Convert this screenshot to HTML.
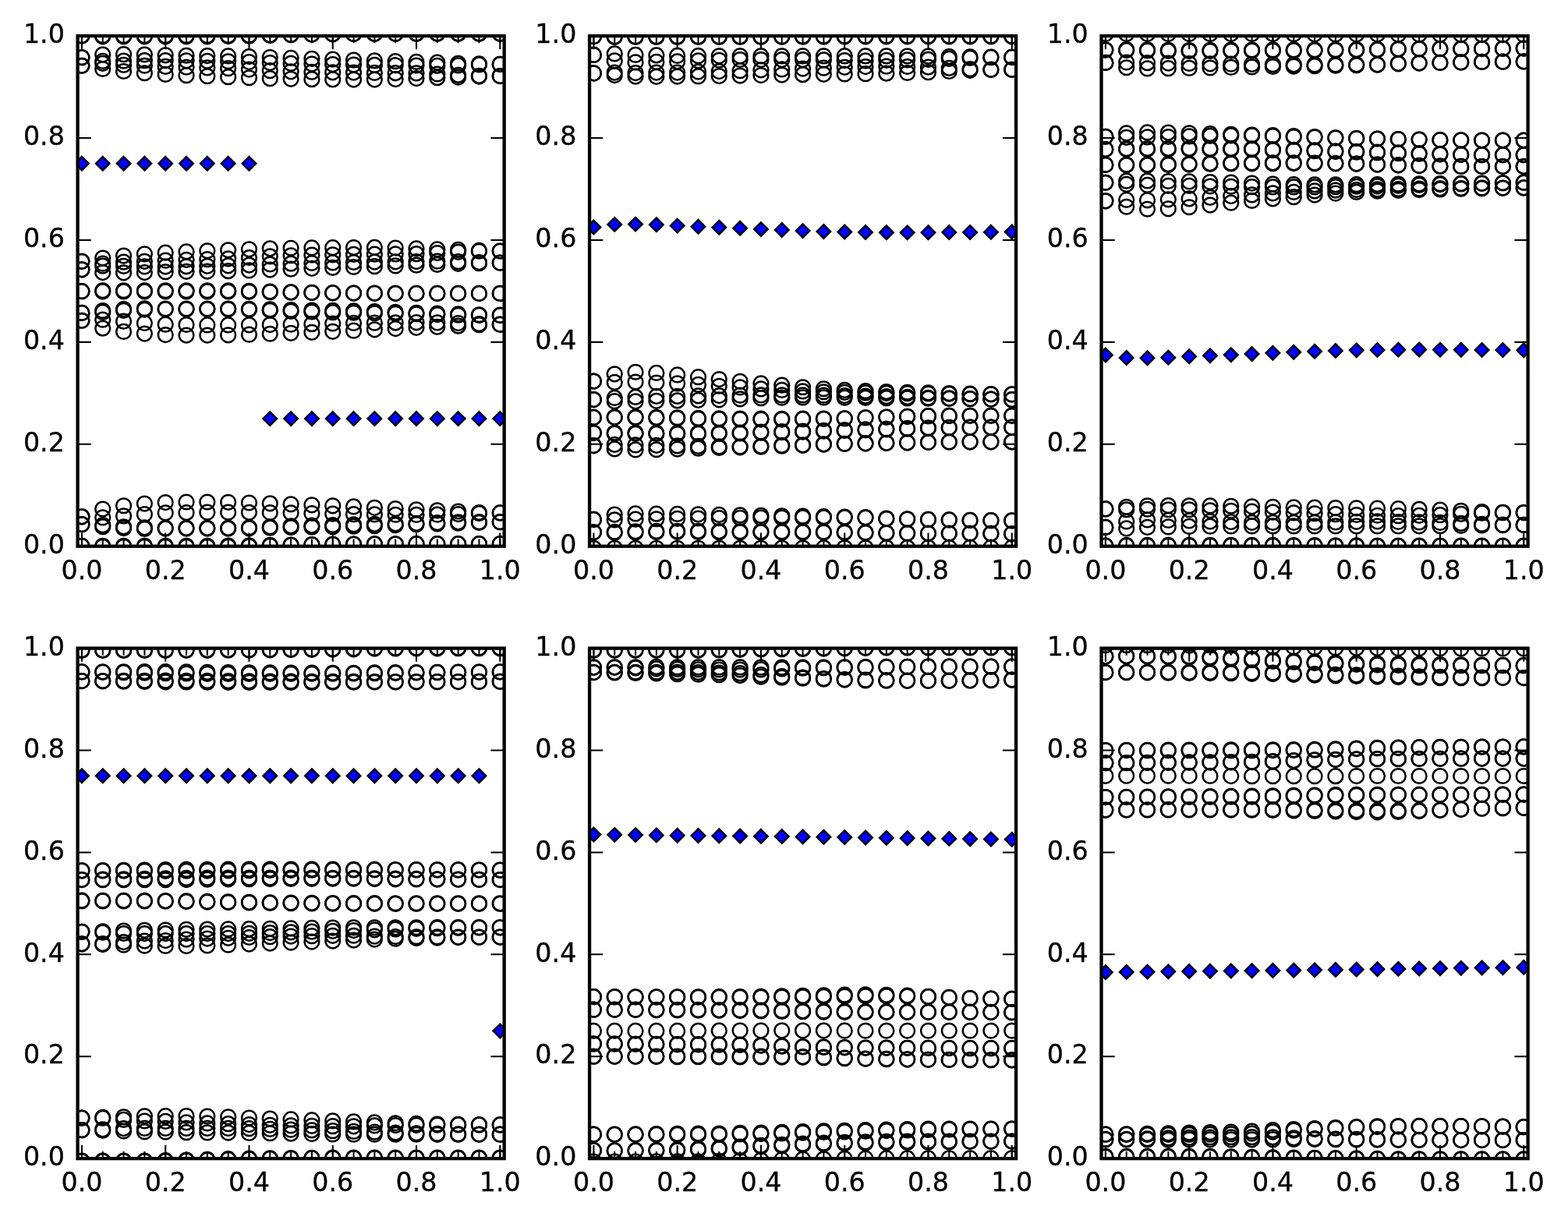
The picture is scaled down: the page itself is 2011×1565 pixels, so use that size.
<!DOCTYPE html>
<html lang="en">
<head>
<meta charset="utf-8">
<title>Spectrum subplots</title>
<style>
html,body{margin:0;padding:0;background:#fff;}
body{width:2011px;height:1565px;overflow:hidden;}
svg{display:block;}
text{font-family:"DejaVu Sans","Liberation Sans",sans-serif;font-size:33.33px;fill:#000;stroke:#000;stroke-width:0.3px;}
</style>
</head>
<body>

<svg width="2011" height="1565" viewBox="0 0 2011 1565">
<rect width="2011" height="1565" fill="#fff"/>
<defs><clipPath id="c0"><rect x="99.6" y="46.15" width="547.06" height="654.55"/></clipPath><clipPath id="c1"><rect x="756.07" y="46.15" width="547.06" height="654.55"/></clipPath><clipPath id="c2"><rect x="1412.54" y="46.15" width="547.06" height="654.55"/></clipPath><clipPath id="c3"><rect x="99.6" y="831.6" width="547.06" height="654.55"/></clipPath><clipPath id="c4"><rect x="756.07" y="831.6" width="547.06" height="654.55"/></clipPath><clipPath id="c5"><rect x="1412.54" y="831.6" width="547.06" height="654.55"/></clipPath></defs>
<g id="ax0">
<g clip-path="url(#c0)">
<g fill="none" stroke="#000" stroke-width="2.5"><circle cx="104.96" cy="73.77" r="9.35"/><circle cx="131.78" cy="69.98" r="9.35"/><circle cx="158.6" cy="69.71" r="9.35"/><circle cx="185.41" cy="69.98" r="9.35"/><circle cx="212.23" cy="70.83" r="9.35"/><circle cx="239.05" cy="71.25" r="9.35"/><circle cx="265.86" cy="71.55" r="9.35"/><circle cx="292.68" cy="71.94" r="9.35"/><circle cx="319.5" cy="72.62" r="9.35"/><circle cx="346.31" cy="73.52" r="9.35"/><circle cx="373.13" cy="74.43" r="9.35"/><circle cx="399.95" cy="75.3" r="9.35"/><circle cx="426.76" cy="76.18" r="9.35"/><circle cx="453.58" cy="77.06" r="9.35"/><circle cx="480.4" cy="77.9" r="9.35"/><circle cx="507.21" cy="78.66" r="9.35"/><circle cx="534.03" cy="79.4" r="9.35"/><circle cx="560.85" cy="80.19" r="9.35"/><circle cx="587.66" cy="81.23" r="9.35"/><circle cx="614.48" cy="81.89" r="9.35"/><circle cx="641.3" cy="82.41" r="9.35"/><circle cx="104.96" cy="73.77" r="9.35"/><circle cx="131.78" cy="78.42" r="9.35"/><circle cx="158.6" cy="78.16" r="9.35"/><circle cx="185.41" cy="77.63" r="9.35"/><circle cx="212.23" cy="77.63" r="9.35"/><circle cx="239.05" cy="77.81" r="9.35"/><circle cx="265.86" cy="78.23" r="9.35"/><circle cx="292.68" cy="78.75" r="9.35"/><circle cx="319.5" cy="79.53" r="9.35"/><circle cx="346.31" cy="80.56" r="9.35"/><circle cx="373.13" cy="81.43" r="9.35"/><circle cx="399.95" cy="82.05" r="9.35"/><circle cx="426.76" cy="82.61" r="9.35"/><circle cx="453.58" cy="83.08" r="9.35"/><circle cx="480.4" cy="83.46" r="9.35"/><circle cx="507.21" cy="83.72" r="9.35"/><circle cx="534.03" cy="83.98" r="9.35"/><circle cx="560.85" cy="84.38" r="9.35"/><circle cx="587.66" cy="83.92" r="9.35"/><circle cx="614.48" cy="82.94" r="9.35"/><circle cx="641.3" cy="82.41" r="9.35"/><circle cx="104.96" cy="84.24" r="9.35"/><circle cx="131.78" cy="81.36" r="9.35"/><circle cx="158.6" cy="83.39" r="9.35"/><circle cx="185.41" cy="84.24" r="9.35"/><circle cx="212.23" cy="85.42" r="9.35"/><circle cx="239.05" cy="86.23" r="9.35"/><circle cx="265.86" cy="86.9" r="9.35"/><circle cx="292.68" cy="87.71" r="9.35"/><circle cx="319.5" cy="89.08" r="9.35"/><circle cx="346.31" cy="90.71" r="9.35"/><circle cx="373.13" cy="91.84" r="9.35"/><circle cx="399.95" cy="92.38" r="9.35"/><circle cx="426.76" cy="92.78" r="9.35"/><circle cx="453.58" cy="93.11" r="9.35"/><circle cx="480.4" cy="93.41" r="9.35"/><circle cx="507.21" cy="93.63" r="9.35"/><circle cx="534.03" cy="93.93" r="9.35"/><circle cx="560.85" cy="94.98" r="9.35"/><circle cx="587.66" cy="96.29" r="9.35"/><circle cx="614.48" cy="97.34" r="9.35"/><circle cx="641.3" cy="97.6" r="9.35"/><circle cx="104.96" cy="84.24" r="9.35"/><circle cx="131.78" cy="88.5" r="9.35"/><circle cx="158.6" cy="91.51" r="9.35"/><circle cx="185.41" cy="93.74" r="9.35"/><circle cx="212.23" cy="95.44" r="9.35"/><circle cx="239.05" cy="96.68" r="9.35"/><circle cx="265.86" cy="97.74" r="9.35"/><circle cx="292.68" cy="98.71" r="9.35"/><circle cx="319.5" cy="99.75" r="9.35"/><circle cx="346.31" cy="100.72" r="9.35"/><circle cx="373.13" cy="101.33" r="9.35"/><circle cx="399.95" cy="101.64" r="9.35"/><circle cx="426.76" cy="101.89" r="9.35"/><circle cx="453.58" cy="102.05" r="9.35"/><circle cx="480.4" cy="102.11" r="9.35"/><circle cx="507.21" cy="101.58" r="9.35"/><circle cx="534.03" cy="100.61" r="9.35"/><circle cx="560.85" cy="99.63" r="9.35"/><circle cx="587.66" cy="99.1" r="9.35"/><circle cx="614.48" cy="98.12" r="9.35"/><circle cx="641.3" cy="97.6" r="9.35"/><circle cx="104.96" cy="662.87" r="9.35"/><circle cx="131.78" cy="652.98" r="9.35"/><circle cx="158.6" cy="648.73" r="9.35"/><circle cx="185.41" cy="646.05" r="9.35"/><circle cx="212.23" cy="644.54" r="9.35"/><circle cx="239.05" cy="644.02" r="9.35"/><circle cx="265.86" cy="644.02" r="9.35"/><circle cx="292.68" cy="644.34" r="9.35"/><circle cx="319.5" cy="644.98" r="9.35"/><circle cx="346.31" cy="645.87" r="9.35"/><circle cx="373.13" cy="646.83" r="9.35"/><circle cx="399.95" cy="647.79" r="9.35"/><circle cx="426.76" cy="648.84" r="9.35"/><circle cx="453.58" cy="649.97" r="9.35"/><circle cx="480.4" cy="651.28" r="9.35"/><circle cx="507.21" cy="652.55" r="9.35"/><circle cx="534.03" cy="653.77" r="9.35"/><circle cx="560.85" cy="654.85" r="9.35"/><circle cx="587.66" cy="655.99" r="9.35"/><circle cx="614.48" cy="657.5" r="9.35"/><circle cx="641.3" cy="657.96" r="9.35"/><circle cx="104.96" cy="662.87" r="9.35"/><circle cx="131.78" cy="663.91" r="9.35"/><circle cx="158.6" cy="661.95" r="9.35"/><circle cx="185.41" cy="659.66" r="9.35"/><circle cx="212.23" cy="657.96" r="9.35"/><circle cx="239.05" cy="657.63" r="9.35"/><circle cx="265.86" cy="657.17" r="9.35"/><circle cx="292.68" cy="657.17" r="9.35"/><circle cx="319.5" cy="657.3" r="9.35"/><circle cx="346.31" cy="657.6" r="9.35"/><circle cx="373.13" cy="657.96" r="9.35"/><circle cx="399.95" cy="658.48" r="9.35"/><circle cx="426.76" cy="659.15" r="9.35"/><circle cx="453.58" cy="659.66" r="9.35"/><circle cx="480.4" cy="659.92" r="9.35"/><circle cx="507.21" cy="660.25" r="9.35"/><circle cx="534.03" cy="660.45" r="9.35"/><circle cx="560.85" cy="660.17" r="9.35"/><circle cx="587.66" cy="659.59" r="9.35"/><circle cx="614.48" cy="658.61" r="9.35"/><circle cx="641.3" cy="657.96" r="9.35"/><circle cx="104.96" cy="672.69" r="9.35"/><circle cx="131.78" cy="673.67" r="9.35"/><circle cx="158.6" cy="675.83" r="9.35"/><circle cx="185.41" cy="676.87" r="9.35"/><circle cx="212.23" cy="677.33" r="9.35"/><circle cx="239.05" cy="677.33" r="9.35"/><circle cx="265.86" cy="677.33" r="9.35"/><circle cx="292.68" cy="677.33" r="9.35"/><circle cx="319.5" cy="676.85" r="9.35"/><circle cx="346.31" cy="675.82" r="9.35"/><circle cx="373.13" cy="674.85" r="9.35"/><circle cx="399.95" cy="674.14" r="9.35"/><circle cx="426.76" cy="673.48" r="9.35"/><circle cx="453.58" cy="672.88" r="9.35"/><circle cx="480.4" cy="672.36" r="9.35"/><circle cx="507.21" cy="671.89" r="9.35"/><circle cx="534.03" cy="671.38" r="9.35"/><circle cx="560.85" cy="670.55" r="9.35"/><circle cx="587.66" cy="669.87" r="9.35"/><circle cx="614.48" cy="669.67" r="9.35"/><circle cx="641.3" cy="669.67" r="9.35"/><circle cx="104.96" cy="672.69" r="9.35"/><circle cx="131.78" cy="675.63" r="9.35"/><circle cx="158.6" cy="677.59" r="9.35"/><circle cx="185.41" cy="678.38" r="9.35"/><circle cx="212.23" cy="678.12" r="9.35"/><circle cx="239.05" cy="678.12" r="9.35"/><circle cx="265.86" cy="678.12" r="9.35"/><circle cx="292.68" cy="678.12" r="9.35"/><circle cx="319.5" cy="677.84" r="9.35"/><circle cx="346.31" cy="677.22" r="9.35"/><circle cx="373.13" cy="676.61" r="9.35"/><circle cx="399.95" cy="676.13" r="9.35"/><circle cx="426.76" cy="675.66" r="9.35"/><circle cx="453.58" cy="675.17" r="9.35"/><circle cx="480.4" cy="674.65" r="9.35"/><circle cx="507.21" cy="673.71" r="9.35"/><circle cx="534.03" cy="672.69" r="9.35"/><circle cx="560.85" cy="671.91" r="9.35"/><circle cx="587.66" cy="671.18" r="9.35"/><circle cx="614.48" cy="670.39" r="9.35"/><circle cx="641.3" cy="669.67" r="9.35"/><circle cx="104.96" cy="700.44" r="9.35"/><circle cx="131.78" cy="700.24" r="9.35"/><circle cx="158.6" cy="700.24" r="9.35"/><circle cx="185.41" cy="700.24" r="9.35"/><circle cx="212.23" cy="700.24" r="9.35"/><circle cx="239.05" cy="700.24" r="9.35"/><circle cx="265.86" cy="700.24" r="9.35"/><circle cx="292.68" cy="700.11" r="9.35"/><circle cx="319.5" cy="699.82" r="9.35"/><circle cx="346.31" cy="699.4" r="9.35"/><circle cx="373.13" cy="699" r="9.35"/><circle cx="399.95" cy="698.63" r="9.35"/><circle cx="426.76" cy="698.27" r="9.35"/><circle cx="453.58" cy="698.02" r="9.35"/><circle cx="480.4" cy="697.86" r="9.35"/><circle cx="507.21" cy="697.74" r="9.35"/><circle cx="534.03" cy="697.69" r="9.35"/><circle cx="560.85" cy="697.69" r="9.35"/><circle cx="587.66" cy="697.69" r="9.35"/><circle cx="614.48" cy="697.69" r="9.35"/><circle cx="641.3" cy="697.69" r="9.35"/><circle cx="104.96" cy="45.89" r="9.35"/><circle cx="131.78" cy="45.69" r="9.35"/><circle cx="158.6" cy="45.69" r="9.35"/><circle cx="185.41" cy="45.69" r="9.35"/><circle cx="212.23" cy="45.69" r="9.35"/><circle cx="239.05" cy="45.69" r="9.35"/><circle cx="265.86" cy="45.69" r="9.35"/><circle cx="292.68" cy="45.56" r="9.35"/><circle cx="319.5" cy="45.27" r="9.35"/><circle cx="346.31" cy="44.85" r="9.35"/><circle cx="373.13" cy="44.45" r="9.35"/><circle cx="399.95" cy="44.08" r="9.35"/><circle cx="426.76" cy="43.72" r="9.35"/><circle cx="453.58" cy="43.47" r="9.35"/><circle cx="480.4" cy="43.31" r="9.35"/><circle cx="507.21" cy="43.19" r="9.35"/><circle cx="534.03" cy="43.14" r="9.35"/><circle cx="560.85" cy="43.14" r="9.35"/><circle cx="587.66" cy="43.14" r="9.35"/><circle cx="614.48" cy="43.14" r="9.35"/><circle cx="641.3" cy="43.14" r="9.35"/><circle cx="104.96" cy="700.44" r="9.35"/><circle cx="131.78" cy="701.35" r="9.35"/><circle cx="158.6" cy="701.35" r="9.35"/><circle cx="185.41" cy="701.35" r="9.35"/><circle cx="212.23" cy="701.35" r="9.35"/><circle cx="239.05" cy="701.35" r="9.35"/><circle cx="265.86" cy="701.35" r="9.35"/><circle cx="292.68" cy="701.17" r="9.35"/><circle cx="319.5" cy="700.77" r="9.35"/><circle cx="346.31" cy="700.03" r="9.35"/><circle cx="373.13" cy="699.26" r="9.35"/><circle cx="399.95" cy="698.79" r="9.35"/><circle cx="426.76" cy="698.42" r="9.35"/><circle cx="453.58" cy="698.15" r="9.35"/><circle cx="480.4" cy="697.93" r="9.35"/><circle cx="507.21" cy="697.76" r="9.35"/><circle cx="534.03" cy="697.69" r="9.35"/><circle cx="560.85" cy="697.69" r="9.35"/><circle cx="587.66" cy="697.69" r="9.35"/><circle cx="614.48" cy="697.69" r="9.35"/><circle cx="641.3" cy="697.69" r="9.35"/><circle cx="104.96" cy="45.89" r="9.35"/><circle cx="131.78" cy="46.8" r="9.35"/><circle cx="158.6" cy="46.8" r="9.35"/><circle cx="185.41" cy="46.8" r="9.35"/><circle cx="212.23" cy="46.8" r="9.35"/><circle cx="239.05" cy="46.8" r="9.35"/><circle cx="265.86" cy="46.8" r="9.35"/><circle cx="292.68" cy="46.62" r="9.35"/><circle cx="319.5" cy="46.22" r="9.35"/><circle cx="346.31" cy="45.48" r="9.35"/><circle cx="373.13" cy="44.71" r="9.35"/><circle cx="399.95" cy="44.24" r="9.35"/><circle cx="426.76" cy="43.87" r="9.35"/><circle cx="453.58" cy="43.6" r="9.35"/><circle cx="480.4" cy="43.38" r="9.35"/><circle cx="507.21" cy="43.21" r="9.35"/><circle cx="534.03" cy="43.14" r="9.35"/><circle cx="560.85" cy="43.14" r="9.35"/><circle cx="587.66" cy="43.14" r="9.35"/><circle cx="614.48" cy="43.14" r="9.35"/><circle cx="641.3" cy="43.14" r="9.35"/><circle cx="104.96" cy="345.8" r="9.35"/><circle cx="131.78" cy="349.6" r="9.35"/><circle cx="158.6" cy="349.86" r="9.35"/><circle cx="185.41" cy="349.6" r="9.35"/><circle cx="212.23" cy="348.75" r="9.35"/><circle cx="239.05" cy="348.33" r="9.35"/><circle cx="265.86" cy="348.03" r="9.35"/><circle cx="292.68" cy="347.64" r="9.35"/><circle cx="319.5" cy="346.95" r="9.35"/><circle cx="346.31" cy="346.06" r="9.35"/><circle cx="373.13" cy="345.15" r="9.35"/><circle cx="399.95" cy="344.28" r="9.35"/><circle cx="426.76" cy="343.39" r="9.35"/><circle cx="453.58" cy="342.51" r="9.35"/><circle cx="480.4" cy="341.68" r="9.35"/><circle cx="507.21" cy="340.92" r="9.35"/><circle cx="534.03" cy="340.17" r="9.35"/><circle cx="560.85" cy="339.39" r="9.35"/><circle cx="587.66" cy="338.34" r="9.35"/><circle cx="614.48" cy="337.69" r="9.35"/><circle cx="641.3" cy="337.16" r="9.35"/><circle cx="104.96" cy="345.8" r="9.35"/><circle cx="131.78" cy="341.16" r="9.35"/><circle cx="158.6" cy="341.42" r="9.35"/><circle cx="185.41" cy="341.94" r="9.35"/><circle cx="212.23" cy="341.94" r="9.35"/><circle cx="239.05" cy="341.77" r="9.35"/><circle cx="265.86" cy="341.35" r="9.35"/><circle cx="292.68" cy="340.83" r="9.35"/><circle cx="319.5" cy="340.05" r="9.35"/><circle cx="346.31" cy="339.02" r="9.35"/><circle cx="373.13" cy="338.14" r="9.35"/><circle cx="399.95" cy="337.52" r="9.35"/><circle cx="426.76" cy="336.97" r="9.35"/><circle cx="453.58" cy="336.5" r="9.35"/><circle cx="480.4" cy="336.12" r="9.35"/><circle cx="507.21" cy="335.85" r="9.35"/><circle cx="534.03" cy="335.59" r="9.35"/><circle cx="560.85" cy="335.2" r="9.35"/><circle cx="587.66" cy="335.66" r="9.35"/><circle cx="614.48" cy="336.64" r="9.35"/><circle cx="641.3" cy="337.16" r="9.35"/><circle cx="104.96" cy="335.33" r="9.35"/><circle cx="131.78" cy="338.21" r="9.35"/><circle cx="158.6" cy="336.18" r="9.35"/><circle cx="185.41" cy="335.33" r="9.35"/><circle cx="212.23" cy="334.15" r="9.35"/><circle cx="239.05" cy="333.35" r="9.35"/><circle cx="265.86" cy="332.68" r="9.35"/><circle cx="292.68" cy="331.86" r="9.35"/><circle cx="319.5" cy="330.5" r="9.35"/><circle cx="346.31" cy="328.87" r="9.35"/><circle cx="373.13" cy="327.74" r="9.35"/><circle cx="399.95" cy="327.2" r="9.35"/><circle cx="426.76" cy="326.79" r="9.35"/><circle cx="453.58" cy="326.47" r="9.35"/><circle cx="480.4" cy="326.17" r="9.35"/><circle cx="507.21" cy="325.94" r="9.35"/><circle cx="534.03" cy="325.64" r="9.35"/><circle cx="560.85" cy="324.6" r="9.35"/><circle cx="587.66" cy="323.29" r="9.35"/><circle cx="614.48" cy="322.24" r="9.35"/><circle cx="641.3" cy="321.98" r="9.35"/><circle cx="104.96" cy="335.33" r="9.35"/><circle cx="131.78" cy="331.08" r="9.35"/><circle cx="158.6" cy="328.06" r="9.35"/><circle cx="185.41" cy="325.84" r="9.35"/><circle cx="212.23" cy="324.14" r="9.35"/><circle cx="239.05" cy="322.89" r="9.35"/><circle cx="265.86" cy="321.84" r="9.35"/><circle cx="292.68" cy="320.86" r="9.35"/><circle cx="319.5" cy="319.83" r="9.35"/><circle cx="346.31" cy="318.86" r="9.35"/><circle cx="373.13" cy="318.25" r="9.35"/><circle cx="399.95" cy="317.94" r="9.35"/><circle cx="426.76" cy="317.69" r="9.35"/><circle cx="453.58" cy="317.52" r="9.35"/><circle cx="480.4" cy="317.46" r="9.35"/><circle cx="507.21" cy="318" r="9.35"/><circle cx="534.03" cy="318.97" r="9.35"/><circle cx="560.85" cy="319.95" r="9.35"/><circle cx="587.66" cy="320.47" r="9.35"/><circle cx="614.48" cy="321.45" r="9.35"/><circle cx="641.3" cy="321.98" r="9.35"/><circle cx="104.96" cy="411.26" r="9.35"/><circle cx="131.78" cy="421.14" r="9.35"/><circle cx="158.6" cy="425.4" r="9.35"/><circle cx="185.41" cy="428.08" r="9.35"/><circle cx="212.23" cy="429.59" r="9.35"/><circle cx="239.05" cy="430.11" r="9.35"/><circle cx="265.86" cy="430.11" r="9.35"/><circle cx="292.68" cy="429.78" r="9.35"/><circle cx="319.5" cy="429.15" r="9.35"/><circle cx="346.31" cy="428.25" r="9.35"/><circle cx="373.13" cy="427.29" r="9.35"/><circle cx="399.95" cy="426.33" r="9.35"/><circle cx="426.76" cy="425.29" r="9.35"/><circle cx="453.58" cy="424.15" r="9.35"/><circle cx="480.4" cy="422.84" r="9.35"/><circle cx="507.21" cy="421.57" r="9.35"/><circle cx="534.03" cy="420.36" r="9.35"/><circle cx="560.85" cy="419.28" r="9.35"/><circle cx="587.66" cy="418.13" r="9.35"/><circle cx="614.48" cy="416.63" r="9.35"/><circle cx="641.3" cy="416.17" r="9.35"/><circle cx="104.96" cy="411.26" r="9.35"/><circle cx="131.78" cy="410.21" r="9.35"/><circle cx="158.6" cy="412.17" r="9.35"/><circle cx="185.41" cy="414.47" r="9.35"/><circle cx="212.23" cy="416.17" r="9.35"/><circle cx="239.05" cy="416.49" r="9.35"/><circle cx="265.86" cy="416.95" r="9.35"/><circle cx="292.68" cy="416.95" r="9.35"/><circle cx="319.5" cy="416.83" r="9.35"/><circle cx="346.31" cy="416.53" r="9.35"/><circle cx="373.13" cy="416.17" r="9.35"/><circle cx="399.95" cy="415.64" r="9.35"/><circle cx="426.76" cy="414.98" r="9.35"/><circle cx="453.58" cy="414.47" r="9.35"/><circle cx="480.4" cy="414.2" r="9.35"/><circle cx="507.21" cy="413.88" r="9.35"/><circle cx="534.03" cy="413.68" r="9.35"/><circle cx="560.85" cy="413.95" r="9.35"/><circle cx="587.66" cy="414.53" r="9.35"/><circle cx="614.48" cy="415.51" r="9.35"/><circle cx="641.3" cy="416.17" r="9.35"/><circle cx="104.96" cy="401.44" r="9.35"/><circle cx="131.78" cy="400.46" r="9.35"/><circle cx="158.6" cy="398.3" r="9.35"/><circle cx="185.41" cy="397.25" r="9.35"/><circle cx="212.23" cy="396.79" r="9.35"/><circle cx="239.05" cy="396.79" r="9.35"/><circle cx="265.86" cy="396.79" r="9.35"/><circle cx="292.68" cy="396.79" r="9.35"/><circle cx="319.5" cy="397.27" r="9.35"/><circle cx="346.31" cy="398.31" r="9.35"/><circle cx="373.13" cy="399.28" r="9.35"/><circle cx="399.95" cy="399.99" r="9.35"/><circle cx="426.76" cy="400.64" r="9.35"/><circle cx="453.58" cy="401.24" r="9.35"/><circle cx="480.4" cy="401.77" r="9.35"/><circle cx="507.21" cy="402.24" r="9.35"/><circle cx="534.03" cy="402.75" r="9.35"/><circle cx="560.85" cy="403.58" r="9.35"/><circle cx="587.66" cy="404.25" r="9.35"/><circle cx="614.48" cy="404.45" r="9.35"/><circle cx="641.3" cy="404.45" r="9.35"/><circle cx="104.96" cy="401.44" r="9.35"/><circle cx="131.78" cy="398.49" r="9.35"/><circle cx="158.6" cy="396.53" r="9.35"/><circle cx="185.41" cy="395.75" r="9.35"/><circle cx="212.23" cy="396.01" r="9.35"/><circle cx="239.05" cy="396.01" r="9.35"/><circle cx="265.86" cy="396.01" r="9.35"/><circle cx="292.68" cy="396.01" r="9.35"/><circle cx="319.5" cy="396.29" r="9.35"/><circle cx="346.31" cy="396.9" r="9.35"/><circle cx="373.13" cy="397.51" r="9.35"/><circle cx="399.95" cy="397.99" r="9.35"/><circle cx="426.76" cy="398.46" r="9.35"/><circle cx="453.58" cy="398.95" r="9.35"/><circle cx="480.4" cy="399.48" r="9.35"/><circle cx="507.21" cy="400.41" r="9.35"/><circle cx="534.03" cy="401.44" r="9.35"/><circle cx="560.85" cy="402.21" r="9.35"/><circle cx="587.66" cy="402.95" r="9.35"/><circle cx="614.48" cy="403.73" r="9.35"/><circle cx="641.3" cy="404.45" r="9.35"/><circle cx="104.96" cy="373.69" r="9.35"/><circle cx="131.78" cy="373.88" r="9.35"/><circle cx="158.6" cy="373.88" r="9.35"/><circle cx="185.41" cy="373.88" r="9.35"/><circle cx="212.23" cy="373.88" r="9.35"/><circle cx="239.05" cy="373.88" r="9.35"/><circle cx="265.86" cy="373.88" r="9.35"/><circle cx="292.68" cy="374.01" r="9.35"/><circle cx="319.5" cy="374.3" r="9.35"/><circle cx="346.31" cy="374.72" r="9.35"/><circle cx="373.13" cy="375.13" r="9.35"/><circle cx="399.95" cy="375.5" r="9.35"/><circle cx="426.76" cy="375.86" r="9.35"/><circle cx="453.58" cy="376.11" r="9.35"/><circle cx="480.4" cy="376.27" r="9.35"/><circle cx="507.21" cy="376.39" r="9.35"/><circle cx="534.03" cy="376.44" r="9.35"/><circle cx="560.85" cy="376.44" r="9.35"/><circle cx="587.66" cy="376.44" r="9.35"/><circle cx="614.48" cy="376.44" r="9.35"/><circle cx="641.3" cy="376.44" r="9.35"/><circle cx="104.96" cy="373.69" r="9.35"/><circle cx="131.78" cy="372.77" r="9.35"/><circle cx="158.6" cy="372.77" r="9.35"/><circle cx="185.41" cy="372.77" r="9.35"/><circle cx="212.23" cy="372.77" r="9.35"/><circle cx="239.05" cy="372.77" r="9.35"/><circle cx="265.86" cy="372.77" r="9.35"/><circle cx="292.68" cy="372.96" r="9.35"/><circle cx="319.5" cy="373.36" r="9.35"/><circle cx="346.31" cy="374.09" r="9.35"/><circle cx="373.13" cy="374.87" r="9.35"/><circle cx="399.95" cy="375.33" r="9.35"/><circle cx="426.76" cy="375.71" r="9.35"/><circle cx="453.58" cy="375.98" r="9.35"/><circle cx="480.4" cy="376.19" r="9.35"/><circle cx="507.21" cy="376.37" r="9.35"/><circle cx="534.03" cy="376.44" r="9.35"/><circle cx="560.85" cy="376.44" r="9.35"/><circle cx="587.66" cy="376.44" r="9.35"/><circle cx="614.48" cy="376.44" r="9.35"/><circle cx="641.3" cy="376.44" r="9.35"/></g>
<path fill="none" stroke="#000" stroke-width="2" d="M104.96 36.95V55.35M95.76 46.15H114.16M131.78 36.95V55.35M122.58 46.15H140.98M158.6 36.95V55.35M149.4 46.15H167.8M185.41 36.95V55.35M176.21 46.15H194.61M212.23 36.95V55.35M203.03 46.15H221.43M239.05 36.95V55.35M229.85 46.15H248.25M265.86 36.95V55.35M256.66 46.15H275.06M292.68 36.95V55.35M283.48 46.15H301.88M319.5 36.95V55.35M310.3 46.15H328.7M346.31 36.95V55.35M337.11 46.15H355.51M373.13 36.95V55.35M363.93 46.15H382.33M399.95 36.95V55.35M390.75 46.15H409.15M426.76 36.95V55.35M417.56 46.15H435.96M453.58 36.95V55.35M444.38 46.15H462.78M480.4 36.95V55.35M471.2 46.15H489.6M507.21 36.95V55.35M498.01 46.15H516.41M534.03 36.95V55.35M524.83 46.15H543.23M560.85 36.95V55.35M551.65 46.15H570.05M587.66 36.95V55.35M578.46 46.15H596.86M614.48 36.95V55.35M605.28 46.15H623.68M641.3 36.95V55.35M632.1 46.15H650.5M104.96 691.5V709.9M95.76 700.7H114.16M131.78 691.5V709.9M122.58 700.7H140.98M158.6 691.5V709.9M149.4 700.7H167.8M185.41 691.5V709.9M176.21 700.7H194.61M212.23 691.5V709.9M203.03 700.7H221.43M239.05 691.5V709.9M229.85 700.7H248.25M265.86 691.5V709.9M256.66 700.7H275.06M292.68 691.5V709.9M283.48 700.7H301.88M319.5 691.5V709.9M310.3 700.7H328.7M346.31 691.5V709.9M337.11 700.7H355.51M373.13 691.5V709.9M363.93 700.7H382.33M399.95 691.5V709.9M390.75 700.7H409.15M426.76 691.5V709.9M417.56 700.7H435.96M453.58 691.5V709.9M444.38 700.7H462.78M480.4 691.5V709.9M471.2 700.7H489.6M507.21 691.5V709.9M498.01 700.7H516.41M534.03 691.5V709.9M524.83 700.7H543.23M560.85 691.5V709.9M551.65 700.7H570.05M587.66 691.5V709.9M578.46 700.7H596.86M614.48 691.5V709.9M605.28 700.7H623.68M641.3 691.5V709.9M632.1 700.7H650.5"/>
<path fill="#0000ff" stroke="#000" stroke-width="2.3" stroke-linejoin="miter" d="M104.96 200.95L113.8 209.79L104.96 218.63L96.12 209.79ZM131.78 200.95L140.62 209.79L131.78 218.63L122.94 209.79ZM158.6 200.95L167.44 209.79L158.6 218.63L149.76 209.79ZM185.41 200.95L194.25 209.79L185.41 218.63L176.57 209.79ZM212.23 200.95L221.07 209.79L212.23 218.63L203.39 209.79ZM239.05 200.95L247.89 209.79L239.05 218.63L230.21 209.79ZM265.86 200.95L274.7 209.79L265.86 218.63L257.02 209.79ZM292.68 200.95L301.52 209.79L292.68 218.63L283.84 209.79ZM319.5 200.95L328.34 209.79L319.5 218.63L310.66 209.79ZM346.31 528.22L355.15 537.06L346.31 545.9L337.47 537.06ZM373.13 528.22L381.97 537.06L373.13 545.9L364.29 537.06ZM399.95 528.22L408.79 537.06L399.95 545.9L391.11 537.06ZM426.76 528.22L435.6 537.06L426.76 545.9L417.92 537.06ZM453.58 528.22L462.42 537.06L453.58 545.9L444.74 537.06ZM480.4 528.22L489.24 537.06L480.4 545.9L471.56 537.06ZM507.21 528.22L516.05 537.06L507.21 545.9L498.37 537.06ZM534.03 528.22L542.87 537.06L534.03 545.9L525.19 537.06ZM560.85 528.22L569.69 537.06L560.85 545.9L552.01 537.06ZM587.66 528.22L596.5 537.06L587.66 545.9L578.82 537.06ZM614.48 528.22L623.32 537.06L614.48 545.9L605.64 537.06ZM641.3 528.22L650.14 537.06L641.3 545.9L632.46 537.06Z"/>
</g>
<path fill="none" stroke="#000" stroke-width="2.08" d="M104.96 700.7V683.5M104.96 46.15V63.35M99.6 700.7H116.8M646.66 700.7H629.46M212.23 700.7V683.5M212.23 46.15V63.35M99.6 569.79H116.8M646.66 569.79H629.46M319.5 700.7V683.5M319.5 46.15V63.35M99.6 438.88H116.8M646.66 438.88H629.46M426.76 700.7V683.5M426.76 46.15V63.35M99.6 307.97H116.8M646.66 307.97H629.46M534.03 700.7V683.5M534.03 46.15V63.35M99.6 177.06H116.8M646.66 177.06H629.46M641.3 700.7V683.5M641.3 46.15V63.35M99.6 46.15H116.8M646.66 46.15H629.46"/>
<rect x="99.6" y="46.15" width="547.06" height="654.55" fill="none" stroke="#000" stroke-width="4.3"/>
<g><text x="104.96" y="743" text-anchor="middle">0.0</text><text x="82.9" y="709.9" text-anchor="end">0.0</text><text x="212.23" y="743" text-anchor="middle">0.2</text><text x="82.9" y="578.99" text-anchor="end">0.2</text><text x="319.5" y="743" text-anchor="middle">0.4</text><text x="82.9" y="448.08" text-anchor="end">0.4</text><text x="426.76" y="743" text-anchor="middle">0.6</text><text x="82.9" y="317.17" text-anchor="end">0.6</text><text x="534.03" y="743" text-anchor="middle">0.8</text><text x="82.9" y="186.26" text-anchor="end">0.8</text><text x="641.3" y="743" text-anchor="middle">1.0</text><text x="82.9" y="55.35" text-anchor="end">1.0</text></g>
</g>
<g id="ax1">
<g clip-path="url(#c1)">
<g fill="none" stroke="#000" stroke-width="2.5"><circle cx="761.43" cy="70.43" r="9.35"/><circle cx="788.25" cy="68.93" r="9.35"/><circle cx="815.07" cy="70.43" r="9.35"/><circle cx="841.88" cy="70.89" r="9.35"/><circle cx="868.7" cy="71.42" r="9.35"/><circle cx="895.52" cy="71.68" r="9.35"/><circle cx="922.33" cy="71.85" r="9.35"/><circle cx="949.15" cy="71.94" r="9.35"/><circle cx="975.97" cy="71.94" r="9.35"/><circle cx="1002.78" cy="71.94" r="9.35"/><circle cx="1029.6" cy="71.94" r="9.35"/><circle cx="1056.42" cy="71.94" r="9.35"/><circle cx="1083.23" cy="71.94" r="9.35"/><circle cx="1110.05" cy="71.94" r="9.35"/><circle cx="1136.87" cy="71.94" r="9.35"/><circle cx="1163.68" cy="72.02" r="9.35"/><circle cx="1190.5" cy="72.2" r="9.35"/><circle cx="1217.32" cy="72.53" r="9.35"/><circle cx="1244.13" cy="72.92" r="9.35"/><circle cx="1270.95" cy="73.18" r="9.35"/><circle cx="1297.77" cy="73.38" r="9.35"/><circle cx="761.43" cy="70.43" r="9.35"/><circle cx="788.25" cy="77.9" r="9.35"/><circle cx="815.07" cy="79.92" r="9.35"/><circle cx="841.88" cy="79.4" r="9.35"/><circle cx="868.7" cy="78.88" r="9.35"/><circle cx="895.52" cy="77.9" r="9.35"/><circle cx="922.33" cy="77.24" r="9.35"/><circle cx="949.15" cy="76.52" r="9.35"/><circle cx="975.97" cy="76.53" r="9.35"/><circle cx="1002.78" cy="76.55" r="9.35"/><circle cx="1029.6" cy="76.59" r="9.35"/><circle cx="1056.42" cy="76.94" r="9.35"/><circle cx="1083.23" cy="77.57" r="9.35"/><circle cx="1110.05" cy="77.9" r="9.35"/><circle cx="1136.87" cy="77.37" r="9.35"/><circle cx="1163.68" cy="76.92" r="9.35"/><circle cx="1190.5" cy="76.39" r="9.35"/><circle cx="1217.32" cy="75.46" r="9.35"/><circle cx="1244.13" cy="74.43" r="9.35"/><circle cx="1270.95" cy="73.64" r="9.35"/><circle cx="1297.77" cy="73.38" r="9.35"/><circle cx="761.43" cy="93.93" r="9.35"/><circle cx="788.25" cy="93.08" r="9.35"/><circle cx="815.07" cy="93.6" r="9.35"/><circle cx="841.88" cy="93.08" r="9.35"/><circle cx="868.7" cy="93.08" r="9.35"/><circle cx="895.52" cy="92.1" r="9.35"/><circle cx="922.33" cy="91.58" r="9.35"/><circle cx="949.15" cy="90.66" r="9.35"/><circle cx="975.97" cy="89.79" r="9.35"/><circle cx="1002.78" cy="88.94" r="9.35"/><circle cx="1029.6" cy="88.11" r="9.35"/><circle cx="1056.42" cy="87.21" r="9.35"/><circle cx="1083.23" cy="86.33" r="9.35"/><circle cx="1110.05" cy="85.62" r="9.35"/><circle cx="1136.87" cy="85.16" r="9.35"/><circle cx="1163.68" cy="85.48" r="9.35"/><circle cx="1190.5" cy="86.14" r="9.35"/><circle cx="1217.32" cy="87.39" r="9.35"/><circle cx="1244.13" cy="88.63" r="9.35"/><circle cx="1270.95" cy="89.15" r="9.35"/><circle cx="1297.77" cy="89.28" r="9.35"/><circle cx="761.43" cy="93.93" r="9.35"/><circle cx="788.25" cy="96.62" r="9.35"/><circle cx="815.07" cy="98.12" r="9.35"/><circle cx="841.88" cy="98.32" r="9.35"/><circle cx="868.7" cy="98.12" r="9.35"/><circle cx="895.52" cy="97.92" r="9.35"/><circle cx="922.33" cy="97.6" r="9.35"/><circle cx="949.15" cy="97.07" r="9.35"/><circle cx="975.97" cy="96.56" r="9.35"/><circle cx="1002.78" cy="96.07" r="9.35"/><circle cx="1029.6" cy="95.63" r="9.35"/><circle cx="1056.42" cy="95.3" r="9.35"/><circle cx="1083.23" cy="95.01" r="9.35"/><circle cx="1110.05" cy="94.65" r="9.35"/><circle cx="1136.87" cy="94.13" r="9.35"/><circle cx="1163.68" cy="93.48" r="9.35"/><circle cx="1190.5" cy="92.69" r="9.35"/><circle cx="1217.32" cy="91.5" r="9.35"/><circle cx="1244.13" cy="90.33" r="9.35"/><circle cx="1270.95" cy="89.61" r="9.35"/><circle cx="1297.77" cy="89.28" r="9.35"/><circle cx="761.43" cy="666.4" r="9.35"/><circle cx="788.25" cy="660.12" r="9.35"/><circle cx="815.07" cy="658.94" r="9.35"/><circle cx="841.88" cy="659.14" r="9.35"/><circle cx="868.7" cy="659.4" r="9.35"/><circle cx="895.52" cy="659.83" r="9.35"/><circle cx="922.33" cy="660.38" r="9.35"/><circle cx="949.15" cy="660.9" r="9.35"/><circle cx="975.97" cy="661.35" r="9.35"/><circle cx="1002.78" cy="661.77" r="9.35"/><circle cx="1029.6" cy="662.21" r="9.35"/><circle cx="1056.42" cy="662.64" r="9.35"/><circle cx="1083.23" cy="663.08" r="9.35"/><circle cx="1110.05" cy="663.72" r="9.35"/><circle cx="1136.87" cy="665.03" r="9.35"/><circle cx="1163.68" cy="665.8" r="9.35"/><circle cx="1190.5" cy="666.4" r="9.35"/><circle cx="1217.32" cy="666.95" r="9.35"/><circle cx="1244.13" cy="667.38" r="9.35"/><circle cx="1270.95" cy="667.69" r="9.35"/><circle cx="1297.77" cy="667.91" r="9.35"/><circle cx="761.43" cy="666.4" r="9.35"/><circle cx="788.25" cy="666.86" r="9.35"/><circle cx="815.07" cy="666.21" r="9.35"/><circle cx="841.88" cy="665.74" r="9.35"/><circle cx="868.7" cy="665.35" r="9.35"/><circle cx="895.52" cy="664.98" r="9.35"/><circle cx="922.33" cy="664.64" r="9.35"/><circle cx="949.15" cy="664.37" r="9.35"/><circle cx="975.97" cy="664.16" r="9.35"/><circle cx="1002.78" cy="663.99" r="9.35"/><circle cx="1029.6" cy="663.91" r="9.35"/><circle cx="1056.42" cy="663.93" r="9.35"/><circle cx="1083.23" cy="663.97" r="9.35"/><circle cx="1110.05" cy="664.05" r="9.35"/><circle cx="1136.87" cy="665.49" r="9.35"/><circle cx="1163.68" cy="666.01" r="9.35"/><circle cx="1190.5" cy="666.4" r="9.35"/><circle cx="1217.32" cy="666.93" r="9.35"/><circle cx="1244.13" cy="667.38" r="9.35"/><circle cx="1270.95" cy="667.69" r="9.35"/><circle cx="1297.77" cy="667.91" r="9.35"/><circle cx="761.43" cy="682.77" r="9.35"/><circle cx="788.25" cy="682.24" r="9.35"/><circle cx="815.07" cy="681.85" r="9.35"/><circle cx="841.88" cy="681.47" r="9.35"/><circle cx="868.7" cy="681.26" r="9.35"/><circle cx="895.52" cy="681.37" r="9.35"/><circle cx="922.33" cy="681.61" r="9.35"/><circle cx="949.15" cy="681.78" r="9.35"/><circle cx="975.97" cy="681.85" r="9.35"/><circle cx="1002.78" cy="681.9" r="9.35"/><circle cx="1029.6" cy="681.98" r="9.35"/><circle cx="1056.42" cy="682.17" r="9.35"/><circle cx="1083.23" cy="682.49" r="9.35"/><circle cx="1110.05" cy="682.9" r="9.35"/><circle cx="1136.87" cy="683.55" r="9.35"/><circle cx="1163.68" cy="683.92" r="9.35"/><circle cx="1190.5" cy="684.14" r="9.35"/><circle cx="1217.32" cy="684.21" r="9.35"/><circle cx="1244.13" cy="684.27" r="9.35"/><circle cx="1270.95" cy="684.47" r="9.35"/><circle cx="1297.77" cy="684.79" r="9.35"/><circle cx="761.43" cy="682.77" r="9.35"/><circle cx="788.25" cy="683.16" r="9.35"/><circle cx="815.07" cy="682.9" r="9.35"/><circle cx="841.88" cy="682.53" r="9.35"/><circle cx="868.7" cy="682.31" r="9.35"/><circle cx="895.52" cy="682.43" r="9.35"/><circle cx="922.33" cy="682.66" r="9.35"/><circle cx="949.15" cy="682.83" r="9.35"/><circle cx="975.97" cy="682.88" r="9.35"/><circle cx="1002.78" cy="682.91" r="9.35"/><circle cx="1029.6" cy="682.96" r="9.35"/><circle cx="1056.42" cy="683.08" r="9.35"/><circle cx="1083.23" cy="683.28" r="9.35"/><circle cx="1110.05" cy="683.55" r="9.35"/><circle cx="1136.87" cy="684.01" r="9.35"/><circle cx="1163.68" cy="684.24" r="9.35"/><circle cx="1190.5" cy="684.34" r="9.35"/><circle cx="1217.32" cy="684.3" r="9.35"/><circle cx="1244.13" cy="684.27" r="9.35"/><circle cx="1270.95" cy="684.43" r="9.35"/><circle cx="1297.77" cy="684.79" r="9.35"/><circle cx="761.43" cy="489.02" r="9.35"/><circle cx="788.25" cy="479.79" r="9.35"/><circle cx="815.07" cy="477.24" r="9.35"/><circle cx="841.88" cy="478.41" r="9.35"/><circle cx="868.7" cy="480.9" r="9.35"/><circle cx="895.52" cy="483.65" r="9.35"/><circle cx="922.33" cy="486.53" r="9.35"/><circle cx="949.15" cy="489.35" r="9.35"/><circle cx="975.97" cy="491.96" r="9.35"/><circle cx="1002.78" cy="494.19" r="9.35"/><circle cx="1029.6" cy="496.74" r="9.35"/><circle cx="1056.42" cy="498.77" r="9.35"/><circle cx="1083.23" cy="500.41" r="9.35"/><circle cx="1110.05" cy="501.65" r="9.35"/><circle cx="1136.87" cy="502.57" r="9.35"/><circle cx="1163.68" cy="503.25" r="9.35"/><circle cx="1190.5" cy="503.88" r="9.35"/><circle cx="1217.32" cy="504.58" r="9.35"/><circle cx="1244.13" cy="505.19" r="9.35"/><circle cx="1270.95" cy="505.61" r="9.35"/><circle cx="1297.77" cy="505.91" r="9.35"/><circle cx="761.43" cy="489.02" r="9.35"/><circle cx="788.25" cy="490.46" r="9.35"/><circle cx="815.07" cy="490" r="9.35"/><circle cx="841.88" cy="490.98" r="9.35"/><circle cx="868.7" cy="491.96" r="9.35"/><circle cx="895.52" cy="493.47" r="9.35"/><circle cx="922.33" cy="495.24" r="9.35"/><circle cx="949.15" cy="496.94" r="9.35"/><circle cx="975.97" cy="498.97" r="9.35"/><circle cx="1002.78" cy="500.41" r="9.35"/><circle cx="1029.6" cy="501.91" r="9.35"/><circle cx="1056.42" cy="502.74" r="9.35"/><circle cx="1083.23" cy="503.35" r="9.35"/><circle cx="1110.05" cy="503.89" r="9.35"/><circle cx="1136.87" cy="504.33" r="9.35"/><circle cx="1163.68" cy="504.68" r="9.35"/><circle cx="1190.5" cy="504.99" r="9.35"/><circle cx="1217.32" cy="505.35" r="9.35"/><circle cx="1244.13" cy="505.64" r="9.35"/><circle cx="1270.95" cy="505.81" r="9.35"/><circle cx="1297.77" cy="505.91" r="9.35"/><circle cx="761.43" cy="512.58" r="9.35"/><circle cx="788.25" cy="510.42" r="9.35"/><circle cx="815.07" cy="509.38" r="9.35"/><circle cx="841.88" cy="508.39" r="9.35"/><circle cx="868.7" cy="508.39" r="9.35"/><circle cx="895.52" cy="507.87" r="9.35"/><circle cx="922.33" cy="507.61" r="9.35"/><circle cx="949.15" cy="507.15" r="9.35"/><circle cx="975.97" cy="506.95" r="9.35"/><circle cx="1002.78" cy="506.95" r="9.35"/><circle cx="1029.6" cy="506.95" r="9.35"/><circle cx="1056.42" cy="507.18" r="9.35"/><circle cx="1083.23" cy="507.61" r="9.35"/><circle cx="1110.05" cy="508.04" r="9.35"/><circle cx="1136.87" cy="508.59" r="9.35"/><circle cx="1163.68" cy="509.38" r="9.35"/><circle cx="1190.5" cy="510.23" r="9.35"/><circle cx="1217.32" cy="510.91" r="9.35"/><circle cx="1244.13" cy="511.54" r="9.35"/><circle cx="1270.95" cy="512.11" r="9.35"/><circle cx="1297.77" cy="512.65" r="9.35"/><circle cx="761.43" cy="512.58" r="9.35"/><circle cx="788.25" cy="514.68" r="9.35"/><circle cx="815.07" cy="514.87" r="9.35"/><circle cx="841.88" cy="514.35" r="9.35"/><circle cx="868.7" cy="513.89" r="9.35"/><circle cx="895.52" cy="513.37" r="9.35"/><circle cx="922.33" cy="512.84" r="9.35"/><circle cx="949.15" cy="511.8" r="9.35"/><circle cx="975.97" cy="510.68" r="9.35"/><circle cx="1002.78" cy="510.16" r="9.35"/><circle cx="1029.6" cy="509.96" r="9.35"/><circle cx="1056.42" cy="509.96" r="9.35"/><circle cx="1083.23" cy="510.16" r="9.35"/><circle cx="1110.05" cy="510.36" r="9.35"/><circle cx="1136.87" cy="510.68" r="9.35"/><circle cx="1163.68" cy="510.92" r="9.35"/><circle cx="1190.5" cy="511.14" r="9.35"/><circle cx="1217.32" cy="511.38" r="9.35"/><circle cx="1244.13" cy="511.67" r="9.35"/><circle cx="1270.95" cy="512.09" r="9.35"/><circle cx="1297.77" cy="512.65" r="9.35"/><circle cx="761.43" cy="535.43" r="9.35"/><circle cx="788.25" cy="535.62" r="9.35"/><circle cx="815.07" cy="535.82" r="9.35"/><circle cx="841.88" cy="536.21" r="9.35"/><circle cx="868.7" cy="536.6" r="9.35"/><circle cx="895.52" cy="537.26" r="9.35"/><circle cx="922.33" cy="537.72" r="9.35"/><circle cx="949.15" cy="537.91" r="9.35"/><circle cx="975.97" cy="538.04" r="9.35"/><circle cx="1002.78" cy="538.04" r="9.35"/><circle cx="1029.6" cy="537.72" r="9.35"/><circle cx="1056.42" cy="537.26" r="9.35"/><circle cx="1083.23" cy="536.74" r="9.35"/><circle cx="1110.05" cy="535.75" r="9.35"/><circle cx="1136.87" cy="535.03" r="9.35"/><circle cx="1163.68" cy="534.29" r="9.35"/><circle cx="1190.5" cy="533.72" r="9.35"/><circle cx="1217.32" cy="533.41" r="9.35"/><circle cx="1244.13" cy="533.27" r="9.35"/><circle cx="1270.95" cy="533.27" r="9.35"/><circle cx="1297.77" cy="533.27" r="9.35"/><circle cx="761.43" cy="555.26" r="9.35"/><circle cx="788.25" cy="555.26" r="9.35"/><circle cx="815.07" cy="555.33" r="9.35"/><circle cx="841.88" cy="555.45" r="9.35"/><circle cx="868.7" cy="555.52" r="9.35"/><circle cx="895.52" cy="555.46" r="9.35"/><circle cx="922.33" cy="555.28" r="9.35"/><circle cx="949.15" cy="555" r="9.35"/><circle cx="975.97" cy="554.08" r="9.35"/><circle cx="1002.78" cy="553.69" r="9.35"/><circle cx="1029.6" cy="553.16" r="9.35"/><circle cx="1056.42" cy="552.25" r="9.35"/><circle cx="1083.23" cy="551.72" r="9.35"/><circle cx="1110.05" cy="550.94" r="9.35"/><circle cx="1136.87" cy="550.15" r="9.35"/><circle cx="1163.68" cy="549.43" r="9.35"/><circle cx="1190.5" cy="548.84" r="9.35"/><circle cx="1217.32" cy="548.41" r="9.35"/><circle cx="1244.13" cy="548.19" r="9.35"/><circle cx="1270.95" cy="548.19" r="9.35"/><circle cx="1297.77" cy="548.19" r="9.35"/><circle cx="761.43" cy="555.26" r="9.35"/><circle cx="788.25" cy="556.18" r="9.35"/><circle cx="815.07" cy="556.36" r="9.35"/><circle cx="841.88" cy="556.47" r="9.35"/><circle cx="868.7" cy="556.5" r="9.35"/><circle cx="895.52" cy="556.44" r="9.35"/><circle cx="922.33" cy="556.26" r="9.35"/><circle cx="949.15" cy="555.98" r="9.35"/><circle cx="975.97" cy="555.06" r="9.35"/><circle cx="1002.78" cy="554.6" r="9.35"/><circle cx="1029.6" cy="554.08" r="9.35"/><circle cx="1056.42" cy="553.03" r="9.35"/><circle cx="1083.23" cy="552.51" r="9.35"/><circle cx="1110.05" cy="551.72" r="9.35"/><circle cx="1136.87" cy="550.94" r="9.35"/><circle cx="1163.68" cy="550.2" r="9.35"/><circle cx="1190.5" cy="549.5" r="9.35"/><circle cx="1217.32" cy="548.67" r="9.35"/><circle cx="1244.13" cy="548.19" r="9.35"/><circle cx="1270.95" cy="548.19" r="9.35"/><circle cx="1297.77" cy="548.19" r="9.35"/><circle cx="761.43" cy="571.62" r="9.35"/><circle cx="788.25" cy="570.38" r="9.35"/><circle cx="815.07" cy="570.9" r="9.35"/><circle cx="841.88" cy="571.36" r="9.35"/><circle cx="868.7" cy="571.88" r="9.35"/><circle cx="895.52" cy="572.41" r="9.35"/><circle cx="922.33" cy="572.93" r="9.35"/><circle cx="949.15" cy="573.06" r="9.35"/><circle cx="975.97" cy="572.34" r="9.35"/><circle cx="1002.78" cy="571.36" r="9.35"/><circle cx="1029.6" cy="570.84" r="9.35"/><circle cx="1056.42" cy="569.86" r="9.35"/><circle cx="1083.23" cy="569.33" r="9.35"/><circle cx="1110.05" cy="568.87" r="9.35"/><circle cx="1136.87" cy="568.35" r="9.35"/><circle cx="1163.68" cy="567.82" r="9.35"/><circle cx="1190.5" cy="567.37" r="9.35"/><circle cx="1217.32" cy="567.02" r="9.35"/><circle cx="1244.13" cy="566.84" r="9.35"/><circle cx="1270.95" cy="566.84" r="9.35"/><circle cx="1297.77" cy="566.84" r="9.35"/><circle cx="761.43" cy="571.62" r="9.35"/><circle cx="788.25" cy="575.88" r="9.35"/><circle cx="815.07" cy="576.92" r="9.35"/><circle cx="841.88" cy="576.73" r="9.35"/><circle cx="868.7" cy="576.07" r="9.35"/><circle cx="895.52" cy="575.22" r="9.35"/><circle cx="922.33" cy="574.5" r="9.35"/><circle cx="949.15" cy="573.85" r="9.35"/><circle cx="975.97" cy="573.13" r="9.35"/><circle cx="1002.78" cy="572.21" r="9.35"/><circle cx="1029.6" cy="571.36" r="9.35"/><circle cx="1056.42" cy="570.12" r="9.35"/><circle cx="1083.23" cy="569.33" r="9.35"/><circle cx="1110.05" cy="568.87" r="9.35"/><circle cx="1136.87" cy="568.35" r="9.35"/><circle cx="1163.68" cy="567.82" r="9.35"/><circle cx="1190.5" cy="567.37" r="9.35"/><circle cx="1217.32" cy="567.02" r="9.35"/><circle cx="1244.13" cy="566.84" r="9.35"/><circle cx="1270.95" cy="566.84" r="9.35"/><circle cx="1297.77" cy="566.84" r="9.35"/><circle cx="761.43" cy="535.43" r="9.35"/><circle cx="788.25" cy="535.1" r="9.35"/><circle cx="815.07" cy="534.97" r="9.35"/><circle cx="841.88" cy="535.36" r="9.35"/><circle cx="868.7" cy="535.75" r="9.35"/><circle cx="895.52" cy="536.41" r="9.35"/><circle cx="922.33" cy="536.87" r="9.35"/><circle cx="949.15" cy="537.06" r="9.35"/><circle cx="975.97" cy="537.19" r="9.35"/><circle cx="1002.78" cy="537.31" r="9.35"/><circle cx="1029.6" cy="537.19" r="9.35"/><circle cx="1056.42" cy="537.05" r="9.35"/><circle cx="1083.23" cy="536.74" r="9.35"/><circle cx="1110.05" cy="535.75" r="9.35"/><circle cx="1136.87" cy="535.03" r="9.35"/><circle cx="1163.68" cy="534.29" r="9.35"/><circle cx="1190.5" cy="533.72" r="9.35"/><circle cx="1217.32" cy="533.41" r="9.35"/><circle cx="1244.13" cy="533.27" r="9.35"/><circle cx="1270.95" cy="533.27" r="9.35"/><circle cx="1297.77" cy="533.27" r="9.35"/><circle cx="761.43" cy="46.67" r="9.35"/><circle cx="788.25" cy="47.46" r="9.35"/><circle cx="815.07" cy="47.46" r="9.35"/><circle cx="841.88" cy="47.46" r="9.35"/><circle cx="868.7" cy="47.46" r="9.35"/><circle cx="895.52" cy="47.46" r="9.35"/><circle cx="922.33" cy="47.46" r="9.35"/><circle cx="949.15" cy="47.46" r="9.35"/><circle cx="975.97" cy="47.42" r="9.35"/><circle cx="1002.78" cy="47.33" r="9.35"/><circle cx="1029.6" cy="47.2" r="9.35"/><circle cx="1056.42" cy="47.06" r="9.35"/><circle cx="1083.23" cy="46.93" r="9.35"/><circle cx="1110.05" cy="46.84" r="9.35"/><circle cx="1136.87" cy="46.8" r="9.35"/><circle cx="1163.68" cy="46.8" r="9.35"/><circle cx="1190.5" cy="46.8" r="9.35"/><circle cx="1217.32" cy="46.8" r="9.35"/><circle cx="1244.13" cy="46.8" r="9.35"/><circle cx="1270.95" cy="46.8" r="9.35"/><circle cx="1297.77" cy="46.8" r="9.35"/><circle cx="761.43" cy="703.32" r="9.35"/><circle cx="788.25" cy="703.32" r="9.35"/><circle cx="815.07" cy="703.32" r="9.35"/><circle cx="841.88" cy="703.32" r="9.35"/><circle cx="868.7" cy="703.32" r="9.35"/><circle cx="895.52" cy="703.32" r="9.35"/><circle cx="922.33" cy="703.32" r="9.35"/><circle cx="949.15" cy="703.32" r="9.35"/><circle cx="975.97" cy="703.25" r="9.35"/><circle cx="1002.78" cy="703.12" r="9.35"/><circle cx="1029.6" cy="702.99" r="9.35"/><circle cx="1056.42" cy="702.9" r="9.35"/><circle cx="1083.23" cy="702.81" r="9.35"/><circle cx="1110.05" cy="702.73" r="9.35"/><circle cx="1136.87" cy="702.66" r="9.35"/><circle cx="1163.68" cy="702.61" r="9.35"/><circle cx="1190.5" cy="702.55" r="9.35"/><circle cx="1217.32" cy="702.5" r="9.35"/><circle cx="1244.13" cy="702.46" r="9.35"/><circle cx="1270.95" cy="702.43" r="9.35"/><circle cx="1297.77" cy="702.4" r="9.35"/><circle cx="761.43" cy="46.67" r="9.35"/><circle cx="788.25" cy="46.8" r="9.35"/><circle cx="815.07" cy="46.8" r="9.35"/><circle cx="841.88" cy="46.8" r="9.35"/><circle cx="868.7" cy="46.8" r="9.35"/><circle cx="895.52" cy="46.8" r="9.35"/><circle cx="922.33" cy="46.8" r="9.35"/><circle cx="949.15" cy="46.8" r="9.35"/><circle cx="975.97" cy="46.77" r="9.35"/><circle cx="1002.78" cy="46.67" r="9.35"/><circle cx="1029.6" cy="46.55" r="9.35"/><circle cx="1056.42" cy="46.41" r="9.35"/><circle cx="1083.23" cy="46.28" r="9.35"/><circle cx="1110.05" cy="46.19" r="9.35"/><circle cx="1136.87" cy="46.15" r="9.35"/><circle cx="1163.68" cy="46.15" r="9.35"/><circle cx="1190.5" cy="46.15" r="9.35"/><circle cx="1217.32" cy="46.15" r="9.35"/><circle cx="1244.13" cy="46.15" r="9.35"/><circle cx="1270.95" cy="46.15" r="9.35"/><circle cx="1297.77" cy="46.15" r="9.35"/></g>
<path fill="none" stroke="#000" stroke-width="2" d="M761.43 36.95V55.35M752.23 46.15H770.63M788.25 36.95V55.35M779.05 46.15H797.45M815.07 36.95V55.35M805.87 46.15H824.27M841.88 36.95V55.35M832.68 46.15H851.08M868.7 36.95V55.35M859.5 46.15H877.9M895.52 36.95V55.35M886.32 46.15H904.72M922.33 36.95V55.35M913.13 46.15H931.53M949.15 36.95V55.35M939.95 46.15H958.35M975.97 36.95V55.35M966.77 46.15H985.17M1002.78 36.95V55.35M993.58 46.15H1011.98M1029.6 36.95V55.35M1020.4 46.15H1038.8M1056.42 36.95V55.35M1047.22 46.15H1065.62M1083.23 36.95V55.35M1074.03 46.15H1092.43M1110.05 36.95V55.35M1100.85 46.15H1119.25M1136.87 36.95V55.35M1127.67 46.15H1146.07M1163.68 36.95V55.35M1154.48 46.15H1172.88M1190.5 36.95V55.35M1181.3 46.15H1199.7M1217.32 36.95V55.35M1208.12 46.15H1226.52M1244.13 36.95V55.35M1234.93 46.15H1253.33M1270.95 36.95V55.35M1261.75 46.15H1280.15M1297.77 36.95V55.35M1288.57 46.15H1306.97M761.43 691.5V709.9M752.23 700.7H770.63M788.25 691.5V709.9M779.05 700.7H797.45M815.07 691.5V709.9M805.87 700.7H824.27M841.88 691.5V709.9M832.68 700.7H851.08M868.7 691.5V709.9M859.5 700.7H877.9M895.52 691.5V709.9M886.32 700.7H904.72M922.33 691.5V709.9M913.13 700.7H931.53M949.15 691.5V709.9M939.95 700.7H958.35M975.97 691.5V709.9M966.77 700.7H985.17M1002.78 691.5V709.9M993.58 700.7H1011.98M1029.6 691.5V709.9M1020.4 700.7H1038.8M1056.42 691.5V709.9M1047.22 700.7H1065.62M1083.23 691.5V709.9M1074.03 700.7H1092.43M1110.05 691.5V709.9M1100.85 700.7H1119.25M1136.87 691.5V709.9M1127.67 700.7H1146.07M1163.68 691.5V709.9M1154.48 700.7H1172.88M1190.5 691.5V709.9M1181.3 700.7H1199.7M1217.32 691.5V709.9M1208.12 700.7H1226.52M1244.13 691.5V709.9M1234.93 700.7H1253.33M1270.95 691.5V709.9M1261.75 700.7H1280.15M1297.77 691.5V709.9M1288.57 700.7H1306.97"/>
<path fill="#0000ff" stroke="#000" stroke-width="2.3" stroke-linejoin="miter" d="M761.43 282.57L770.27 291.41L761.43 300.25L752.59 291.41ZM788.25 279.04L797.09 287.88L788.25 296.72L779.41 287.88ZM815.07 278.77L823.91 287.61L815.07 296.45L806.23 287.61ZM841.88 279.36L850.72 288.2L841.88 297.04L833.04 288.2ZM868.7 280.74L877.54 289.58L868.7 298.42L859.86 289.58ZM895.52 281.85L904.36 290.69L895.52 299.53L886.68 290.69ZM922.33 282.83L931.17 291.67L922.33 300.51L913.49 291.67ZM949.15 283.94L957.99 292.78L949.15 301.62L940.31 292.78ZM975.97 285.19L984.81 294.03L975.97 302.87L967.13 294.03ZM1002.78 286.17L1011.62 295.01L1002.78 303.85L993.94 295.01ZM1029.6 287.28L1038.44 296.12L1029.6 304.96L1020.76 296.12ZM1056.42 288.13L1065.26 296.97L1056.42 305.81L1047.58 296.97ZM1083.23 288.66L1092.07 297.5L1083.23 306.34L1074.39 297.5ZM1110.05 289.12L1118.89 297.96L1110.05 306.8L1101.21 297.96ZM1136.87 289.38L1145.71 298.22L1136.87 307.06L1128.03 298.22ZM1163.68 289.51L1172.52 298.35L1163.68 307.19L1154.84 298.35ZM1190.5 289.38L1199.34 298.22L1190.5 307.06L1181.66 298.22ZM1217.32 289.25L1226.16 298.09L1217.32 306.93L1208.48 298.09ZM1244.13 289.12L1252.97 297.96L1244.13 306.8L1235.29 297.96ZM1270.95 288.98L1279.79 297.82L1270.95 306.66L1262.11 297.82ZM1297.77 288.66L1306.61 297.5L1297.77 306.34L1288.93 297.5Z"/>
</g>
<path fill="none" stroke="#000" stroke-width="2.08" d="M761.43 700.7V683.5M761.43 46.15V63.35M756.07 700.7H773.27M1303.13 700.7H1285.93M868.7 700.7V683.5M868.7 46.15V63.35M756.07 569.79H773.27M1303.13 569.79H1285.93M975.97 700.7V683.5M975.97 46.15V63.35M756.07 438.88H773.27M1303.13 438.88H1285.93M1083.23 700.7V683.5M1083.23 46.15V63.35M756.07 307.97H773.27M1303.13 307.97H1285.93M1190.5 700.7V683.5M1190.5 46.15V63.35M756.07 177.06H773.27M1303.13 177.06H1285.93M1297.77 700.7V683.5M1297.77 46.15V63.35M756.07 46.15H773.27M1303.13 46.15H1285.93"/>
<rect x="756.07" y="46.15" width="547.06" height="654.55" fill="none" stroke="#000" stroke-width="4.3"/>
<g><text x="761.43" y="743" text-anchor="middle">0.0</text><text x="739.37" y="709.9" text-anchor="end">0.0</text><text x="868.7" y="743" text-anchor="middle">0.2</text><text x="739.37" y="578.99" text-anchor="end">0.2</text><text x="975.97" y="743" text-anchor="middle">0.4</text><text x="739.37" y="448.08" text-anchor="end">0.4</text><text x="1083.23" y="743" text-anchor="middle">0.6</text><text x="739.37" y="317.17" text-anchor="end">0.6</text><text x="1190.5" y="743" text-anchor="middle">0.8</text><text x="739.37" y="186.26" text-anchor="end">0.8</text><text x="1297.77" y="743" text-anchor="middle">1.0</text><text x="739.37" y="55.35" text-anchor="end">1.0</text></g>
</g>
<g id="ax2">
<g clip-path="url(#c2)">
<g fill="none" stroke="#000" stroke-width="2.5"><circle cx="1417.9" cy="676.42" r="9.35"/><circle cx="1444.72" cy="677.92" r="9.35"/><circle cx="1471.54" cy="676.42" r="9.35"/><circle cx="1498.35" cy="675.96" r="9.35"/><circle cx="1525.17" cy="675.43" r="9.35"/><circle cx="1551.99" cy="675.17" r="9.35"/><circle cx="1578.8" cy="675" r="9.35"/><circle cx="1605.62" cy="674.91" r="9.35"/><circle cx="1632.44" cy="674.91" r="9.35"/><circle cx="1659.25" cy="674.91" r="9.35"/><circle cx="1686.07" cy="674.91" r="9.35"/><circle cx="1712.89" cy="674.91" r="9.35"/><circle cx="1739.7" cy="674.91" r="9.35"/><circle cx="1766.52" cy="674.91" r="9.35"/><circle cx="1793.34" cy="674.91" r="9.35"/><circle cx="1820.15" cy="674.83" r="9.35"/><circle cx="1846.97" cy="674.65" r="9.35"/><circle cx="1873.79" cy="674.32" r="9.35"/><circle cx="1900.6" cy="673.93" r="9.35"/><circle cx="1927.42" cy="673.67" r="9.35"/><circle cx="1954.24" cy="673.47" r="9.35"/><circle cx="1417.9" cy="676.42" r="9.35"/><circle cx="1444.72" cy="668.95" r="9.35"/><circle cx="1471.54" cy="666.93" r="9.35"/><circle cx="1498.35" cy="667.45" r="9.35"/><circle cx="1525.17" cy="667.97" r="9.35"/><circle cx="1551.99" cy="668.95" r="9.35"/><circle cx="1578.8" cy="669.61" r="9.35"/><circle cx="1605.62" cy="670.33" r="9.35"/><circle cx="1632.44" cy="670.32" r="9.35"/><circle cx="1659.25" cy="670.3" r="9.35"/><circle cx="1686.07" cy="670.26" r="9.35"/><circle cx="1712.89" cy="669.91" r="9.35"/><circle cx="1739.7" cy="669.28" r="9.35"/><circle cx="1766.52" cy="668.95" r="9.35"/><circle cx="1793.34" cy="669.48" r="9.35"/><circle cx="1820.15" cy="669.93" r="9.35"/><circle cx="1846.97" cy="670.46" r="9.35"/><circle cx="1873.79" cy="671.39" r="9.35"/><circle cx="1900.6" cy="672.42" r="9.35"/><circle cx="1927.42" cy="673.21" r="9.35"/><circle cx="1954.24" cy="673.47" r="9.35"/><circle cx="1417.9" cy="652.92" r="9.35"/><circle cx="1444.72" cy="653.77" r="9.35"/><circle cx="1471.54" cy="653.25" r="9.35"/><circle cx="1498.35" cy="653.77" r="9.35"/><circle cx="1525.17" cy="653.77" r="9.35"/><circle cx="1551.99" cy="654.75" r="9.35"/><circle cx="1578.8" cy="655.27" r="9.35"/><circle cx="1605.62" cy="656.19" r="9.35"/><circle cx="1632.44" cy="657.06" r="9.35"/><circle cx="1659.25" cy="657.91" r="9.35"/><circle cx="1686.07" cy="658.74" r="9.35"/><circle cx="1712.89" cy="659.64" r="9.35"/><circle cx="1739.7" cy="660.52" r="9.35"/><circle cx="1766.52" cy="661.23" r="9.35"/><circle cx="1793.34" cy="661.69" r="9.35"/><circle cx="1820.15" cy="661.37" r="9.35"/><circle cx="1846.97" cy="660.71" r="9.35"/><circle cx="1873.79" cy="659.46" r="9.35"/><circle cx="1900.6" cy="658.22" r="9.35"/><circle cx="1927.42" cy="657.7" r="9.35"/><circle cx="1954.24" cy="657.57" r="9.35"/><circle cx="1417.9" cy="652.92" r="9.35"/><circle cx="1444.72" cy="650.23" r="9.35"/><circle cx="1471.54" cy="648.73" r="9.35"/><circle cx="1498.35" cy="648.53" r="9.35"/><circle cx="1525.17" cy="648.73" r="9.35"/><circle cx="1551.99" cy="648.93" r="9.35"/><circle cx="1578.8" cy="649.25" r="9.35"/><circle cx="1605.62" cy="649.78" r="9.35"/><circle cx="1632.44" cy="650.29" r="9.35"/><circle cx="1659.25" cy="650.78" r="9.35"/><circle cx="1686.07" cy="651.22" r="9.35"/><circle cx="1712.89" cy="651.55" r="9.35"/><circle cx="1739.7" cy="651.84" r="9.35"/><circle cx="1766.52" cy="652.2" r="9.35"/><circle cx="1793.34" cy="652.72" r="9.35"/><circle cx="1820.15" cy="653.37" r="9.35"/><circle cx="1846.97" cy="654.16" r="9.35"/><circle cx="1873.79" cy="655.35" r="9.35"/><circle cx="1900.6" cy="656.52" r="9.35"/><circle cx="1927.42" cy="657.24" r="9.35"/><circle cx="1954.24" cy="657.57" r="9.35"/><circle cx="1417.9" cy="80.45" r="9.35"/><circle cx="1444.72" cy="86.73" r="9.35"/><circle cx="1471.54" cy="87.91" r="9.35"/><circle cx="1498.35" cy="87.71" r="9.35"/><circle cx="1525.17" cy="87.45" r="9.35"/><circle cx="1551.99" cy="87.02" r="9.35"/><circle cx="1578.8" cy="86.47" r="9.35"/><circle cx="1605.62" cy="85.95" r="9.35"/><circle cx="1632.44" cy="85.5" r="9.35"/><circle cx="1659.25" cy="85.08" r="9.35"/><circle cx="1686.07" cy="84.64" r="9.35"/><circle cx="1712.89" cy="84.21" r="9.35"/><circle cx="1739.7" cy="83.77" r="9.35"/><circle cx="1766.52" cy="83.13" r="9.35"/><circle cx="1793.34" cy="81.82" r="9.35"/><circle cx="1820.15" cy="81.05" r="9.35"/><circle cx="1846.97" cy="80.45" r="9.35"/><circle cx="1873.79" cy="79.9" r="9.35"/><circle cx="1900.6" cy="79.47" r="9.35"/><circle cx="1927.42" cy="79.16" r="9.35"/><circle cx="1954.24" cy="78.94" r="9.35"/><circle cx="1417.9" cy="80.45" r="9.35"/><circle cx="1444.72" cy="79.99" r="9.35"/><circle cx="1471.54" cy="80.64" r="9.35"/><circle cx="1498.35" cy="81.11" r="9.35"/><circle cx="1525.17" cy="81.5" r="9.35"/><circle cx="1551.99" cy="81.87" r="9.35"/><circle cx="1578.8" cy="82.21" r="9.35"/><circle cx="1605.62" cy="82.48" r="9.35"/><circle cx="1632.44" cy="82.69" r="9.35"/><circle cx="1659.25" cy="82.86" r="9.35"/><circle cx="1686.07" cy="82.94" r="9.35"/><circle cx="1712.89" cy="82.92" r="9.35"/><circle cx="1739.7" cy="82.88" r="9.35"/><circle cx="1766.52" cy="82.8" r="9.35"/><circle cx="1793.34" cy="81.36" r="9.35"/><circle cx="1820.15" cy="80.84" r="9.35"/><circle cx="1846.97" cy="80.45" r="9.35"/><circle cx="1873.79" cy="79.92" r="9.35"/><circle cx="1900.6" cy="79.47" r="9.35"/><circle cx="1927.42" cy="79.16" r="9.35"/><circle cx="1954.24" cy="78.94" r="9.35"/><circle cx="1417.9" cy="64.08" r="9.35"/><circle cx="1444.72" cy="64.61" r="9.35"/><circle cx="1471.54" cy="65" r="9.35"/><circle cx="1498.35" cy="65.38" r="9.35"/><circle cx="1525.17" cy="65.59" r="9.35"/><circle cx="1551.99" cy="65.48" r="9.35"/><circle cx="1578.8" cy="65.24" r="9.35"/><circle cx="1605.62" cy="65.07" r="9.35"/><circle cx="1632.44" cy="65" r="9.35"/><circle cx="1659.25" cy="64.95" r="9.35"/><circle cx="1686.07" cy="64.87" r="9.35"/><circle cx="1712.89" cy="64.68" r="9.35"/><circle cx="1739.7" cy="64.36" r="9.35"/><circle cx="1766.52" cy="63.95" r="9.35"/><circle cx="1793.34" cy="63.3" r="9.35"/><circle cx="1820.15" cy="62.93" r="9.35"/><circle cx="1846.97" cy="62.71" r="9.35"/><circle cx="1873.79" cy="62.64" r="9.35"/><circle cx="1900.6" cy="62.58" r="9.35"/><circle cx="1927.42" cy="62.38" r="9.35"/><circle cx="1954.24" cy="62.06" r="9.35"/><circle cx="1417.9" cy="64.08" r="9.35"/><circle cx="1444.72" cy="63.69" r="9.35"/><circle cx="1471.54" cy="63.95" r="9.35"/><circle cx="1498.35" cy="64.32" r="9.35"/><circle cx="1525.17" cy="64.54" r="9.35"/><circle cx="1551.99" cy="64.42" r="9.35"/><circle cx="1578.8" cy="64.19" r="9.35"/><circle cx="1605.62" cy="64.02" r="9.35"/><circle cx="1632.44" cy="63.97" r="9.35"/><circle cx="1659.25" cy="63.94" r="9.35"/><circle cx="1686.07" cy="63.89" r="9.35"/><circle cx="1712.89" cy="63.77" r="9.35"/><circle cx="1739.7" cy="63.57" r="9.35"/><circle cx="1766.52" cy="63.3" r="9.35"/><circle cx="1793.34" cy="62.84" r="9.35"/><circle cx="1820.15" cy="62.61" r="9.35"/><circle cx="1846.97" cy="62.51" r="9.35"/><circle cx="1873.79" cy="62.55" r="9.35"/><circle cx="1900.6" cy="62.58" r="9.35"/><circle cx="1927.42" cy="62.42" r="9.35"/><circle cx="1954.24" cy="62.06" r="9.35"/><circle cx="1417.9" cy="257.83" r="9.35"/><circle cx="1444.72" cy="265.29" r="9.35"/><circle cx="1471.54" cy="268.24" r="9.35"/><circle cx="1498.35" cy="267.78" r="9.35"/><circle cx="1525.17" cy="265.75" r="9.35"/><circle cx="1551.99" cy="263.07" r="9.35"/><circle cx="1578.8" cy="260.19" r="9.35"/><circle cx="1605.62" cy="257.5" r="9.35"/><circle cx="1632.44" cy="254.89" r="9.35"/><circle cx="1659.25" cy="252.66" r="9.35"/><circle cx="1686.07" cy="250.11" r="9.35"/><circle cx="1712.89" cy="248.08" r="9.35"/><circle cx="1739.7" cy="246.44" r="9.35"/><circle cx="1766.52" cy="245.2" r="9.35"/><circle cx="1793.34" cy="244.28" r="9.35"/><circle cx="1820.15" cy="243.6" r="9.35"/><circle cx="1846.97" cy="242.97" r="9.35"/><circle cx="1873.79" cy="242.27" r="9.35"/><circle cx="1900.6" cy="241.66" r="9.35"/><circle cx="1927.42" cy="241.24" r="9.35"/><circle cx="1954.24" cy="240.94" r="9.35"/><circle cx="1417.9" cy="257.83" r="9.35"/><circle cx="1444.72" cy="256.39" r="9.35"/><circle cx="1471.54" cy="256.85" r="9.35"/><circle cx="1498.35" cy="255.87" r="9.35"/><circle cx="1525.17" cy="254.89" r="9.35"/><circle cx="1551.99" cy="253.38" r="9.35"/><circle cx="1578.8" cy="251.61" r="9.35"/><circle cx="1605.62" cy="249.91" r="9.35"/><circle cx="1632.44" cy="247.88" r="9.35"/><circle cx="1659.25" cy="246.44" r="9.35"/><circle cx="1686.07" cy="244.94" r="9.35"/><circle cx="1712.89" cy="244.11" r="9.35"/><circle cx="1739.7" cy="243.5" r="9.35"/><circle cx="1766.52" cy="242.96" r="9.35"/><circle cx="1793.34" cy="242.51" r="9.35"/><circle cx="1820.15" cy="242.17" r="9.35"/><circle cx="1846.97" cy="241.86" r="9.35"/><circle cx="1873.79" cy="241.5" r="9.35"/><circle cx="1900.6" cy="241.21" r="9.35"/><circle cx="1927.42" cy="241.04" r="9.35"/><circle cx="1954.24" cy="240.94" r="9.35"/><circle cx="1417.9" cy="234.27" r="9.35"/><circle cx="1444.72" cy="236.43" r="9.35"/><circle cx="1471.54" cy="237.47" r="9.35"/><circle cx="1498.35" cy="238.46" r="9.35"/><circle cx="1525.17" cy="238.46" r="9.35"/><circle cx="1551.99" cy="238.98" r="9.35"/><circle cx="1578.8" cy="239.24" r="9.35"/><circle cx="1605.62" cy="239.7" r="9.35"/><circle cx="1632.44" cy="239.9" r="9.35"/><circle cx="1659.25" cy="239.9" r="9.35"/><circle cx="1686.07" cy="239.9" r="9.35"/><circle cx="1712.89" cy="239.67" r="9.35"/><circle cx="1739.7" cy="239.24" r="9.35"/><circle cx="1766.52" cy="238.81" r="9.35"/><circle cx="1793.34" cy="238.26" r="9.35"/><circle cx="1820.15" cy="237.47" r="9.35"/><circle cx="1846.97" cy="236.62" r="9.35"/><circle cx="1873.79" cy="235.94" r="9.35"/><circle cx="1900.6" cy="235.31" r="9.35"/><circle cx="1927.42" cy="234.74" r="9.35"/><circle cx="1954.24" cy="234.2" r="9.35"/><circle cx="1417.9" cy="234.27" r="9.35"/><circle cx="1444.72" cy="232.17" r="9.35"/><circle cx="1471.54" cy="231.98" r="9.35"/><circle cx="1498.35" cy="232.5" r="9.35"/><circle cx="1525.17" cy="232.96" r="9.35"/><circle cx="1551.99" cy="233.48" r="9.35"/><circle cx="1578.8" cy="234.01" r="9.35"/><circle cx="1605.62" cy="235.05" r="9.35"/><circle cx="1632.44" cy="236.17" r="9.35"/><circle cx="1659.25" cy="236.69" r="9.35"/><circle cx="1686.07" cy="236.89" r="9.35"/><circle cx="1712.89" cy="236.89" r="9.35"/><circle cx="1739.7" cy="236.69" r="9.35"/><circle cx="1766.52" cy="236.49" r="9.35"/><circle cx="1793.34" cy="236.17" r="9.35"/><circle cx="1820.15" cy="235.93" r="9.35"/><circle cx="1846.97" cy="235.71" r="9.35"/><circle cx="1873.79" cy="235.47" r="9.35"/><circle cx="1900.6" cy="235.18" r="9.35"/><circle cx="1927.42" cy="234.76" r="9.35"/><circle cx="1954.24" cy="234.2" r="9.35"/><circle cx="1417.9" cy="211.42" r="9.35"/><circle cx="1444.72" cy="211.23" r="9.35"/><circle cx="1471.54" cy="211.03" r="9.35"/><circle cx="1498.35" cy="210.64" r="9.35"/><circle cx="1525.17" cy="210.25" r="9.35"/><circle cx="1551.99" cy="209.59" r="9.35"/><circle cx="1578.8" cy="209.13" r="9.35"/><circle cx="1605.62" cy="208.94" r="9.35"/><circle cx="1632.44" cy="208.81" r="9.35"/><circle cx="1659.25" cy="208.81" r="9.35"/><circle cx="1686.07" cy="209.13" r="9.35"/><circle cx="1712.89" cy="209.59" r="9.35"/><circle cx="1739.7" cy="210.11" r="9.35"/><circle cx="1766.52" cy="211.1" r="9.35"/><circle cx="1793.34" cy="211.82" r="9.35"/><circle cx="1820.15" cy="212.56" r="9.35"/><circle cx="1846.97" cy="213.13" r="9.35"/><circle cx="1873.79" cy="213.44" r="9.35"/><circle cx="1900.6" cy="213.58" r="9.35"/><circle cx="1927.42" cy="213.58" r="9.35"/><circle cx="1954.24" cy="213.58" r="9.35"/><circle cx="1417.9" cy="191.59" r="9.35"/><circle cx="1444.72" cy="191.59" r="9.35"/><circle cx="1471.54" cy="191.52" r="9.35"/><circle cx="1498.35" cy="191.4" r="9.35"/><circle cx="1525.17" cy="191.33" r="9.35"/><circle cx="1551.99" cy="191.39" r="9.35"/><circle cx="1578.8" cy="191.57" r="9.35"/><circle cx="1605.62" cy="191.85" r="9.35"/><circle cx="1632.44" cy="192.77" r="9.35"/><circle cx="1659.25" cy="193.16" r="9.35"/><circle cx="1686.07" cy="193.69" r="9.35"/><circle cx="1712.89" cy="194.6" r="9.35"/><circle cx="1739.7" cy="195.13" r="9.35"/><circle cx="1766.52" cy="195.91" r="9.35"/><circle cx="1793.34" cy="196.7" r="9.35"/><circle cx="1820.15" cy="197.42" r="9.35"/><circle cx="1846.97" cy="198.01" r="9.35"/><circle cx="1873.79" cy="198.44" r="9.35"/><circle cx="1900.6" cy="198.66" r="9.35"/><circle cx="1927.42" cy="198.66" r="9.35"/><circle cx="1954.24" cy="198.66" r="9.35"/><circle cx="1417.9" cy="191.59" r="9.35"/><circle cx="1444.72" cy="190.67" r="9.35"/><circle cx="1471.54" cy="190.49" r="9.35"/><circle cx="1498.35" cy="190.38" r="9.35"/><circle cx="1525.17" cy="190.35" r="9.35"/><circle cx="1551.99" cy="190.41" r="9.35"/><circle cx="1578.8" cy="190.59" r="9.35"/><circle cx="1605.62" cy="190.87" r="9.35"/><circle cx="1632.44" cy="191.79" r="9.35"/><circle cx="1659.25" cy="192.25" r="9.35"/><circle cx="1686.07" cy="192.77" r="9.35"/><circle cx="1712.89" cy="193.82" r="9.35"/><circle cx="1739.7" cy="194.34" r="9.35"/><circle cx="1766.52" cy="195.13" r="9.35"/><circle cx="1793.34" cy="195.91" r="9.35"/><circle cx="1820.15" cy="196.65" r="9.35"/><circle cx="1846.97" cy="197.35" r="9.35"/><circle cx="1873.79" cy="198.18" r="9.35"/><circle cx="1900.6" cy="198.66" r="9.35"/><circle cx="1927.42" cy="198.66" r="9.35"/><circle cx="1954.24" cy="198.66" r="9.35"/><circle cx="1417.9" cy="175.23" r="9.35"/><circle cx="1444.72" cy="176.47" r="9.35"/><circle cx="1471.54" cy="175.95" r="9.35"/><circle cx="1498.35" cy="175.49" r="9.35"/><circle cx="1525.17" cy="174.97" r="9.35"/><circle cx="1551.99" cy="174.44" r="9.35"/><circle cx="1578.8" cy="173.92" r="9.35"/><circle cx="1605.62" cy="173.79" r="9.35"/><circle cx="1632.44" cy="174.51" r="9.35"/><circle cx="1659.25" cy="175.49" r="9.35"/><circle cx="1686.07" cy="176.01" r="9.35"/><circle cx="1712.89" cy="176.99" r="9.35"/><circle cx="1739.7" cy="177.52" r="9.35"/><circle cx="1766.52" cy="177.98" r="9.35"/><circle cx="1793.34" cy="178.5" r="9.35"/><circle cx="1820.15" cy="179.03" r="9.35"/><circle cx="1846.97" cy="179.48" r="9.35"/><circle cx="1873.79" cy="179.83" r="9.35"/><circle cx="1900.6" cy="180.01" r="9.35"/><circle cx="1927.42" cy="180.01" r="9.35"/><circle cx="1954.24" cy="180.01" r="9.35"/><circle cx="1417.9" cy="175.23" r="9.35"/><circle cx="1444.72" cy="170.97" r="9.35"/><circle cx="1471.54" cy="169.93" r="9.35"/><circle cx="1498.35" cy="170.12" r="9.35"/><circle cx="1525.17" cy="170.78" r="9.35"/><circle cx="1551.99" cy="171.63" r="9.35"/><circle cx="1578.8" cy="172.35" r="9.35"/><circle cx="1605.62" cy="173" r="9.35"/><circle cx="1632.44" cy="173.72" r="9.35"/><circle cx="1659.25" cy="174.64" r="9.35"/><circle cx="1686.07" cy="175.49" r="9.35"/><circle cx="1712.89" cy="176.73" r="9.35"/><circle cx="1739.7" cy="177.52" r="9.35"/><circle cx="1766.52" cy="177.98" r="9.35"/><circle cx="1793.34" cy="178.5" r="9.35"/><circle cx="1820.15" cy="179.03" r="9.35"/><circle cx="1846.97" cy="179.48" r="9.35"/><circle cx="1873.79" cy="179.83" r="9.35"/><circle cx="1900.6" cy="180.01" r="9.35"/><circle cx="1927.42" cy="180.01" r="9.35"/><circle cx="1954.24" cy="180.01" r="9.35"/><circle cx="1417.9" cy="211.42" r="9.35"/><circle cx="1444.72" cy="211.75" r="9.35"/><circle cx="1471.54" cy="211.88" r="9.35"/><circle cx="1498.35" cy="211.49" r="9.35"/><circle cx="1525.17" cy="211.1" r="9.35"/><circle cx="1551.99" cy="210.44" r="9.35"/><circle cx="1578.8" cy="209.98" r="9.35"/><circle cx="1605.62" cy="209.79" r="9.35"/><circle cx="1632.44" cy="209.66" r="9.35"/><circle cx="1659.25" cy="209.54" r="9.35"/><circle cx="1686.07" cy="209.66" r="9.35"/><circle cx="1712.89" cy="209.8" r="9.35"/><circle cx="1739.7" cy="210.11" r="9.35"/><circle cx="1766.52" cy="211.1" r="9.35"/><circle cx="1793.34" cy="211.82" r="9.35"/><circle cx="1820.15" cy="212.56" r="9.35"/><circle cx="1846.97" cy="213.13" r="9.35"/><circle cx="1873.79" cy="213.44" r="9.35"/><circle cx="1900.6" cy="213.58" r="9.35"/><circle cx="1927.42" cy="213.58" r="9.35"/><circle cx="1954.24" cy="213.58" r="9.35"/><circle cx="1417.9" cy="700.18" r="9.35"/><circle cx="1444.72" cy="699.39" r="9.35"/><circle cx="1471.54" cy="699.39" r="9.35"/><circle cx="1498.35" cy="699.39" r="9.35"/><circle cx="1525.17" cy="699.39" r="9.35"/><circle cx="1551.99" cy="699.39" r="9.35"/><circle cx="1578.8" cy="699.39" r="9.35"/><circle cx="1605.62" cy="699.39" r="9.35"/><circle cx="1632.44" cy="699.43" r="9.35"/><circle cx="1659.25" cy="699.52" r="9.35"/><circle cx="1686.07" cy="699.65" r="9.35"/><circle cx="1712.89" cy="699.79" r="9.35"/><circle cx="1739.7" cy="699.92" r="9.35"/><circle cx="1766.52" cy="700.01" r="9.35"/><circle cx="1793.34" cy="700.05" r="9.35"/><circle cx="1820.15" cy="700.05" r="9.35"/><circle cx="1846.97" cy="700.05" r="9.35"/><circle cx="1873.79" cy="700.05" r="9.35"/><circle cx="1900.6" cy="700.05" r="9.35"/><circle cx="1927.42" cy="700.05" r="9.35"/><circle cx="1954.24" cy="700.05" r="9.35"/><circle cx="1417.9" cy="43.53" r="9.35"/><circle cx="1444.72" cy="43.53" r="9.35"/><circle cx="1471.54" cy="43.53" r="9.35"/><circle cx="1498.35" cy="43.53" r="9.35"/><circle cx="1525.17" cy="43.53" r="9.35"/><circle cx="1551.99" cy="43.53" r="9.35"/><circle cx="1578.8" cy="43.53" r="9.35"/><circle cx="1605.62" cy="43.53" r="9.35"/><circle cx="1632.44" cy="43.6" r="9.35"/><circle cx="1659.25" cy="43.73" r="9.35"/><circle cx="1686.07" cy="43.86" r="9.35"/><circle cx="1712.89" cy="43.95" r="9.35"/><circle cx="1739.7" cy="44.04" r="9.35"/><circle cx="1766.52" cy="44.12" r="9.35"/><circle cx="1793.34" cy="44.19" r="9.35"/><circle cx="1820.15" cy="44.24" r="9.35"/><circle cx="1846.97" cy="44.3" r="9.35"/><circle cx="1873.79" cy="44.35" r="9.35"/><circle cx="1900.6" cy="44.39" r="9.35"/><circle cx="1927.42" cy="44.42" r="9.35"/><circle cx="1954.24" cy="44.45" r="9.35"/><circle cx="1417.9" cy="700.18" r="9.35"/><circle cx="1444.72" cy="700.05" r="9.35"/><circle cx="1471.54" cy="700.05" r="9.35"/><circle cx="1498.35" cy="700.05" r="9.35"/><circle cx="1525.17" cy="700.05" r="9.35"/><circle cx="1551.99" cy="700.05" r="9.35"/><circle cx="1578.8" cy="700.05" r="9.35"/><circle cx="1605.62" cy="700.05" r="9.35"/><circle cx="1632.44" cy="700.08" r="9.35"/><circle cx="1659.25" cy="700.18" r="9.35"/><circle cx="1686.07" cy="700.3" r="9.35"/><circle cx="1712.89" cy="700.44" r="9.35"/><circle cx="1739.7" cy="700.57" r="9.35"/><circle cx="1766.52" cy="700.66" r="9.35"/><circle cx="1793.34" cy="700.7" r="9.35"/><circle cx="1820.15" cy="700.7" r="9.35"/><circle cx="1846.97" cy="700.7" r="9.35"/><circle cx="1873.79" cy="700.7" r="9.35"/><circle cx="1900.6" cy="700.7" r="9.35"/><circle cx="1927.42" cy="700.7" r="9.35"/><circle cx="1954.24" cy="700.7" r="9.35"/></g>
<path fill="none" stroke="#000" stroke-width="2" d="M1417.9 36.95V55.35M1408.7 46.15H1427.1M1444.72 36.95V55.35M1435.52 46.15H1453.92M1471.54 36.95V55.35M1462.34 46.15H1480.74M1498.35 36.95V55.35M1489.15 46.15H1507.55M1525.17 36.95V55.35M1515.97 46.15H1534.37M1551.99 36.95V55.35M1542.79 46.15H1561.19M1578.8 36.95V55.35M1569.6 46.15H1588M1605.62 36.95V55.35M1596.42 46.15H1614.82M1632.44 36.95V55.35M1623.24 46.15H1641.64M1659.25 36.95V55.35M1650.05 46.15H1668.45M1686.07 36.95V55.35M1676.87 46.15H1695.27M1712.89 36.95V55.35M1703.69 46.15H1722.09M1739.7 36.95V55.35M1730.5 46.15H1748.9M1766.52 36.95V55.35M1757.32 46.15H1775.72M1793.34 36.95V55.35M1784.14 46.15H1802.54M1820.15 36.95V55.35M1810.95 46.15H1829.35M1846.97 36.95V55.35M1837.77 46.15H1856.17M1873.79 36.95V55.35M1864.59 46.15H1882.99M1900.6 36.95V55.35M1891.4 46.15H1909.8M1927.42 36.95V55.35M1918.22 46.15H1936.62M1954.24 36.95V55.35M1945.04 46.15H1963.44M1417.9 691.5V709.9M1408.7 700.7H1427.1M1444.72 691.5V709.9M1435.52 700.7H1453.92M1471.54 691.5V709.9M1462.34 700.7H1480.74M1498.35 691.5V709.9M1489.15 700.7H1507.55M1525.17 691.5V709.9M1515.97 700.7H1534.37M1551.99 691.5V709.9M1542.79 700.7H1561.19M1578.8 691.5V709.9M1569.6 700.7H1588M1605.62 691.5V709.9M1596.42 700.7H1614.82M1632.44 691.5V709.9M1623.24 700.7H1641.64M1659.25 691.5V709.9M1650.05 700.7H1668.45M1686.07 691.5V709.9M1676.87 700.7H1695.27M1712.89 691.5V709.9M1703.69 700.7H1722.09M1739.7 691.5V709.9M1730.5 700.7H1748.9M1766.52 691.5V709.9M1757.32 700.7H1775.72M1793.34 691.5V709.9M1784.14 700.7H1802.54M1820.15 691.5V709.9M1810.95 700.7H1829.35M1846.97 691.5V709.9M1837.77 700.7H1856.17M1873.79 691.5V709.9M1864.59 700.7H1882.99M1900.6 691.5V709.9M1891.4 700.7H1909.8M1927.42 691.5V709.9M1918.22 700.7H1936.62M1954.24 691.5V709.9M1945.04 700.7H1963.44"/>
<path fill="#0000ff" stroke="#000" stroke-width="2.3" stroke-linejoin="miter" d="M1417.9 446.6L1426.74 455.44L1417.9 464.28L1409.06 455.44ZM1444.72 450.13L1453.56 458.97L1444.72 467.81L1435.88 458.97ZM1471.54 450.4L1480.38 459.24L1471.54 468.08L1462.7 459.24ZM1498.35 449.81L1507.19 458.65L1498.35 467.49L1489.51 458.65ZM1525.17 448.43L1534.01 457.27L1525.17 466.11L1516.33 457.27ZM1551.99 447.32L1560.83 456.16L1551.99 465L1543.15 456.16ZM1578.8 446.34L1587.64 455.18L1578.8 464.02L1569.96 455.18ZM1605.62 445.23L1614.46 454.07L1605.62 462.91L1596.78 454.07ZM1632.44 443.98L1641.28 452.82L1632.44 461.66L1623.6 452.82ZM1659.25 443L1668.09 451.84L1659.25 460.68L1650.41 451.84ZM1686.07 441.89L1694.91 450.73L1686.07 459.57L1677.23 450.73ZM1712.89 441.04L1721.73 449.88L1712.89 458.72L1704.05 449.88ZM1739.7 440.51L1748.54 449.35L1739.7 458.19L1730.86 449.35ZM1766.52 440.05L1775.36 448.89L1766.52 457.73L1757.68 448.89ZM1793.34 439.79L1802.18 448.63L1793.34 457.47L1784.5 448.63ZM1820.15 439.66L1828.99 448.5L1820.15 457.34L1811.31 448.5ZM1846.97 439.79L1855.81 448.63L1846.97 457.47L1838.13 448.63ZM1873.79 439.92L1882.63 448.76L1873.79 457.6L1864.95 448.76ZM1900.6 440.05L1909.44 448.89L1900.6 457.73L1891.76 448.89ZM1927.42 440.19L1936.26 449.03L1927.42 457.87L1918.58 449.03ZM1954.24 440.51L1963.08 449.35L1954.24 458.19L1945.4 449.35Z"/>
</g>
<path fill="none" stroke="#000" stroke-width="2.08" d="M1417.9 700.7V683.5M1417.9 46.15V63.35M1412.54 700.7H1429.74M1959.6 700.7H1942.4M1525.17 700.7V683.5M1525.17 46.15V63.35M1412.54 569.79H1429.74M1959.6 569.79H1942.4M1632.44 700.7V683.5M1632.44 46.15V63.35M1412.54 438.88H1429.74M1959.6 438.88H1942.4M1739.7 700.7V683.5M1739.7 46.15V63.35M1412.54 307.97H1429.74M1959.6 307.97H1942.4M1846.97 700.7V683.5M1846.97 46.15V63.35M1412.54 177.06H1429.74M1959.6 177.06H1942.4M1954.24 700.7V683.5M1954.24 46.15V63.35M1412.54 46.15H1429.74M1959.6 46.15H1942.4"/>
<rect x="1412.54" y="46.15" width="547.06" height="654.55" fill="none" stroke="#000" stroke-width="4.3"/>
<g><text x="1417.9" y="743" text-anchor="middle">0.0</text><text x="1395.84" y="709.9" text-anchor="end">0.0</text><text x="1525.17" y="743" text-anchor="middle">0.2</text><text x="1395.84" y="578.99" text-anchor="end">0.2</text><text x="1632.44" y="743" text-anchor="middle">0.4</text><text x="1395.84" y="448.08" text-anchor="end">0.4</text><text x="1739.7" y="743" text-anchor="middle">0.6</text><text x="1395.84" y="317.17" text-anchor="end">0.6</text><text x="1846.97" y="743" text-anchor="middle">0.8</text><text x="1395.84" y="186.26" text-anchor="end">0.8</text><text x="1954.24" y="743" text-anchor="middle">1.0</text><text x="1395.84" y="55.35" text-anchor="end">1.0</text></g>
</g>
<g id="ax3">
<g clip-path="url(#c3)">
<g fill="none" stroke="#000" stroke-width="2.5"><circle cx="104.96" cy="861.91" r="9.35"/><circle cx="131.78" cy="861.79" r="9.35"/><circle cx="158.6" cy="861.73" r="9.35"/><circle cx="185.41" cy="861.71" r="9.35"/><circle cx="212.23" cy="861.71" r="9.35"/><circle cx="239.05" cy="861.91" r="9.35"/><circle cx="265.86" cy="862.31" r="9.35"/><circle cx="292.68" cy="862.63" r="9.35"/><circle cx="319.5" cy="862.78" r="9.35"/><circle cx="346.31" cy="862.9" r="9.35"/><circle cx="373.13" cy="863.02" r="9.35"/><circle cx="399.95" cy="863.16" r="9.35"/><circle cx="426.76" cy="863.29" r="9.35"/><circle cx="453.58" cy="863.35" r="9.35"/><circle cx="480.4" cy="862.89" r="9.35"/><circle cx="507.21" cy="862.67" r="9.35"/><circle cx="534.03" cy="862.51" r="9.35"/><circle cx="560.85" cy="862.36" r="9.35"/><circle cx="587.66" cy="862.2" r="9.35"/><circle cx="614.48" cy="862.05" r="9.35"/><circle cx="641.3" cy="861.91" r="9.35"/><circle cx="104.96" cy="861.91" r="9.35"/><circle cx="131.78" cy="862.28" r="9.35"/><circle cx="158.6" cy="862.69" r="9.35"/><circle cx="185.41" cy="863.21" r="9.35"/><circle cx="212.23" cy="863.67" r="9.35"/><circle cx="239.05" cy="864.01" r="9.35"/><circle cx="265.86" cy="864.28" r="9.35"/><circle cx="292.68" cy="864.39" r="9.35"/><circle cx="319.5" cy="864.38" r="9.35"/><circle cx="346.31" cy="864.36" r="9.35"/><circle cx="373.13" cy="864.33" r="9.35"/><circle cx="399.95" cy="864.26" r="9.35"/><circle cx="426.76" cy="864.15" r="9.35"/><circle cx="453.58" cy="864" r="9.35"/><circle cx="480.4" cy="863.74" r="9.35"/><circle cx="507.21" cy="863.37" r="9.35"/><circle cx="534.03" cy="863.02" r="9.35"/><circle cx="560.85" cy="862.72" r="9.35"/><circle cx="587.66" cy="862.44" r="9.35"/><circle cx="614.48" cy="862.16" r="9.35"/><circle cx="641.3" cy="861.91" r="9.35"/><circle cx="104.96" cy="873.62" r="9.35"/><circle cx="131.78" cy="873.48" r="9.35"/><circle cx="158.6" cy="873.36" r="9.35"/><circle cx="185.41" cy="873.23" r="9.35"/><circle cx="212.23" cy="873.16" r="9.35"/><circle cx="239.05" cy="873.25" r="9.35"/><circle cx="265.86" cy="873.43" r="9.35"/><circle cx="292.68" cy="873.62" r="9.35"/><circle cx="319.5" cy="873.8" r="9.35"/><circle cx="346.31" cy="873.99" r="9.35"/><circle cx="373.13" cy="874.15" r="9.35"/><circle cx="399.95" cy="874.26" r="9.35"/><circle cx="426.76" cy="874.36" r="9.35"/><circle cx="453.58" cy="874.47" r="9.35"/><circle cx="480.4" cy="874.6" r="9.35"/><circle cx="507.21" cy="874.6" r="9.35"/><circle cx="534.03" cy="874.59" r="9.35"/><circle cx="560.85" cy="874.57" r="9.35"/><circle cx="587.66" cy="874.53" r="9.35"/><circle cx="614.48" cy="874.45" r="9.35"/><circle cx="641.3" cy="874.34" r="9.35"/><circle cx="104.96" cy="873.62" r="9.35"/><circle cx="131.78" cy="873.87" r="9.35"/><circle cx="158.6" cy="874.15" r="9.35"/><circle cx="185.41" cy="874.49" r="9.35"/><circle cx="212.23" cy="874.8" r="9.35"/><circle cx="239.05" cy="875.02" r="9.35"/><circle cx="265.86" cy="875.21" r="9.35"/><circle cx="292.68" cy="875.32" r="9.35"/><circle cx="319.5" cy="875.39" r="9.35"/><circle cx="346.31" cy="875.44" r="9.35"/><circle cx="373.13" cy="875.45" r="9.35"/><circle cx="399.95" cy="875.39" r="9.35"/><circle cx="426.76" cy="875.26" r="9.35"/><circle cx="453.58" cy="875.13" r="9.35"/><circle cx="480.4" cy="875.02" r="9.35"/><circle cx="507.21" cy="874.91" r="9.35"/><circle cx="534.03" cy="874.8" r="9.35"/><circle cx="560.85" cy="874.69" r="9.35"/><circle cx="587.66" cy="874.57" r="9.35"/><circle cx="614.48" cy="874.46" r="9.35"/><circle cx="641.3" cy="874.34" r="9.35"/><circle cx="104.96" cy="1434.18" r="9.35"/><circle cx="131.78" cy="1433.46" r="9.35"/><circle cx="158.6" cy="1432.8" r="9.35"/><circle cx="185.41" cy="1431.82" r="9.35"/><circle cx="212.23" cy="1431.63" r="9.35"/><circle cx="239.05" cy="1431.5" r="9.35"/><circle cx="265.86" cy="1432.02" r="9.35"/><circle cx="292.68" cy="1432.8" r="9.35"/><circle cx="319.5" cy="1433.98" r="9.35"/><circle cx="346.31" cy="1434.99" r="9.35"/><circle cx="373.13" cy="1435.95" r="9.35"/><circle cx="399.95" cy="1436.95" r="9.35"/><circle cx="426.76" cy="1437.96" r="9.35"/><circle cx="453.58" cy="1438.96" r="9.35"/><circle cx="480.4" cy="1439.94" r="9.35"/><circle cx="507.21" cy="1440.76" r="9.35"/><circle cx="534.03" cy="1441.44" r="9.35"/><circle cx="560.85" cy="1442" r="9.35"/><circle cx="587.66" cy="1442.43" r="9.35"/><circle cx="614.48" cy="1442.74" r="9.35"/><circle cx="641.3" cy="1442.95" r="9.35"/><circle cx="104.96" cy="1434.18" r="9.35"/><circle cx="131.78" cy="1434.44" r="9.35"/><circle cx="158.6" cy="1436.47" r="9.35"/><circle cx="185.41" cy="1437.98" r="9.35"/><circle cx="212.23" cy="1438.43" r="9.35"/><circle cx="239.05" cy="1439.94" r="9.35"/><circle cx="265.86" cy="1440.92" r="9.35"/><circle cx="292.68" cy="1441.71" r="9.35"/><circle cx="319.5" cy="1442.53" r="9.35"/><circle cx="346.31" cy="1443.34" r="9.35"/><circle cx="373.13" cy="1443.93" r="9.35"/><circle cx="399.95" cy="1444.33" r="9.35"/><circle cx="426.76" cy="1444.65" r="9.35"/><circle cx="453.58" cy="1444.78" r="9.35"/><circle cx="480.4" cy="1443.93" r="9.35"/><circle cx="507.21" cy="1443.53" r="9.35"/><circle cx="534.03" cy="1443.28" r="9.35"/><circle cx="560.85" cy="1443.06" r="9.35"/><circle cx="587.66" cy="1442.95" r="9.35"/><circle cx="614.48" cy="1442.95" r="9.35"/><circle cx="641.3" cy="1442.95" r="9.35"/><circle cx="104.96" cy="1449.69" r="9.35"/><circle cx="131.78" cy="1448.84" r="9.35"/><circle cx="158.6" cy="1447.53" r="9.35"/><circle cx="185.41" cy="1447.4" r="9.35"/><circle cx="212.23" cy="1447.4" r="9.35"/><circle cx="239.05" cy="1447.4" r="9.35"/><circle cx="265.86" cy="1447.4" r="9.35"/><circle cx="292.68" cy="1447.4" r="9.35"/><circle cx="319.5" cy="1447.71" r="9.35"/><circle cx="346.31" cy="1448.41" r="9.35"/><circle cx="373.13" cy="1449.17" r="9.35"/><circle cx="399.95" cy="1449.89" r="9.35"/><circle cx="426.76" cy="1450.68" r="9.35"/><circle cx="453.58" cy="1451.46" r="9.35"/><circle cx="480.4" cy="1452.18" r="9.35"/><circle cx="507.21" cy="1453" r="9.35"/><circle cx="534.03" cy="1453.75" r="9.35"/><circle cx="560.85" cy="1454.31" r="9.35"/><circle cx="587.66" cy="1454.73" r="9.35"/><circle cx="614.48" cy="1455.01" r="9.35"/><circle cx="641.3" cy="1455.19" r="9.35"/><circle cx="104.96" cy="1449.69" r="9.35"/><circle cx="131.78" cy="1450.22" r="9.35"/><circle cx="158.6" cy="1451" r="9.35"/><circle cx="185.41" cy="1451.66" r="9.35"/><circle cx="212.23" cy="1452.05" r="9.35"/><circle cx="239.05" cy="1452.7" r="9.35"/><circle cx="265.86" cy="1452.92" r="9.35"/><circle cx="292.68" cy="1453.1" r="9.35"/><circle cx="319.5" cy="1453.4" r="9.35"/><circle cx="346.31" cy="1453.77" r="9.35"/><circle cx="373.13" cy="1454.14" r="9.35"/><circle cx="399.95" cy="1454.56" r="9.35"/><circle cx="426.76" cy="1454.98" r="9.35"/><circle cx="453.58" cy="1455.19" r="9.35"/><circle cx="480.4" cy="1455.22" r="9.35"/><circle cx="507.21" cy="1455.23" r="9.35"/><circle cx="534.03" cy="1455.26" r="9.35"/><circle cx="560.85" cy="1455.33" r="9.35"/><circle cx="587.66" cy="1455.39" r="9.35"/><circle cx="614.48" cy="1455.33" r="9.35"/><circle cx="641.3" cy="1455.19" r="9.35"/><circle cx="104.96" cy="1128.57" r="9.35"/><circle cx="131.78" cy="1128.68" r="9.35"/><circle cx="158.6" cy="1128.74" r="9.35"/><circle cx="185.41" cy="1128.76" r="9.35"/><circle cx="212.23" cy="1128.77" r="9.35"/><circle cx="239.05" cy="1128.57" r="9.35"/><circle cx="265.86" cy="1128.17" r="9.35"/><circle cx="292.68" cy="1127.85" r="9.35"/><circle cx="319.5" cy="1127.69" r="9.35"/><circle cx="346.31" cy="1127.57" r="9.35"/><circle cx="373.13" cy="1127.46" r="9.35"/><circle cx="399.95" cy="1127.32" r="9.35"/><circle cx="426.76" cy="1127.19" r="9.35"/><circle cx="453.58" cy="1127.13" r="9.35"/><circle cx="480.4" cy="1127.59" r="9.35"/><circle cx="507.21" cy="1127.81" r="9.35"/><circle cx="534.03" cy="1127.96" r="9.35"/><circle cx="560.85" cy="1128.11" r="9.35"/><circle cx="587.66" cy="1128.27" r="9.35"/><circle cx="614.48" cy="1128.42" r="9.35"/><circle cx="641.3" cy="1128.57" r="9.35"/><circle cx="104.96" cy="1128.57" r="9.35"/><circle cx="131.78" cy="1128.2" r="9.35"/><circle cx="158.6" cy="1127.78" r="9.35"/><circle cx="185.41" cy="1127.27" r="9.35"/><circle cx="212.23" cy="1126.8" r="9.35"/><circle cx="239.05" cy="1126.47" r="9.35"/><circle cx="265.86" cy="1126.2" r="9.35"/><circle cx="292.68" cy="1126.08" r="9.35"/><circle cx="319.5" cy="1126.09" r="9.35"/><circle cx="346.31" cy="1126.11" r="9.35"/><circle cx="373.13" cy="1126.15" r="9.35"/><circle cx="399.95" cy="1126.21" r="9.35"/><circle cx="426.76" cy="1126.33" r="9.35"/><circle cx="453.58" cy="1126.47" r="9.35"/><circle cx="480.4" cy="1126.73" r="9.35"/><circle cx="507.21" cy="1127.1" r="9.35"/><circle cx="534.03" cy="1127.46" r="9.35"/><circle cx="560.85" cy="1127.75" r="9.35"/><circle cx="587.66" cy="1128.04" r="9.35"/><circle cx="614.48" cy="1128.31" r="9.35"/><circle cx="641.3" cy="1128.57" r="9.35"/><circle cx="104.96" cy="1116.85" r="9.35"/><circle cx="131.78" cy="1116.99" r="9.35"/><circle cx="158.6" cy="1117.11" r="9.35"/><circle cx="185.41" cy="1117.24" r="9.35"/><circle cx="212.23" cy="1117.31" r="9.35"/><circle cx="239.05" cy="1117.23" r="9.35"/><circle cx="265.86" cy="1117.04" r="9.35"/><circle cx="292.68" cy="1116.85" r="9.35"/><circle cx="319.5" cy="1116.67" r="9.35"/><circle cx="346.31" cy="1116.49" r="9.35"/><circle cx="373.13" cy="1116.33" r="9.35"/><circle cx="399.95" cy="1116.21" r="9.35"/><circle cx="426.76" cy="1116.11" r="9.35"/><circle cx="453.58" cy="1116" r="9.35"/><circle cx="480.4" cy="1115.87" r="9.35"/><circle cx="507.21" cy="1115.87" r="9.35"/><circle cx="534.03" cy="1115.88" r="9.35"/><circle cx="560.85" cy="1115.9" r="9.35"/><circle cx="587.66" cy="1115.95" r="9.35"/><circle cx="614.48" cy="1116.02" r="9.35"/><circle cx="641.3" cy="1116.13" r="9.35"/><circle cx="104.96" cy="1116.85" r="9.35"/><circle cx="131.78" cy="1116.61" r="9.35"/><circle cx="158.6" cy="1116.33" r="9.35"/><circle cx="185.41" cy="1115.99" r="9.35"/><circle cx="212.23" cy="1115.67" r="9.35"/><circle cx="239.05" cy="1115.45" r="9.35"/><circle cx="265.86" cy="1115.27" r="9.35"/><circle cx="292.68" cy="1115.15" r="9.35"/><circle cx="319.5" cy="1115.09" r="9.35"/><circle cx="346.31" cy="1115.04" r="9.35"/><circle cx="373.13" cy="1115.02" r="9.35"/><circle cx="399.95" cy="1115.08" r="9.35"/><circle cx="426.76" cy="1115.21" r="9.35"/><circle cx="453.58" cy="1115.35" r="9.35"/><circle cx="480.4" cy="1115.46" r="9.35"/><circle cx="507.21" cy="1115.56" r="9.35"/><circle cx="534.03" cy="1115.67" r="9.35"/><circle cx="560.85" cy="1115.79" r="9.35"/><circle cx="587.66" cy="1115.9" r="9.35"/><circle cx="614.48" cy="1116.02" r="9.35"/><circle cx="641.3" cy="1116.13" r="9.35"/><circle cx="104.96" cy="1210.85" r="9.35"/><circle cx="131.78" cy="1211.57" r="9.35"/><circle cx="158.6" cy="1212.22" r="9.35"/><circle cx="185.41" cy="1213.2" r="9.35"/><circle cx="212.23" cy="1213.4" r="9.35"/><circle cx="239.05" cy="1213.53" r="9.35"/><circle cx="265.86" cy="1213.01" r="9.35"/><circle cx="292.68" cy="1212.22" r="9.35"/><circle cx="319.5" cy="1211.04" r="9.35"/><circle cx="346.31" cy="1210.04" r="9.35"/><circle cx="373.13" cy="1209.08" r="9.35"/><circle cx="399.95" cy="1208.08" r="9.35"/><circle cx="426.76" cy="1207.07" r="9.35"/><circle cx="453.58" cy="1206.07" r="9.35"/><circle cx="480.4" cy="1205.09" r="9.35"/><circle cx="507.21" cy="1204.27" r="9.35"/><circle cx="534.03" cy="1203.58" r="9.35"/><circle cx="560.85" cy="1203.03" r="9.35"/><circle cx="587.66" cy="1202.6" r="9.35"/><circle cx="614.48" cy="1202.29" r="9.35"/><circle cx="641.3" cy="1202.08" r="9.35"/><circle cx="104.96" cy="1210.85" r="9.35"/><circle cx="131.78" cy="1210.58" r="9.35"/><circle cx="158.6" cy="1208.56" r="9.35"/><circle cx="185.41" cy="1207.05" r="9.35"/><circle cx="212.23" cy="1206.59" r="9.35"/><circle cx="239.05" cy="1205.09" r="9.35"/><circle cx="265.86" cy="1204.1" r="9.35"/><circle cx="292.68" cy="1203.32" r="9.35"/><circle cx="319.5" cy="1202.49" r="9.35"/><circle cx="346.31" cy="1201.68" r="9.35"/><circle cx="373.13" cy="1201.09" r="9.35"/><circle cx="399.95" cy="1200.69" r="9.35"/><circle cx="426.76" cy="1200.37" r="9.35"/><circle cx="453.58" cy="1200.24" r="9.35"/><circle cx="480.4" cy="1201.09" r="9.35"/><circle cx="507.21" cy="1201.49" r="9.35"/><circle cx="534.03" cy="1201.75" r="9.35"/><circle cx="560.85" cy="1201.97" r="9.35"/><circle cx="587.66" cy="1202.08" r="9.35"/><circle cx="614.48" cy="1202.08" r="9.35"/><circle cx="641.3" cy="1202.08" r="9.35"/><circle cx="104.96" cy="1195.33" r="9.35"/><circle cx="131.78" cy="1196.18" r="9.35"/><circle cx="158.6" cy="1197.49" r="9.35"/><circle cx="185.41" cy="1197.62" r="9.35"/><circle cx="212.23" cy="1197.62" r="9.35"/><circle cx="239.05" cy="1197.62" r="9.35"/><circle cx="265.86" cy="1197.62" r="9.35"/><circle cx="292.68" cy="1197.62" r="9.35"/><circle cx="319.5" cy="1197.31" r="9.35"/><circle cx="346.31" cy="1196.61" r="9.35"/><circle cx="373.13" cy="1195.86" r="9.35"/><circle cx="399.95" cy="1195.13" r="9.35"/><circle cx="426.76" cy="1194.34" r="9.35"/><circle cx="453.58" cy="1193.57" r="9.35"/><circle cx="480.4" cy="1192.85" r="9.35"/><circle cx="507.21" cy="1192.02" r="9.35"/><circle cx="534.03" cy="1191.28" r="9.35"/><circle cx="560.85" cy="1190.71" r="9.35"/><circle cx="587.66" cy="1190.29" r="9.35"/><circle cx="614.48" cy="1190.01" r="9.35"/><circle cx="641.3" cy="1189.84" r="9.35"/><circle cx="104.96" cy="1195.33" r="9.35"/><circle cx="131.78" cy="1194.81" r="9.35"/><circle cx="158.6" cy="1194.02" r="9.35"/><circle cx="185.41" cy="1193.37" r="9.35"/><circle cx="212.23" cy="1192.98" r="9.35"/><circle cx="239.05" cy="1192.32" r="9.35"/><circle cx="265.86" cy="1192.11" r="9.35"/><circle cx="292.68" cy="1191.93" r="9.35"/><circle cx="319.5" cy="1191.63" r="9.35"/><circle cx="346.31" cy="1191.25" r="9.35"/><circle cx="373.13" cy="1190.88" r="9.35"/><circle cx="399.95" cy="1190.46" r="9.35"/><circle cx="426.76" cy="1190.05" r="9.35"/><circle cx="453.58" cy="1189.84" r="9.35"/><circle cx="480.4" cy="1189.81" r="9.35"/><circle cx="507.21" cy="1189.79" r="9.35"/><circle cx="534.03" cy="1189.77" r="9.35"/><circle cx="560.85" cy="1189.7" r="9.35"/><circle cx="587.66" cy="1189.64" r="9.35"/><circle cx="614.48" cy="1189.69" r="9.35"/><circle cx="641.3" cy="1189.84" r="9.35"/><circle cx="104.96" cy="833.83" r="9.35"/><circle cx="131.78" cy="833.82" r="9.35"/><circle cx="158.6" cy="833.8" r="9.35"/><circle cx="185.41" cy="833.77" r="9.35"/><circle cx="212.23" cy="833.74" r="9.35"/><circle cx="239.05" cy="833.69" r="9.35"/><circle cx="265.86" cy="833.63" r="9.35"/><circle cx="292.68" cy="833.56" r="9.35"/><circle cx="319.5" cy="833.42" r="9.35"/><circle cx="346.31" cy="833.17" r="9.35"/><circle cx="373.13" cy="832.91" r="9.35"/><circle cx="399.95" cy="832.69" r="9.35"/><circle cx="426.76" cy="832.46" r="9.35"/><circle cx="453.58" cy="832.12" r="9.35"/><circle cx="480.4" cy="831.4" r="9.35"/><circle cx="507.21" cy="831.29" r="9.35"/><circle cx="534.03" cy="831.21" r="9.35"/><circle cx="560.85" cy="831.14" r="9.35"/><circle cx="587.66" cy="831.1" r="9.35"/><circle cx="614.48" cy="831.08" r="9.35"/><circle cx="641.3" cy="831.08" r="9.35"/><circle cx="104.96" cy="834.48" r="9.35"/><circle cx="131.78" cy="834.47" r="9.35"/><circle cx="158.6" cy="834.46" r="9.35"/><circle cx="185.41" cy="834.43" r="9.35"/><circle cx="212.23" cy="834.39" r="9.35"/><circle cx="239.05" cy="834.34" r="9.35"/><circle cx="265.86" cy="834.28" r="9.35"/><circle cx="292.68" cy="834.22" r="9.35"/><circle cx="319.5" cy="834.07" r="9.35"/><circle cx="346.31" cy="833.82" r="9.35"/><circle cx="373.13" cy="833.56" r="9.35"/><circle cx="399.95" cy="833.35" r="9.35"/><circle cx="426.76" cy="833.11" r="9.35"/><circle cx="453.58" cy="832.78" r="9.35"/><circle cx="480.4" cy="832.06" r="9.35"/><circle cx="507.21" cy="831.95" r="9.35"/><circle cx="534.03" cy="831.86" r="9.35"/><circle cx="560.85" cy="831.8" r="9.35"/><circle cx="587.66" cy="831.76" r="9.35"/><circle cx="614.48" cy="831.74" r="9.35"/><circle cx="641.3" cy="831.73" r="9.35"/><circle cx="104.96" cy="1489.68" r="9.35"/><circle cx="131.78" cy="1489.68" r="9.35"/><circle cx="158.6" cy="1489.68" r="9.35"/><circle cx="185.41" cy="1489.68" r="9.35"/><circle cx="212.23" cy="1489.37" r="9.35"/><circle cx="239.05" cy="1488.77" r="9.35"/><circle cx="265.86" cy="1488.04" r="9.35"/><circle cx="292.68" cy="1487.33" r="9.35"/><circle cx="319.5" cy="1486.84" r="9.35"/><circle cx="346.31" cy="1486.44" r="9.35"/><circle cx="373.13" cy="1486.15" r="9.35"/><circle cx="399.95" cy="1485.93" r="9.35"/><circle cx="426.76" cy="1485.76" r="9.35"/><circle cx="453.58" cy="1485.69" r="9.35"/><circle cx="480.4" cy="1485.69" r="9.35"/><circle cx="507.21" cy="1485.69" r="9.35"/><circle cx="534.03" cy="1485.69" r="9.35"/><circle cx="560.85" cy="1485.69" r="9.35"/><circle cx="587.66" cy="1485.69" r="9.35"/><circle cx="614.48" cy="1485.69" r="9.35"/><circle cx="641.3" cy="1485.69" r="9.35"/><circle cx="104.96" cy="1489.03" r="9.35"/><circle cx="131.78" cy="1489.03" r="9.35"/><circle cx="158.6" cy="1489.03" r="9.35"/><circle cx="185.41" cy="1489.03" r="9.35"/><circle cx="212.23" cy="1488.71" r="9.35"/><circle cx="239.05" cy="1488.11" r="9.35"/><circle cx="265.86" cy="1487.38" r="9.35"/><circle cx="292.68" cy="1486.67" r="9.35"/><circle cx="319.5" cy="1486.19" r="9.35"/><circle cx="346.31" cy="1485.78" r="9.35"/><circle cx="373.13" cy="1485.5" r="9.35"/><circle cx="399.95" cy="1485.28" r="9.35"/><circle cx="426.76" cy="1485.11" r="9.35"/><circle cx="453.58" cy="1485.04" r="9.35"/><circle cx="480.4" cy="1485.04" r="9.35"/><circle cx="507.21" cy="1485.04" r="9.35"/><circle cx="534.03" cy="1485.04" r="9.35"/><circle cx="560.85" cy="1485.04" r="9.35"/><circle cx="587.66" cy="1485.04" r="9.35"/><circle cx="614.48" cy="1485.04" r="9.35"/><circle cx="641.3" cy="1485.04" r="9.35"/><circle cx="104.96" cy="1155.21" r="9.35"/><circle cx="131.78" cy="1155.23" r="9.35"/><circle cx="158.6" cy="1155.27" r="9.35"/><circle cx="185.41" cy="1155.34" r="9.35"/><circle cx="212.23" cy="1155.56" r="9.35"/><circle cx="239.05" cy="1155.93" r="9.35"/><circle cx="265.86" cy="1156.4" r="9.35"/><circle cx="292.68" cy="1156.91" r="9.35"/><circle cx="319.5" cy="1157.35" r="9.35"/><circle cx="346.31" cy="1157.77" r="9.35"/><circle cx="373.13" cy="1158.09" r="9.35"/><circle cx="399.95" cy="1158.35" r="9.35"/><circle cx="426.76" cy="1158.57" r="9.35"/><circle cx="453.58" cy="1158.68" r="9.35"/><circle cx="480.4" cy="1158.71" r="9.35"/><circle cx="507.21" cy="1158.74" r="9.35"/><circle cx="534.03" cy="1158.77" r="9.35"/><circle cx="560.85" cy="1158.79" r="9.35"/><circle cx="587.66" cy="1158.8" r="9.35"/><circle cx="614.48" cy="1158.81" r="9.35"/><circle cx="641.3" cy="1158.81" r="9.35"/><circle cx="104.96" cy="1155.86" r="9.35"/><circle cx="131.78" cy="1155.88" r="9.35"/><circle cx="158.6" cy="1155.93" r="9.35"/><circle cx="185.41" cy="1155.99" r="9.35"/><circle cx="212.23" cy="1156.22" r="9.35"/><circle cx="239.05" cy="1156.58" r="9.35"/><circle cx="265.86" cy="1157.06" r="9.35"/><circle cx="292.68" cy="1157.57" r="9.35"/><circle cx="319.5" cy="1158.01" r="9.35"/><circle cx="346.31" cy="1158.42" r="9.35"/><circle cx="373.13" cy="1158.74" r="9.35"/><circle cx="399.95" cy="1159" r="9.35"/><circle cx="426.76" cy="1159.22" r="9.35"/><circle cx="453.58" cy="1159.33" r="9.35"/><circle cx="480.4" cy="1159.37" r="9.35"/><circle cx="507.21" cy="1159.4" r="9.35"/><circle cx="534.03" cy="1159.42" r="9.35"/><circle cx="560.85" cy="1159.44" r="9.35"/><circle cx="587.66" cy="1159.45" r="9.35"/><circle cx="614.48" cy="1159.46" r="9.35"/><circle cx="641.3" cy="1159.46" r="9.35"/></g>
<path fill="none" stroke="#000" stroke-width="2" d="M104.96 822.4V840.8M95.76 831.6H114.16M131.78 822.4V840.8M122.58 831.6H140.98M158.6 822.4V840.8M149.4 831.6H167.8M185.41 822.4V840.8M176.21 831.6H194.61M212.23 822.4V840.8M203.03 831.6H221.43M239.05 822.4V840.8M229.85 831.6H248.25M265.86 822.4V840.8M256.66 831.6H275.06M292.68 822.4V840.8M283.48 831.6H301.88M319.5 822.4V840.8M310.3 831.6H328.7M346.31 822.4V840.8M337.11 831.6H355.51M373.13 822.4V840.8M363.93 831.6H382.33M399.95 822.4V840.8M390.75 831.6H409.15M426.76 822.4V840.8M417.56 831.6H435.96M453.58 822.4V840.8M444.38 831.6H462.78M480.4 822.4V840.8M471.2 831.6H489.6M507.21 822.4V840.8M498.01 831.6H516.41M534.03 822.4V840.8M524.83 831.6H543.23M560.85 822.4V840.8M551.65 831.6H570.05M587.66 822.4V840.8M578.46 831.6H596.86M614.48 822.4V840.8M605.28 831.6H623.68M641.3 822.4V840.8M632.1 831.6H650.5M104.96 1476.95V1495.35M95.76 1486.15H114.16M131.78 1476.95V1495.35M122.58 1486.15H140.98M158.6 1476.95V1495.35M149.4 1486.15H167.8M185.41 1476.95V1495.35M176.21 1486.15H194.61M212.23 1476.95V1495.35M203.03 1486.15H221.43M239.05 1476.95V1495.35M229.85 1486.15H248.25M265.86 1476.95V1495.35M256.66 1486.15H275.06M292.68 1476.95V1495.35M283.48 1486.15H301.88M319.5 1476.95V1495.35M310.3 1486.15H328.7M346.31 1476.95V1495.35M337.11 1486.15H355.51M373.13 1476.95V1495.35M363.93 1486.15H382.33M399.95 1476.95V1495.35M390.75 1486.15H409.15M426.76 1476.95V1495.35M417.56 1486.15H435.96M453.58 1476.95V1495.35M444.38 1486.15H462.78M480.4 1476.95V1495.35M471.2 1486.15H489.6M507.21 1476.95V1495.35M498.01 1486.15H516.41M534.03 1476.95V1495.35M524.83 1486.15H543.23M560.85 1476.95V1495.35M551.65 1486.15H570.05M587.66 1476.95V1495.35M578.46 1486.15H596.86M614.48 1476.95V1495.35M605.28 1486.15H623.68M641.3 1476.95V1495.35M632.1 1486.15H650.5"/>
<path fill="#0000ff" stroke="#000" stroke-width="2.3" stroke-linejoin="miter" d="M104.96 986.4L113.8 995.24L104.96 1004.08L96.12 995.24ZM131.78 986.4L140.62 995.24L131.78 1004.08L122.94 995.24ZM158.6 986.4L167.44 995.24L158.6 1004.08L149.76 995.24ZM185.41 986.4L194.25 995.24L185.41 1004.08L176.57 995.24ZM212.23 986.4L221.07 995.24L212.23 1004.08L203.39 995.24ZM239.05 986.4L247.89 995.24L239.05 1004.08L230.21 995.24ZM265.86 986.4L274.7 995.24L265.86 1004.08L257.02 995.24ZM292.68 986.4L301.52 995.24L292.68 1004.08L283.84 995.24ZM319.5 986.4L328.34 995.24L319.5 1004.08L310.66 995.24ZM346.31 986.4L355.15 995.24L346.31 1004.08L337.47 995.24ZM373.13 986.4L381.97 995.24L373.13 1004.08L364.29 995.24ZM399.95 986.4L408.79 995.24L399.95 1004.08L391.11 995.24ZM426.76 986.4L435.6 995.24L426.76 1004.08L417.92 995.24ZM453.58 986.4L462.42 995.24L453.58 1004.08L444.74 995.24ZM480.4 986.4L489.24 995.24L480.4 1004.08L471.56 995.24ZM507.21 986.4L516.05 995.24L507.21 1004.08L498.37 995.24ZM534.03 986.4L542.87 995.24L534.03 1004.08L525.19 995.24ZM560.85 986.4L569.69 995.24L560.85 1004.08L552.01 995.24ZM587.66 986.4L596.5 995.24L587.66 1004.08L578.82 995.24ZM614.48 986.4L623.32 995.24L614.48 1004.08L605.64 995.24ZM641.3 1313.67L650.14 1322.51L641.3 1331.35L632.46 1322.51Z"/>
</g>
<path fill="none" stroke="#000" stroke-width="2.08" d="M104.96 1486.15V1468.95M104.96 831.6V848.8M99.6 1486.15H116.8M646.66 1486.15H629.46M212.23 1486.15V1468.95M212.23 831.6V848.8M99.6 1355.24H116.8M646.66 1355.24H629.46M319.5 1486.15V1468.95M319.5 831.6V848.8M99.6 1224.33H116.8M646.66 1224.33H629.46M426.76 1486.15V1468.95M426.76 831.6V848.8M99.6 1093.42H116.8M646.66 1093.42H629.46M534.03 1486.15V1468.95M534.03 831.6V848.8M99.6 962.51H116.8M646.66 962.51H629.46M641.3 1486.15V1468.95M641.3 831.6V848.8M99.6 831.6H116.8M646.66 831.6H629.46"/>
<rect x="99.6" y="831.6" width="547.06" height="654.55" fill="none" stroke="#000" stroke-width="4.3"/>
<g><text x="104.96" y="1528.45" text-anchor="middle">0.0</text><text x="82.9" y="1495.35" text-anchor="end">0.0</text><text x="212.23" y="1528.45" text-anchor="middle">0.2</text><text x="82.9" y="1364.44" text-anchor="end">0.2</text><text x="319.5" y="1528.45" text-anchor="middle">0.4</text><text x="82.9" y="1233.53" text-anchor="end">0.4</text><text x="426.76" y="1528.45" text-anchor="middle">0.6</text><text x="82.9" y="1102.62" text-anchor="end">0.6</text><text x="534.03" y="1528.45" text-anchor="middle">0.8</text><text x="82.9" y="971.71" text-anchor="end">0.8</text><text x="641.3" y="1528.45" text-anchor="middle">1.0</text><text x="82.9" y="840.8" text-anchor="end">1.0</text></g>
</g>
<g id="ax4">
<g clip-path="url(#c4)">
<g fill="none" stroke="#000" stroke-width="2.5"><circle cx="761.43" cy="856.08" r="9.35"/><circle cx="788.25" cy="855.82" r="9.35"/><circle cx="815.07" cy="855.82" r="9.35"/><circle cx="841.88" cy="855.43" r="9.35"/><circle cx="868.7" cy="855.95" r="9.35"/><circle cx="895.52" cy="855.95" r="9.35"/><circle cx="922.33" cy="855.95" r="9.35"/><circle cx="949.15" cy="855.95" r="9.35"/><circle cx="975.97" cy="856.05" r="9.35"/><circle cx="1002.78" cy="856.15" r="9.35"/><circle cx="1029.6" cy="856.15" r="9.35"/><circle cx="1056.42" cy="855.99" r="9.35"/><circle cx="1083.23" cy="855.75" r="9.35"/><circle cx="1110.05" cy="855.58" r="9.35"/><circle cx="1136.87" cy="855.43" r="9.35"/><circle cx="1163.68" cy="855.26" r="9.35"/><circle cx="1190.5" cy="855.16" r="9.35"/><circle cx="1217.32" cy="855.16" r="9.35"/><circle cx="1244.13" cy="855.16" r="9.35"/><circle cx="1270.95" cy="855.16" r="9.35"/><circle cx="1297.77" cy="855.16" r="9.35"/><circle cx="761.43" cy="856.08" r="9.35"/><circle cx="788.25" cy="856.34" r="9.35"/><circle cx="815.07" cy="856.87" r="9.35"/><circle cx="841.88" cy="857.78" r="9.35"/><circle cx="868.7" cy="858.44" r="9.35"/><circle cx="895.52" cy="858.76" r="9.35"/><circle cx="922.33" cy="859" r="9.35"/><circle cx="949.15" cy="859.09" r="9.35"/><circle cx="975.97" cy="858.89" r="9.35"/><circle cx="1002.78" cy="857.91" r="9.35"/><circle cx="1029.6" cy="857.13" r="9.35"/><circle cx="1056.42" cy="856.76" r="9.35"/><circle cx="1083.23" cy="856.47" r="9.35"/><circle cx="1110.05" cy="856.15" r="9.35"/><circle cx="1136.87" cy="855.82" r="9.35"/><circle cx="1163.68" cy="855.41" r="9.35"/><circle cx="1190.5" cy="855.16" r="9.35"/><circle cx="1217.32" cy="855.16" r="9.35"/><circle cx="1244.13" cy="855.16" r="9.35"/><circle cx="1270.95" cy="855.16" r="9.35"/><circle cx="1297.77" cy="855.16" r="9.35"/><circle cx="761.43" cy="862.56" r="9.35"/><circle cx="788.25" cy="862.36" r="9.35"/><circle cx="815.07" cy="862.23" r="9.35"/><circle cx="841.88" cy="862.23" r="9.35"/><circle cx="868.7" cy="862.36" r="9.35"/><circle cx="895.52" cy="862.61" r="9.35"/><circle cx="922.33" cy="863.02" r="9.35"/><circle cx="949.15" cy="863.67" r="9.35"/><circle cx="975.97" cy="865.7" r="9.35"/><circle cx="1002.78" cy="867.67" r="9.35"/><circle cx="1029.6" cy="869.17" r="9.35"/><circle cx="1056.42" cy="870.49" r="9.35"/><circle cx="1083.23" cy="871.53" r="9.35"/><circle cx="1110.05" cy="872.22" r="9.35"/><circle cx="1136.87" cy="872.71" r="9.35"/><circle cx="1163.68" cy="873.06" r="9.35"/><circle cx="1190.5" cy="873.23" r="9.35"/><circle cx="1217.32" cy="873.15" r="9.35"/><circle cx="1244.13" cy="872.97" r="9.35"/><circle cx="1270.95" cy="872.64" r="9.35"/><circle cx="1297.77" cy="872.12" r="9.35"/><circle cx="761.43" cy="862.56" r="9.35"/><circle cx="788.25" cy="862.95" r="9.35"/><circle cx="815.07" cy="863.41" r="9.35"/><circle cx="841.88" cy="863.93" r="9.35"/><circle cx="868.7" cy="864.65" r="9.35"/><circle cx="895.52" cy="865.18" r="9.35"/><circle cx="922.33" cy="865.7" r="9.35"/><circle cx="949.15" cy="866.55" r="9.35"/><circle cx="975.97" cy="868.19" r="9.35"/><circle cx="1002.78" cy="869.17" r="9.35"/><circle cx="1029.6" cy="870.15" r="9.35"/><circle cx="1056.42" cy="871.13" r="9.35"/><circle cx="1083.23" cy="872.12" r="9.35"/><circle cx="1110.05" cy="872.9" r="9.35"/><circle cx="1136.87" cy="873.16" r="9.35"/><circle cx="1163.68" cy="873.3" r="9.35"/><circle cx="1190.5" cy="873.36" r="9.35"/><circle cx="1217.32" cy="873.23" r="9.35"/><circle cx="1244.13" cy="872.97" r="9.35"/><circle cx="1270.95" cy="872.61" r="9.35"/><circle cx="1297.77" cy="872.12" r="9.35"/><circle cx="761.43" cy="1455.19" r="9.35"/><circle cx="788.25" cy="1455.12" r="9.35"/><circle cx="815.07" cy="1454.92" r="9.35"/><circle cx="841.88" cy="1454.6" r="9.35"/><circle cx="868.7" cy="1454.29" r="9.35"/><circle cx="895.52" cy="1454.13" r="9.35"/><circle cx="922.33" cy="1454" r="9.35"/><circle cx="949.15" cy="1453.46" r="9.35"/><circle cx="975.97" cy="1453.19" r="9.35"/><circle cx="1002.78" cy="1452.46" r="9.35"/><circle cx="1029.6" cy="1451.67" r="9.35"/><circle cx="1056.42" cy="1450.94" r="9.35"/><circle cx="1083.23" cy="1450.35" r="9.35"/><circle cx="1110.05" cy="1449.69" r="9.35"/><circle cx="1136.87" cy="1449.17" r="9.35"/><circle cx="1163.68" cy="1448.51" r="9.35"/><circle cx="1190.5" cy="1448.08" r="9.35"/><circle cx="1217.32" cy="1448.05" r="9.35"/><circle cx="1244.13" cy="1448.09" r="9.35"/><circle cx="1270.95" cy="1448.14" r="9.35"/><circle cx="1297.77" cy="1448.19" r="9.35"/><circle cx="761.43" cy="1455.19" r="9.35"/><circle cx="788.25" cy="1455.39" r="9.35"/><circle cx="815.07" cy="1455.44" r="9.35"/><circle cx="841.88" cy="1455.43" r="9.35"/><circle cx="868.7" cy="1455.44" r="9.35"/><circle cx="895.52" cy="1455.44" r="9.35"/><circle cx="922.33" cy="1455.33" r="9.35"/><circle cx="949.15" cy="1454.82" r="9.35"/><circle cx="975.97" cy="1454.57" r="9.35"/><circle cx="1002.78" cy="1453.86" r="9.35"/><circle cx="1029.6" cy="1453.08" r="9.35"/><circle cx="1056.42" cy="1452.37" r="9.35"/><circle cx="1083.23" cy="1451.78" r="9.35"/><circle cx="1110.05" cy="1451.13" r="9.35"/><circle cx="1136.87" cy="1450.61" r="9.35"/><circle cx="1163.68" cy="1449.95" r="9.35"/><circle cx="1190.5" cy="1449.34" r="9.35"/><circle cx="1217.32" cy="1448.97" r="9.35"/><circle cx="1244.13" cy="1448.68" r="9.35"/><circle cx="1270.95" cy="1448.4" r="9.35"/><circle cx="1297.77" cy="1448.19" r="9.35"/><circle cx="761.43" cy="1475.68" r="9.35"/><circle cx="788.25" cy="1475.94" r="9.35"/><circle cx="815.07" cy="1475.7" r="9.35"/><circle cx="841.88" cy="1475.24" r="9.35"/><circle cx="868.7" cy="1474.64" r="9.35"/><circle cx="895.52" cy="1473.58" r="9.35"/><circle cx="922.33" cy="1472.59" r="9.35"/><circle cx="949.15" cy="1471.07" r="9.35"/><circle cx="975.97" cy="1469.42" r="9.35"/><circle cx="1002.78" cy="1468.37" r="9.35"/><circle cx="1029.6" cy="1467.18" r="9.35"/><circle cx="1056.42" cy="1466.19" r="9.35"/><circle cx="1083.23" cy="1465.41" r="9.35"/><circle cx="1110.05" cy="1464.88" r="9.35"/><circle cx="1136.87" cy="1464.35" r="9.35"/><circle cx="1163.68" cy="1464.09" r="9.35"/><circle cx="1190.5" cy="1463.99" r="9.35"/><circle cx="1217.32" cy="1463.98" r="9.35"/><circle cx="1244.13" cy="1463.99" r="9.35"/><circle cx="1270.95" cy="1464.04" r="9.35"/><circle cx="1297.77" cy="1464.09" r="9.35"/><circle cx="761.43" cy="1475.68" r="9.35"/><circle cx="788.25" cy="1476.2" r="9.35"/><circle cx="815.07" cy="1476.22" r="9.35"/><circle cx="841.88" cy="1476.07" r="9.35"/><circle cx="868.7" cy="1475.79" r="9.35"/><circle cx="895.52" cy="1474.89" r="9.35"/><circle cx="922.33" cy="1473.92" r="9.35"/><circle cx="949.15" cy="1472.43" r="9.35"/><circle cx="975.97" cy="1470.8" r="9.35"/><circle cx="1002.78" cy="1469.77" r="9.35"/><circle cx="1029.6" cy="1468.59" r="9.35"/><circle cx="1056.42" cy="1467.62" r="9.35"/><circle cx="1083.23" cy="1466.84" r="9.35"/><circle cx="1110.05" cy="1466.32" r="9.35"/><circle cx="1136.87" cy="1465.79" r="9.35"/><circle cx="1163.68" cy="1465.53" r="9.35"/><circle cx="1190.5" cy="1465.24" r="9.35"/><circle cx="1217.32" cy="1464.89" r="9.35"/><circle cx="1244.13" cy="1464.58" r="9.35"/><circle cx="1270.95" cy="1464.31" r="9.35"/><circle cx="1297.77" cy="1464.09" r="9.35"/><circle cx="761.43" cy="1278.66" r="9.35"/><circle cx="788.25" cy="1278.73" r="9.35"/><circle cx="815.07" cy="1278.77" r="9.35"/><circle cx="841.88" cy="1278.79" r="9.35"/><circle cx="868.7" cy="1278.79" r="9.35"/><circle cx="895.52" cy="1278.75" r="9.35"/><circle cx="922.33" cy="1278.66" r="9.35"/><circle cx="949.15" cy="1278.53" r="9.35"/><circle cx="975.97" cy="1278.23" r="9.35"/><circle cx="1002.78" cy="1277.76" r="9.35"/><circle cx="1029.6" cy="1277.28" r="9.35"/><circle cx="1056.42" cy="1276.75" r="9.35"/><circle cx="1083.23" cy="1276.22" r="9.35"/><circle cx="1110.05" cy="1275.97" r="9.35"/><circle cx="1136.87" cy="1276.3" r="9.35"/><circle cx="1163.68" cy="1277.14" r="9.35"/><circle cx="1190.5" cy="1278.26" r="9.35"/><circle cx="1217.32" cy="1279.47" r="9.35"/><circle cx="1244.13" cy="1280.49" r="9.35"/><circle cx="1270.95" cy="1281.11" r="9.35"/><circle cx="1297.77" cy="1281.47" r="9.35"/><circle cx="761.43" cy="1278.66" r="9.35"/><circle cx="788.25" cy="1278.83" r="9.35"/><circle cx="815.07" cy="1278.98" r="9.35"/><circle cx="841.88" cy="1279.1" r="9.35"/><circle cx="868.7" cy="1279.18" r="9.35"/><circle cx="895.52" cy="1279.24" r="9.35"/><circle cx="922.33" cy="1279.29" r="9.35"/><circle cx="949.15" cy="1279.31" r="9.35"/><circle cx="975.97" cy="1279.23" r="9.35"/><circle cx="1002.78" cy="1279.03" r="9.35"/><circle cx="1029.6" cy="1278.79" r="9.35"/><circle cx="1056.42" cy="1278.43" r="9.35"/><circle cx="1083.23" cy="1278.01" r="9.35"/><circle cx="1110.05" cy="1277.81" r="9.35"/><circle cx="1136.87" cy="1277.81" r="9.35"/><circle cx="1163.68" cy="1278.09" r="9.35"/><circle cx="1190.5" cy="1278.66" r="9.35"/><circle cx="1217.32" cy="1279.56" r="9.35"/><circle cx="1244.13" cy="1280.49" r="9.35"/><circle cx="1270.95" cy="1281.07" r="9.35"/><circle cx="1297.77" cy="1281.47" r="9.35"/><circle cx="761.43" cy="1295.15" r="9.35"/><circle cx="788.25" cy="1295.18" r="9.35"/><circle cx="815.07" cy="1295.22" r="9.35"/><circle cx="841.88" cy="1295.28" r="9.35"/><circle cx="868.7" cy="1295.35" r="9.35"/><circle cx="895.52" cy="1295.43" r="9.35"/><circle cx="922.33" cy="1295.53" r="9.35"/><circle cx="949.15" cy="1295.68" r="9.35"/><circle cx="975.97" cy="1295.98" r="9.35"/><circle cx="1002.78" cy="1296.43" r="9.35"/><circle cx="1029.6" cy="1296.85" r="9.35"/><circle cx="1056.42" cy="1297.19" r="9.35"/><circle cx="1083.23" cy="1297.51" r="9.35"/><circle cx="1110.05" cy="1297.77" r="9.35"/><circle cx="1136.87" cy="1297.97" r="9.35"/><circle cx="1163.68" cy="1298.1" r="9.35"/><circle cx="1190.5" cy="1298.16" r="9.35"/><circle cx="1217.32" cy="1298.16" r="9.35"/><circle cx="1244.13" cy="1298.16" r="9.35"/><circle cx="1270.95" cy="1298.33" r="9.35"/><circle cx="1297.77" cy="1298.69" r="9.35"/><circle cx="761.43" cy="1295.15" r="9.35"/><circle cx="788.25" cy="1295.37" r="9.35"/><circle cx="815.07" cy="1295.59" r="9.35"/><circle cx="841.88" cy="1295.8" r="9.35"/><circle cx="868.7" cy="1296" r="9.35"/><circle cx="895.52" cy="1296.19" r="9.35"/><circle cx="922.33" cy="1296.37" r="9.35"/><circle cx="949.15" cy="1296.59" r="9.35"/><circle cx="975.97" cy="1296.95" r="9.35"/><circle cx="1002.78" cy="1297.4" r="9.35"/><circle cx="1029.6" cy="1297.77" r="9.35"/><circle cx="1056.42" cy="1298.06" r="9.35"/><circle cx="1083.23" cy="1298.32" r="9.35"/><circle cx="1110.05" cy="1298.43" r="9.35"/><circle cx="1136.87" cy="1298.43" r="9.35"/><circle cx="1163.68" cy="1298.36" r="9.35"/><circle cx="1190.5" cy="1298.29" r="9.35"/><circle cx="1217.32" cy="1298.34" r="9.35"/><circle cx="1244.13" cy="1298.43" r="9.35"/><circle cx="1270.95" cy="1298.54" r="9.35"/><circle cx="1297.77" cy="1298.69" r="9.35"/><circle cx="761.43" cy="1322.45" r="9.35"/><circle cx="788.25" cy="1322.45" r="9.35"/><circle cx="815.07" cy="1322.45" r="9.35"/><circle cx="841.88" cy="1322.45" r="9.35"/><circle cx="868.7" cy="1322.45" r="9.35"/><circle cx="895.52" cy="1322.35" r="9.35"/><circle cx="922.33" cy="1322.16" r="9.35"/><circle cx="949.15" cy="1322.05" r="9.35"/><circle cx="975.97" cy="1322.05" r="9.35"/><circle cx="1002.78" cy="1322.05" r="9.35"/><circle cx="1029.6" cy="1322.05" r="9.35"/><circle cx="1056.42" cy="1322.11" r="9.35"/><circle cx="1083.23" cy="1322.2" r="9.35"/><circle cx="1110.05" cy="1322.25" r="9.35"/><circle cx="1136.87" cy="1322.25" r="9.35"/><circle cx="1163.68" cy="1322.25" r="9.35"/><circle cx="1190.5" cy="1322.25" r="9.35"/><circle cx="1217.32" cy="1322.25" r="9.35"/><circle cx="1244.13" cy="1322.25" r="9.35"/><circle cx="1270.95" cy="1322.25" r="9.35"/><circle cx="1297.77" cy="1322.25" r="9.35"/><circle cx="761.43" cy="1339.01" r="9.35"/><circle cx="788.25" cy="1339.11" r="9.35"/><circle cx="815.07" cy="1339.24" r="9.35"/><circle cx="841.88" cy="1339.38" r="9.35"/><circle cx="868.7" cy="1339.53" r="9.35"/><circle cx="895.52" cy="1339.68" r="9.35"/><circle cx="922.33" cy="1339.85" r="9.35"/><circle cx="949.15" cy="1340.12" r="9.35"/><circle cx="975.97" cy="1340.84" r="9.35"/><circle cx="1002.78" cy="1341.82" r="9.35"/><circle cx="1029.6" cy="1342.61" r="9.35"/><circle cx="1056.42" cy="1343.13" r="9.35"/><circle cx="1083.23" cy="1343.59" r="9.35"/><circle cx="1110.05" cy="1344.11" r="9.35"/><circle cx="1136.87" cy="1344.11" r="9.35"/><circle cx="1163.68" cy="1344.25" r="9.35"/><circle cx="1190.5" cy="1344.44" r="9.35"/><circle cx="1217.32" cy="1344.57" r="9.35"/><circle cx="1244.13" cy="1344.64" r="9.35"/><circle cx="1270.95" cy="1344.64" r="9.35"/><circle cx="1297.77" cy="1344.64" r="9.35"/><circle cx="761.43" cy="1339.01" r="9.35"/><circle cx="788.25" cy="1339.19" r="9.35"/><circle cx="815.07" cy="1339.38" r="9.35"/><circle cx="841.88" cy="1339.58" r="9.35"/><circle cx="868.7" cy="1339.79" r="9.35"/><circle cx="895.52" cy="1339.99" r="9.35"/><circle cx="922.33" cy="1340.2" r="9.35"/><circle cx="949.15" cy="1340.51" r="9.35"/><circle cx="975.97" cy="1341.23" r="9.35"/><circle cx="1002.78" cy="1342.15" r="9.35"/><circle cx="1029.6" cy="1342.93" r="9.35"/><circle cx="1056.42" cy="1343.46" r="9.35"/><circle cx="1083.23" cy="1343.85" r="9.35"/><circle cx="1110.05" cy="1344.24" r="9.35"/><circle cx="1136.87" cy="1344.24" r="9.35"/><circle cx="1163.68" cy="1344.32" r="9.35"/><circle cx="1190.5" cy="1344.44" r="9.35"/><circle cx="1217.32" cy="1344.56" r="9.35"/><circle cx="1244.13" cy="1344.64" r="9.35"/><circle cx="1270.95" cy="1344.64" r="9.35"/><circle cx="1297.77" cy="1344.64" r="9.35"/><circle cx="761.43" cy="1355.24" r="9.35"/><circle cx="788.25" cy="1355.13" r="9.35"/><circle cx="815.07" cy="1355.05" r="9.35"/><circle cx="841.88" cy="1355" r="9.35"/><circle cx="868.7" cy="1354.98" r="9.35"/><circle cx="895.52" cy="1354.99" r="9.35"/><circle cx="922.33" cy="1355.01" r="9.35"/><circle cx="949.15" cy="1355.04" r="9.35"/><circle cx="975.97" cy="1355.17" r="9.35"/><circle cx="1002.78" cy="1355.33" r="9.35"/><circle cx="1029.6" cy="1355.57" r="9.35"/><circle cx="1056.42" cy="1356.22" r="9.35"/><circle cx="1083.23" cy="1357.2" r="9.35"/><circle cx="1110.05" cy="1357.99" r="9.35"/><circle cx="1136.87" cy="1358.38" r="9.35"/><circle cx="1163.68" cy="1358.84" r="9.35"/><circle cx="1190.5" cy="1359.23" r="9.35"/><circle cx="1217.32" cy="1359.46" r="9.35"/><circle cx="1244.13" cy="1359.63" r="9.35"/><circle cx="1270.95" cy="1359.74" r="9.35"/><circle cx="1297.77" cy="1359.82" r="9.35"/><circle cx="761.43" cy="1355.24" r="9.35"/><circle cx="788.25" cy="1355.33" r="9.35"/><circle cx="815.07" cy="1355.43" r="9.35"/><circle cx="841.88" cy="1355.53" r="9.35"/><circle cx="868.7" cy="1355.63" r="9.35"/><circle cx="895.52" cy="1355.76" r="9.35"/><circle cx="922.33" cy="1355.9" r="9.35"/><circle cx="949.15" cy="1355.96" r="9.35"/><circle cx="975.97" cy="1355.96" r="9.35"/><circle cx="1002.78" cy="1356.09" r="9.35"/><circle cx="1029.6" cy="1356.35" r="9.35"/><circle cx="1056.42" cy="1356.88" r="9.35"/><circle cx="1083.23" cy="1357.66" r="9.35"/><circle cx="1110.05" cy="1358.32" r="9.35"/><circle cx="1136.87" cy="1358.64" r="9.35"/><circle cx="1163.68" cy="1359.04" r="9.35"/><circle cx="1190.5" cy="1359.36" r="9.35"/><circle cx="1217.32" cy="1359.51" r="9.35"/><circle cx="1244.13" cy="1359.63" r="9.35"/><circle cx="1270.95" cy="1359.73" r="9.35"/><circle cx="1297.77" cy="1359.82" r="9.35"/><circle cx="761.43" cy="834.35" r="9.35"/><circle cx="788.25" cy="834.35" r="9.35"/><circle cx="815.07" cy="834.35" r="9.35"/><circle cx="841.88" cy="834.35" r="9.35"/><circle cx="868.7" cy="834.35" r="9.35"/><circle cx="895.52" cy="834.35" r="9.35"/><circle cx="922.33" cy="833.96" r="9.35"/><circle cx="949.15" cy="833.37" r="9.35"/><circle cx="975.97" cy="833.01" r="9.35"/><circle cx="1002.78" cy="832.7" r="9.35"/><circle cx="1029.6" cy="832.39" r="9.35"/><circle cx="1056.42" cy="832.05" r="9.35"/><circle cx="1083.23" cy="831.71" r="9.35"/><circle cx="1110.05" cy="831.34" r="9.35"/><circle cx="1136.87" cy="830.88" r="9.35"/><circle cx="1163.68" cy="830.88" r="9.35"/><circle cx="1190.5" cy="830.88" r="9.35"/><circle cx="1217.32" cy="830.88" r="9.35"/><circle cx="1244.13" cy="830.88" r="9.35"/><circle cx="1270.95" cy="830.88" r="9.35"/><circle cx="1297.77" cy="830.88" r="9.35"/><circle cx="761.43" cy="1490.08" r="9.35"/><circle cx="788.25" cy="1490.06" r="9.35"/><circle cx="815.07" cy="1490.02" r="9.35"/><circle cx="841.88" cy="1489.96" r="9.35"/><circle cx="868.7" cy="1489.87" r="9.35"/><circle cx="895.52" cy="1489.75" r="9.35"/><circle cx="922.33" cy="1489.35" r="9.35"/><circle cx="949.15" cy="1488.77" r="9.35"/><circle cx="975.97" cy="1488.23" r="9.35"/><circle cx="1002.78" cy="1487.68" r="9.35"/><circle cx="1029.6" cy="1487.2" r="9.35"/><circle cx="1056.42" cy="1486.79" r="9.35"/><circle cx="1083.23" cy="1486.44" r="9.35"/><circle cx="1110.05" cy="1486.15" r="9.35"/><circle cx="1136.87" cy="1485.95" r="9.35"/><circle cx="1163.68" cy="1485.91" r="9.35"/><circle cx="1190.5" cy="1485.88" r="9.35"/><circle cx="1217.32" cy="1485.85" r="9.35"/><circle cx="1244.13" cy="1485.84" r="9.35"/><circle cx="1270.95" cy="1485.83" r="9.35"/><circle cx="1297.77" cy="1485.82" r="9.35"/><circle cx="761.43" cy="833.56" r="9.35"/><circle cx="788.25" cy="833.56" r="9.35"/><circle cx="815.07" cy="833.56" r="9.35"/><circle cx="841.88" cy="833.56" r="9.35"/><circle cx="868.7" cy="833.56" r="9.35"/><circle cx="895.52" cy="833.56" r="9.35"/><circle cx="922.33" cy="833.17" r="9.35"/><circle cx="949.15" cy="832.58" r="9.35"/><circle cx="975.97" cy="832.23" r="9.35"/><circle cx="1002.78" cy="831.98" r="9.35"/><circle cx="1029.6" cy="831.8" r="9.35"/><circle cx="1056.42" cy="831.6" r="9.35"/><circle cx="1083.23" cy="831.32" r="9.35"/><circle cx="1110.05" cy="830.95" r="9.35"/><circle cx="1136.87" cy="830.49" r="9.35"/><circle cx="1163.68" cy="830.49" r="9.35"/><circle cx="1190.5" cy="830.49" r="9.35"/><circle cx="1217.32" cy="830.49" r="9.35"/><circle cx="1244.13" cy="830.49" r="9.35"/><circle cx="1270.95" cy="830.49" r="9.35"/><circle cx="1297.77" cy="830.49" r="9.35"/></g>
<path fill="none" stroke="#000" stroke-width="2" d="M761.43 822.4V840.8M752.23 831.6H770.63M788.25 822.4V840.8M779.05 831.6H797.45M815.07 822.4V840.8M805.87 831.6H824.27M841.88 822.4V840.8M832.68 831.6H851.08M868.7 822.4V840.8M859.5 831.6H877.9M895.52 822.4V840.8M886.32 831.6H904.72M922.33 822.4V840.8M913.13 831.6H931.53M949.15 822.4V840.8M939.95 831.6H958.35M975.97 822.4V840.8M966.77 831.6H985.17M1002.78 822.4V840.8M993.58 831.6H1011.98M1029.6 822.4V840.8M1020.4 831.6H1038.8M1056.42 822.4V840.8M1047.22 831.6H1065.62M1083.23 822.4V840.8M1074.03 831.6H1092.43M1110.05 822.4V840.8M1100.85 831.6H1119.25M1136.87 822.4V840.8M1127.67 831.6H1146.07M1163.68 822.4V840.8M1154.48 831.6H1172.88M1190.5 822.4V840.8M1181.3 831.6H1199.7M1217.32 822.4V840.8M1208.12 831.6H1226.52M1244.13 822.4V840.8M1234.93 831.6H1253.33M1270.95 822.4V840.8M1261.75 831.6H1280.15M1297.77 822.4V840.8M1288.57 831.6H1306.97M761.43 1476.95V1495.35M752.23 1486.15H770.63M788.25 1476.95V1495.35M779.05 1486.15H797.45M815.07 1476.95V1495.35M805.87 1486.15H824.27M841.88 1476.95V1495.35M832.68 1486.15H851.08M868.7 1476.95V1495.35M859.5 1486.15H877.9M895.52 1476.95V1495.35M886.32 1486.15H904.72M922.33 1476.95V1495.35M913.13 1486.15H931.53M949.15 1476.95V1495.35M939.95 1486.15H958.35M975.97 1476.95V1495.35M966.77 1486.15H985.17M1002.78 1476.95V1495.35M993.58 1486.15H1011.98M1029.6 1476.95V1495.35M1020.4 1486.15H1038.8M1056.42 1476.95V1495.35M1047.22 1486.15H1065.62M1083.23 1476.95V1495.35M1074.03 1486.15H1092.43M1110.05 1476.95V1495.35M1100.85 1486.15H1119.25M1136.87 1476.95V1495.35M1127.67 1486.15H1146.07M1163.68 1476.95V1495.35M1154.48 1486.15H1172.88M1190.5 1476.95V1495.35M1181.3 1486.15H1199.7M1217.32 1476.95V1495.35M1208.12 1486.15H1226.52M1244.13 1476.95V1495.35M1234.93 1486.15H1253.33M1270.95 1476.95V1495.35M1261.75 1486.15H1280.15M1297.77 1476.95V1495.35M1288.57 1486.15H1306.97"/>
<path fill="#0000ff" stroke="#000" stroke-width="2.3" stroke-linejoin="miter" d="M761.43 1061.74L770.27 1070.58L761.43 1079.42L752.59 1070.58ZM788.25 1062.01L797.09 1070.85L788.25 1079.69L779.41 1070.85ZM815.07 1062.28L823.91 1071.12L815.07 1079.96L806.23 1071.12ZM841.88 1062.55L850.72 1071.39L841.88 1080.23L833.04 1071.39ZM868.7 1062.83L877.54 1071.67L868.7 1080.51L859.86 1071.67ZM895.52 1063.11L904.36 1071.95L895.52 1080.79L886.68 1071.95ZM922.33 1063.39L931.17 1072.23L922.33 1081.07L913.49 1072.23ZM949.15 1063.67L957.99 1072.51L949.15 1081.35L940.31 1072.51ZM975.97 1063.95L984.81 1072.79L975.97 1081.63L967.13 1072.79ZM1002.78 1064.24L1011.62 1073.08L1002.78 1081.92L993.94 1073.08ZM1029.6 1064.55L1038.44 1073.39L1029.6 1082.23L1020.76 1073.39ZM1056.42 1064.89L1065.26 1073.73L1056.42 1082.57L1047.58 1073.73ZM1083.23 1065.26L1092.07 1074.1L1083.23 1082.94L1074.39 1074.1ZM1110.05 1065.64L1118.89 1074.48L1110.05 1083.32L1101.21 1074.48ZM1136.87 1066.02L1145.71 1074.86L1136.87 1083.7L1128.03 1074.86ZM1163.68 1066.38L1172.52 1075.22L1163.68 1084.06L1154.84 1075.22ZM1190.5 1066.73L1199.34 1075.57L1190.5 1084.41L1181.66 1075.57ZM1217.32 1067.06L1226.16 1075.9L1217.32 1084.74L1208.48 1075.9ZM1244.13 1067.39L1252.97 1076.23L1244.13 1085.07L1235.29 1076.23ZM1270.95 1067.71L1279.79 1076.55L1270.95 1085.39L1262.11 1076.55ZM1297.77 1068.02L1306.61 1076.86L1297.77 1085.7L1288.93 1076.86Z"/>
</g>
<path fill="none" stroke="#000" stroke-width="2.08" d="M761.43 1486.15V1468.95M761.43 831.6V848.8M756.07 1486.15H773.27M1303.13 1486.15H1285.93M868.7 1486.15V1468.95M868.7 831.6V848.8M756.07 1355.24H773.27M1303.13 1355.24H1285.93M975.97 1486.15V1468.95M975.97 831.6V848.8M756.07 1224.33H773.27M1303.13 1224.33H1285.93M1083.23 1486.15V1468.95M1083.23 831.6V848.8M756.07 1093.42H773.27M1303.13 1093.42H1285.93M1190.5 1486.15V1468.95M1190.5 831.6V848.8M756.07 962.51H773.27M1303.13 962.51H1285.93M1297.77 1486.15V1468.95M1297.77 831.6V848.8M756.07 831.6H773.27M1303.13 831.6H1285.93"/>
<rect x="756.07" y="831.6" width="547.06" height="654.55" fill="none" stroke="#000" stroke-width="4.3"/>
<g><text x="761.43" y="1528.45" text-anchor="middle">0.0</text><text x="739.37" y="1495.35" text-anchor="end">0.0</text><text x="868.7" y="1528.45" text-anchor="middle">0.2</text><text x="739.37" y="1364.44" text-anchor="end">0.2</text><text x="975.97" y="1528.45" text-anchor="middle">0.4</text><text x="739.37" y="1233.53" text-anchor="end">0.4</text><text x="1083.23" y="1528.45" text-anchor="middle">0.6</text><text x="739.37" y="1102.62" text-anchor="end">0.6</text><text x="1190.5" y="1528.45" text-anchor="middle">0.8</text><text x="739.37" y="971.71" text-anchor="end">0.8</text><text x="1297.77" y="1528.45" text-anchor="middle">1.0</text><text x="739.37" y="840.8" text-anchor="end">1.0</text></g>
</g>
<g id="ax5">
<g clip-path="url(#c5)">
<g fill="none" stroke="#000" stroke-width="2.5"><circle cx="1417.9" cy="1461.67" r="9.35"/><circle cx="1444.72" cy="1461.93" r="9.35"/><circle cx="1471.54" cy="1461.93" r="9.35"/><circle cx="1498.35" cy="1462.32" r="9.35"/><circle cx="1525.17" cy="1461.8" r="9.35"/><circle cx="1551.99" cy="1461.8" r="9.35"/><circle cx="1578.8" cy="1461.8" r="9.35"/><circle cx="1605.62" cy="1461.8" r="9.35"/><circle cx="1632.44" cy="1461.7" r="9.35"/><circle cx="1659.25" cy="1461.6" r="9.35"/><circle cx="1686.07" cy="1461.6" r="9.35"/><circle cx="1712.89" cy="1461.76" r="9.35"/><circle cx="1739.7" cy="1462" r="9.35"/><circle cx="1766.52" cy="1462.17" r="9.35"/><circle cx="1793.34" cy="1462.32" r="9.35"/><circle cx="1820.15" cy="1462.49" r="9.35"/><circle cx="1846.97" cy="1462.59" r="9.35"/><circle cx="1873.79" cy="1462.59" r="9.35"/><circle cx="1900.6" cy="1462.59" r="9.35"/><circle cx="1927.42" cy="1462.59" r="9.35"/><circle cx="1954.24" cy="1462.59" r="9.35"/><circle cx="1417.9" cy="1461.67" r="9.35"/><circle cx="1444.72" cy="1461.41" r="9.35"/><circle cx="1471.54" cy="1460.88" r="9.35"/><circle cx="1498.35" cy="1459.97" r="9.35"/><circle cx="1525.17" cy="1459.31" r="9.35"/><circle cx="1551.99" cy="1458.99" r="9.35"/><circle cx="1578.8" cy="1458.75" r="9.35"/><circle cx="1605.62" cy="1458.66" r="9.35"/><circle cx="1632.44" cy="1458.86" r="9.35"/><circle cx="1659.25" cy="1459.84" r="9.35"/><circle cx="1686.07" cy="1460.62" r="9.35"/><circle cx="1712.89" cy="1460.99" r="9.35"/><circle cx="1739.7" cy="1461.28" r="9.35"/><circle cx="1766.52" cy="1461.6" r="9.35"/><circle cx="1793.34" cy="1461.93" r="9.35"/><circle cx="1820.15" cy="1462.34" r="9.35"/><circle cx="1846.97" cy="1462.59" r="9.35"/><circle cx="1873.79" cy="1462.59" r="9.35"/><circle cx="1900.6" cy="1462.59" r="9.35"/><circle cx="1927.42" cy="1462.59" r="9.35"/><circle cx="1954.24" cy="1462.59" r="9.35"/><circle cx="1417.9" cy="1455.19" r="9.35"/><circle cx="1444.72" cy="1455.39" r="9.35"/><circle cx="1471.54" cy="1455.52" r="9.35"/><circle cx="1498.35" cy="1455.52" r="9.35"/><circle cx="1525.17" cy="1455.39" r="9.35"/><circle cx="1551.99" cy="1455.14" r="9.35"/><circle cx="1578.8" cy="1454.73" r="9.35"/><circle cx="1605.62" cy="1454.08" r="9.35"/><circle cx="1632.44" cy="1452.05" r="9.35"/><circle cx="1659.25" cy="1450.08" r="9.35"/><circle cx="1686.07" cy="1448.58" r="9.35"/><circle cx="1712.89" cy="1447.26" r="9.35"/><circle cx="1739.7" cy="1446.22" r="9.35"/><circle cx="1766.52" cy="1445.53" r="9.35"/><circle cx="1793.34" cy="1445.04" r="9.35"/><circle cx="1820.15" cy="1444.69" r="9.35"/><circle cx="1846.97" cy="1444.52" r="9.35"/><circle cx="1873.79" cy="1444.6" r="9.35"/><circle cx="1900.6" cy="1444.78" r="9.35"/><circle cx="1927.42" cy="1445.11" r="9.35"/><circle cx="1954.24" cy="1445.63" r="9.35"/><circle cx="1417.9" cy="1455.19" r="9.35"/><circle cx="1444.72" cy="1454.8" r="9.35"/><circle cx="1471.54" cy="1454.34" r="9.35"/><circle cx="1498.35" cy="1453.82" r="9.35"/><circle cx="1525.17" cy="1453.1" r="9.35"/><circle cx="1551.99" cy="1452.57" r="9.35"/><circle cx="1578.8" cy="1452.05" r="9.35"/><circle cx="1605.62" cy="1451.2" r="9.35"/><circle cx="1632.44" cy="1449.56" r="9.35"/><circle cx="1659.25" cy="1448.58" r="9.35"/><circle cx="1686.07" cy="1447.6" r="9.35"/><circle cx="1712.89" cy="1446.62" r="9.35"/><circle cx="1739.7" cy="1445.63" r="9.35"/><circle cx="1766.52" cy="1444.85" r="9.35"/><circle cx="1793.34" cy="1444.59" r="9.35"/><circle cx="1820.15" cy="1444.45" r="9.35"/><circle cx="1846.97" cy="1444.39" r="9.35"/><circle cx="1873.79" cy="1444.52" r="9.35"/><circle cx="1900.6" cy="1444.78" r="9.35"/><circle cx="1927.42" cy="1445.14" r="9.35"/><circle cx="1954.24" cy="1445.63" r="9.35"/><circle cx="1417.9" cy="862.56" r="9.35"/><circle cx="1444.72" cy="862.63" r="9.35"/><circle cx="1471.54" cy="862.83" r="9.35"/><circle cx="1498.35" cy="863.15" r="9.35"/><circle cx="1525.17" cy="863.46" r="9.35"/><circle cx="1551.99" cy="863.62" r="9.35"/><circle cx="1578.8" cy="863.75" r="9.35"/><circle cx="1605.62" cy="864.29" r="9.35"/><circle cx="1632.44" cy="864.56" r="9.35"/><circle cx="1659.25" cy="865.29" r="9.35"/><circle cx="1686.07" cy="866.08" r="9.35"/><circle cx="1712.89" cy="866.81" r="9.35"/><circle cx="1739.7" cy="867.4" r="9.35"/><circle cx="1766.52" cy="868.06" r="9.35"/><circle cx="1793.34" cy="868.58" r="9.35"/><circle cx="1820.15" cy="869.24" r="9.35"/><circle cx="1846.97" cy="869.67" r="9.35"/><circle cx="1873.79" cy="869.7" r="9.35"/><circle cx="1900.6" cy="869.66" r="9.35"/><circle cx="1927.42" cy="869.61" r="9.35"/><circle cx="1954.24" cy="869.56" r="9.35"/><circle cx="1417.9" cy="862.56" r="9.35"/><circle cx="1444.72" cy="862.36" r="9.35"/><circle cx="1471.54" cy="862.31" r="9.35"/><circle cx="1498.35" cy="862.32" r="9.35"/><circle cx="1525.17" cy="862.31" r="9.35"/><circle cx="1551.99" cy="862.31" r="9.35"/><circle cx="1578.8" cy="862.42" r="9.35"/><circle cx="1605.62" cy="862.93" r="9.35"/><circle cx="1632.44" cy="863.18" r="9.35"/><circle cx="1659.25" cy="863.89" r="9.35"/><circle cx="1686.07" cy="864.67" r="9.35"/><circle cx="1712.89" cy="865.38" r="9.35"/><circle cx="1739.7" cy="865.97" r="9.35"/><circle cx="1766.52" cy="866.62" r="9.35"/><circle cx="1793.34" cy="867.14" r="9.35"/><circle cx="1820.15" cy="867.8" r="9.35"/><circle cx="1846.97" cy="868.41" r="9.35"/><circle cx="1873.79" cy="868.78" r="9.35"/><circle cx="1900.6" cy="869.07" r="9.35"/><circle cx="1927.42" cy="869.35" r="9.35"/><circle cx="1954.24" cy="869.56" r="9.35"/><circle cx="1417.9" cy="842.07" r="9.35"/><circle cx="1444.72" cy="841.81" r="9.35"/><circle cx="1471.54" cy="842.05" r="9.35"/><circle cx="1498.35" cy="842.51" r="9.35"/><circle cx="1525.17" cy="843.11" r="9.35"/><circle cx="1551.99" cy="844.17" r="9.35"/><circle cx="1578.8" cy="845.16" r="9.35"/><circle cx="1605.62" cy="846.68" r="9.35"/><circle cx="1632.44" cy="848.33" r="9.35"/><circle cx="1659.25" cy="849.38" r="9.35"/><circle cx="1686.07" cy="850.57" r="9.35"/><circle cx="1712.89" cy="851.56" r="9.35"/><circle cx="1739.7" cy="852.34" r="9.35"/><circle cx="1766.52" cy="852.87" r="9.35"/><circle cx="1793.34" cy="853.4" r="9.35"/><circle cx="1820.15" cy="853.66" r="9.35"/><circle cx="1846.97" cy="853.76" r="9.35"/><circle cx="1873.79" cy="853.77" r="9.35"/><circle cx="1900.6" cy="853.76" r="9.35"/><circle cx="1927.42" cy="853.71" r="9.35"/><circle cx="1954.24" cy="853.66" r="9.35"/><circle cx="1417.9" cy="842.07" r="9.35"/><circle cx="1444.72" cy="841.55" r="9.35"/><circle cx="1471.54" cy="841.53" r="9.35"/><circle cx="1498.35" cy="841.68" r="9.35"/><circle cx="1525.17" cy="841.96" r="9.35"/><circle cx="1551.99" cy="842.86" r="9.35"/><circle cx="1578.8" cy="843.83" r="9.35"/><circle cx="1605.62" cy="845.32" r="9.35"/><circle cx="1632.44" cy="846.95" r="9.35"/><circle cx="1659.25" cy="847.98" r="9.35"/><circle cx="1686.07" cy="849.16" r="9.35"/><circle cx="1712.89" cy="850.13" r="9.35"/><circle cx="1739.7" cy="850.91" r="9.35"/><circle cx="1766.52" cy="851.43" r="9.35"/><circle cx="1793.34" cy="851.96" r="9.35"/><circle cx="1820.15" cy="852.22" r="9.35"/><circle cx="1846.97" cy="852.51" r="9.35"/><circle cx="1873.79" cy="852.86" r="9.35"/><circle cx="1900.6" cy="853.17" r="9.35"/><circle cx="1927.42" cy="853.44" r="9.35"/><circle cx="1954.24" cy="853.66" r="9.35"/><circle cx="1417.9" cy="1039.09" r="9.35"/><circle cx="1444.72" cy="1039.02" r="9.35"/><circle cx="1471.54" cy="1038.98" r="9.35"/><circle cx="1498.35" cy="1038.96" r="9.35"/><circle cx="1525.17" cy="1038.96" r="9.35"/><circle cx="1551.99" cy="1039" r="9.35"/><circle cx="1578.8" cy="1039.09" r="9.35"/><circle cx="1605.62" cy="1039.22" r="9.35"/><circle cx="1632.44" cy="1039.52" r="9.35"/><circle cx="1659.25" cy="1039.99" r="9.35"/><circle cx="1686.07" cy="1040.47" r="9.35"/><circle cx="1712.89" cy="1041" r="9.35"/><circle cx="1739.7" cy="1041.53" r="9.35"/><circle cx="1766.52" cy="1041.78" r="9.35"/><circle cx="1793.34" cy="1041.45" r="9.35"/><circle cx="1820.15" cy="1040.61" r="9.35"/><circle cx="1846.97" cy="1039.49" r="9.35"/><circle cx="1873.79" cy="1038.28" r="9.35"/><circle cx="1900.6" cy="1037.26" r="9.35"/><circle cx="1927.42" cy="1036.64" r="9.35"/><circle cx="1954.24" cy="1036.28" r="9.35"/><circle cx="1417.9" cy="1039.09" r="9.35"/><circle cx="1444.72" cy="1038.92" r="9.35"/><circle cx="1471.54" cy="1038.77" r="9.35"/><circle cx="1498.35" cy="1038.65" r="9.35"/><circle cx="1525.17" cy="1038.57" r="9.35"/><circle cx="1551.99" cy="1038.51" r="9.35"/><circle cx="1578.8" cy="1038.46" r="9.35"/><circle cx="1605.62" cy="1038.44" r="9.35"/><circle cx="1632.44" cy="1038.52" r="9.35"/><circle cx="1659.25" cy="1038.72" r="9.35"/><circle cx="1686.07" cy="1038.96" r="9.35"/><circle cx="1712.89" cy="1039.32" r="9.35"/><circle cx="1739.7" cy="1039.74" r="9.35"/><circle cx="1766.52" cy="1039.94" r="9.35"/><circle cx="1793.34" cy="1039.94" r="9.35"/><circle cx="1820.15" cy="1039.66" r="9.35"/><circle cx="1846.97" cy="1039.09" r="9.35"/><circle cx="1873.79" cy="1038.19" r="9.35"/><circle cx="1900.6" cy="1037.26" r="9.35"/><circle cx="1927.42" cy="1036.68" r="9.35"/><circle cx="1954.24" cy="1036.28" r="9.35"/><circle cx="1417.9" cy="1022.6" r="9.35"/><circle cx="1444.72" cy="1022.57" r="9.35"/><circle cx="1471.54" cy="1022.53" r="9.35"/><circle cx="1498.35" cy="1022.47" r="9.35"/><circle cx="1525.17" cy="1022.4" r="9.35"/><circle cx="1551.99" cy="1022.32" r="9.35"/><circle cx="1578.8" cy="1022.22" r="9.35"/><circle cx="1605.62" cy="1022.07" r="9.35"/><circle cx="1632.44" cy="1021.77" r="9.35"/><circle cx="1659.25" cy="1021.32" r="9.35"/><circle cx="1686.07" cy="1020.9" r="9.35"/><circle cx="1712.89" cy="1020.56" r="9.35"/><circle cx="1739.7" cy="1020.24" r="9.35"/><circle cx="1766.52" cy="1019.98" r="9.35"/><circle cx="1793.34" cy="1019.78" r="9.35"/><circle cx="1820.15" cy="1019.65" r="9.35"/><circle cx="1846.97" cy="1019.59" r="9.35"/><circle cx="1873.79" cy="1019.59" r="9.35"/><circle cx="1900.6" cy="1019.59" r="9.35"/><circle cx="1927.42" cy="1019.42" r="9.35"/><circle cx="1954.24" cy="1019.06" r="9.35"/><circle cx="1417.9" cy="1022.6" r="9.35"/><circle cx="1444.72" cy="1022.38" r="9.35"/><circle cx="1471.54" cy="1022.16" r="9.35"/><circle cx="1498.35" cy="1021.95" r="9.35"/><circle cx="1525.17" cy="1021.75" r="9.35"/><circle cx="1551.99" cy="1021.56" r="9.35"/><circle cx="1578.8" cy="1021.38" r="9.35"/><circle cx="1605.62" cy="1021.16" r="9.35"/><circle cx="1632.44" cy="1020.8" r="9.35"/><circle cx="1659.25" cy="1020.35" r="9.35"/><circle cx="1686.07" cy="1019.98" r="9.35"/><circle cx="1712.89" cy="1019.69" r="9.35"/><circle cx="1739.7" cy="1019.43" r="9.35"/><circle cx="1766.52" cy="1019.32" r="9.35"/><circle cx="1793.34" cy="1019.32" r="9.35"/><circle cx="1820.15" cy="1019.39" r="9.35"/><circle cx="1846.97" cy="1019.46" r="9.35"/><circle cx="1873.79" cy="1019.41" r="9.35"/><circle cx="1900.6" cy="1019.32" r="9.35"/><circle cx="1927.42" cy="1019.21" r="9.35"/><circle cx="1954.24" cy="1019.06" r="9.35"/><circle cx="1417.9" cy="995.3" r="9.35"/><circle cx="1444.72" cy="995.3" r="9.35"/><circle cx="1471.54" cy="995.3" r="9.35"/><circle cx="1498.35" cy="995.3" r="9.35"/><circle cx="1525.17" cy="995.3" r="9.35"/><circle cx="1551.99" cy="995.4" r="9.35"/><circle cx="1578.8" cy="995.59" r="9.35"/><circle cx="1605.62" cy="995.7" r="9.35"/><circle cx="1632.44" cy="995.7" r="9.35"/><circle cx="1659.25" cy="995.7" r="9.35"/><circle cx="1686.07" cy="995.7" r="9.35"/><circle cx="1712.89" cy="995.64" r="9.35"/><circle cx="1739.7" cy="995.55" r="9.35"/><circle cx="1766.52" cy="995.5" r="9.35"/><circle cx="1793.34" cy="995.5" r="9.35"/><circle cx="1820.15" cy="995.5" r="9.35"/><circle cx="1846.97" cy="995.5" r="9.35"/><circle cx="1873.79" cy="995.5" r="9.35"/><circle cx="1900.6" cy="995.5" r="9.35"/><circle cx="1927.42" cy="995.5" r="9.35"/><circle cx="1954.24" cy="995.5" r="9.35"/><circle cx="1417.9" cy="978.74" r="9.35"/><circle cx="1444.72" cy="978.64" r="9.35"/><circle cx="1471.54" cy="978.51" r="9.35"/><circle cx="1498.35" cy="978.37" r="9.35"/><circle cx="1525.17" cy="978.22" r="9.35"/><circle cx="1551.99" cy="978.07" r="9.35"/><circle cx="1578.8" cy="977.9" r="9.35"/><circle cx="1605.62" cy="977.63" r="9.35"/><circle cx="1632.44" cy="976.91" r="9.35"/><circle cx="1659.25" cy="975.93" r="9.35"/><circle cx="1686.07" cy="975.14" r="9.35"/><circle cx="1712.89" cy="974.62" r="9.35"/><circle cx="1739.7" cy="974.16" r="9.35"/><circle cx="1766.52" cy="973.64" r="9.35"/><circle cx="1793.34" cy="973.64" r="9.35"/><circle cx="1820.15" cy="973.5" r="9.35"/><circle cx="1846.97" cy="973.31" r="9.35"/><circle cx="1873.79" cy="973.18" r="9.35"/><circle cx="1900.6" cy="973.11" r="9.35"/><circle cx="1927.42" cy="973.11" r="9.35"/><circle cx="1954.24" cy="973.11" r="9.35"/><circle cx="1417.9" cy="978.74" r="9.35"/><circle cx="1444.72" cy="978.56" r="9.35"/><circle cx="1471.54" cy="978.37" r="9.35"/><circle cx="1498.35" cy="978.17" r="9.35"/><circle cx="1525.17" cy="977.96" r="9.35"/><circle cx="1551.99" cy="977.76" r="9.35"/><circle cx="1578.8" cy="977.55" r="9.35"/><circle cx="1605.62" cy="977.24" r="9.35"/><circle cx="1632.44" cy="976.52" r="9.35"/><circle cx="1659.25" cy="975.6" r="9.35"/><circle cx="1686.07" cy="974.82" r="9.35"/><circle cx="1712.89" cy="974.29" r="9.35"/><circle cx="1739.7" cy="973.9" r="9.35"/><circle cx="1766.52" cy="973.51" r="9.35"/><circle cx="1793.34" cy="973.51" r="9.35"/><circle cx="1820.15" cy="973.43" r="9.35"/><circle cx="1846.97" cy="973.31" r="9.35"/><circle cx="1873.79" cy="973.19" r="9.35"/><circle cx="1900.6" cy="973.11" r="9.35"/><circle cx="1927.42" cy="973.11" r="9.35"/><circle cx="1954.24" cy="973.11" r="9.35"/><circle cx="1417.9" cy="962.51" r="9.35"/><circle cx="1444.72" cy="962.62" r="9.35"/><circle cx="1471.54" cy="962.7" r="9.35"/><circle cx="1498.35" cy="962.75" r="9.35"/><circle cx="1525.17" cy="962.77" r="9.35"/><circle cx="1551.99" cy="962.76" r="9.35"/><circle cx="1578.8" cy="962.74" r="9.35"/><circle cx="1605.62" cy="962.71" r="9.35"/><circle cx="1632.44" cy="962.58" r="9.35"/><circle cx="1659.25" cy="962.42" r="9.35"/><circle cx="1686.07" cy="962.18" r="9.35"/><circle cx="1712.89" cy="961.53" r="9.35"/><circle cx="1739.7" cy="960.55" r="9.35"/><circle cx="1766.52" cy="959.76" r="9.35"/><circle cx="1793.34" cy="959.37" r="9.35"/><circle cx="1820.15" cy="958.91" r="9.35"/><circle cx="1846.97" cy="958.52" r="9.35"/><circle cx="1873.79" cy="958.29" r="9.35"/><circle cx="1900.6" cy="958.12" r="9.35"/><circle cx="1927.42" cy="958.01" r="9.35"/><circle cx="1954.24" cy="957.93" r="9.35"/><circle cx="1417.9" cy="962.51" r="9.35"/><circle cx="1444.72" cy="962.42" r="9.35"/><circle cx="1471.54" cy="962.32" r="9.35"/><circle cx="1498.35" cy="962.22" r="9.35"/><circle cx="1525.17" cy="962.12" r="9.35"/><circle cx="1551.99" cy="961.99" r="9.35"/><circle cx="1578.8" cy="961.85" r="9.35"/><circle cx="1605.62" cy="961.79" r="9.35"/><circle cx="1632.44" cy="961.79" r="9.35"/><circle cx="1659.25" cy="961.66" r="9.35"/><circle cx="1686.07" cy="961.4" r="9.35"/><circle cx="1712.89" cy="960.87" r="9.35"/><circle cx="1739.7" cy="960.09" r="9.35"/><circle cx="1766.52" cy="959.43" r="9.35"/><circle cx="1793.34" cy="959.11" r="9.35"/><circle cx="1820.15" cy="958.71" r="9.35"/><circle cx="1846.97" cy="958.39" r="9.35"/><circle cx="1873.79" cy="958.24" r="9.35"/><circle cx="1900.6" cy="958.12" r="9.35"/><circle cx="1927.42" cy="958.02" r="9.35"/><circle cx="1954.24" cy="957.93" r="9.35"/><circle cx="1417.9" cy="1483.4" r="9.35"/><circle cx="1444.72" cy="1483.4" r="9.35"/><circle cx="1471.54" cy="1483.4" r="9.35"/><circle cx="1498.35" cy="1483.4" r="9.35"/><circle cx="1525.17" cy="1483.4" r="9.35"/><circle cx="1551.99" cy="1483.4" r="9.35"/><circle cx="1578.8" cy="1483.79" r="9.35"/><circle cx="1605.62" cy="1484.38" r="9.35"/><circle cx="1632.44" cy="1484.74" r="9.35"/><circle cx="1659.25" cy="1485.05" r="9.35"/><circle cx="1686.07" cy="1485.36" r="9.35"/><circle cx="1712.89" cy="1485.7" r="9.35"/><circle cx="1739.7" cy="1486.04" r="9.35"/><circle cx="1766.52" cy="1486.41" r="9.35"/><circle cx="1793.34" cy="1486.87" r="9.35"/><circle cx="1820.15" cy="1486.87" r="9.35"/><circle cx="1846.97" cy="1486.87" r="9.35"/><circle cx="1873.79" cy="1486.87" r="9.35"/><circle cx="1900.6" cy="1486.87" r="9.35"/><circle cx="1927.42" cy="1486.87" r="9.35"/><circle cx="1954.24" cy="1486.87" r="9.35"/><circle cx="1417.9" cy="827.67" r="9.35"/><circle cx="1444.72" cy="827.69" r="9.35"/><circle cx="1471.54" cy="827.73" r="9.35"/><circle cx="1498.35" cy="827.79" r="9.35"/><circle cx="1525.17" cy="827.88" r="9.35"/><circle cx="1551.99" cy="828" r="9.35"/><circle cx="1578.8" cy="828.4" r="9.35"/><circle cx="1605.62" cy="828.98" r="9.35"/><circle cx="1632.44" cy="829.52" r="9.35"/><circle cx="1659.25" cy="830.07" r="9.35"/><circle cx="1686.07" cy="830.55" r="9.35"/><circle cx="1712.89" cy="830.96" r="9.35"/><circle cx="1739.7" cy="831.31" r="9.35"/><circle cx="1766.52" cy="831.6" r="9.35"/><circle cx="1793.34" cy="831.8" r="9.35"/><circle cx="1820.15" cy="831.84" r="9.35"/><circle cx="1846.97" cy="831.87" r="9.35"/><circle cx="1873.79" cy="831.9" r="9.35"/><circle cx="1900.6" cy="831.91" r="9.35"/><circle cx="1927.42" cy="831.92" r="9.35"/><circle cx="1954.24" cy="831.93" r="9.35"/><circle cx="1417.9" cy="1484.19" r="9.35"/><circle cx="1444.72" cy="1484.19" r="9.35"/><circle cx="1471.54" cy="1484.19" r="9.35"/><circle cx="1498.35" cy="1484.19" r="9.35"/><circle cx="1525.17" cy="1484.19" r="9.35"/><circle cx="1551.99" cy="1484.19" r="9.35"/><circle cx="1578.8" cy="1484.58" r="9.35"/><circle cx="1605.62" cy="1485.17" r="9.35"/><circle cx="1632.44" cy="1485.52" r="9.35"/><circle cx="1659.25" cy="1485.77" r="9.35"/><circle cx="1686.07" cy="1485.95" r="9.35"/><circle cx="1712.89" cy="1486.15" r="9.35"/><circle cx="1739.7" cy="1486.43" r="9.35"/><circle cx="1766.52" cy="1486.8" r="9.35"/><circle cx="1793.34" cy="1487.26" r="9.35"/><circle cx="1820.15" cy="1487.26" r="9.35"/><circle cx="1846.97" cy="1487.26" r="9.35"/><circle cx="1873.79" cy="1487.26" r="9.35"/><circle cx="1900.6" cy="1487.26" r="9.35"/><circle cx="1927.42" cy="1487.26" r="9.35"/><circle cx="1954.24" cy="1487.26" r="9.35"/></g>
<path fill="none" stroke="#000" stroke-width="2" d="M1417.9 822.4V840.8M1408.7 831.6H1427.1M1444.72 822.4V840.8M1435.52 831.6H1453.92M1471.54 822.4V840.8M1462.34 831.6H1480.74M1498.35 822.4V840.8M1489.15 831.6H1507.55M1525.17 822.4V840.8M1515.97 831.6H1534.37M1551.99 822.4V840.8M1542.79 831.6H1561.19M1578.8 822.4V840.8M1569.6 831.6H1588M1605.62 822.4V840.8M1596.42 831.6H1614.82M1632.44 822.4V840.8M1623.24 831.6H1641.64M1659.25 822.4V840.8M1650.05 831.6H1668.45M1686.07 822.4V840.8M1676.87 831.6H1695.27M1712.89 822.4V840.8M1703.69 831.6H1722.09M1739.7 822.4V840.8M1730.5 831.6H1748.9M1766.52 822.4V840.8M1757.32 831.6H1775.72M1793.34 822.4V840.8M1784.14 831.6H1802.54M1820.15 822.4V840.8M1810.95 831.6H1829.35M1846.97 822.4V840.8M1837.77 831.6H1856.17M1873.79 822.4V840.8M1864.59 831.6H1882.99M1900.6 822.4V840.8M1891.4 831.6H1909.8M1927.42 822.4V840.8M1918.22 831.6H1936.62M1954.24 822.4V840.8M1945.04 831.6H1963.44M1417.9 1476.95V1495.35M1408.7 1486.15H1427.1M1444.72 1476.95V1495.35M1435.52 1486.15H1453.92M1471.54 1476.95V1495.35M1462.34 1486.15H1480.74M1498.35 1476.95V1495.35M1489.15 1486.15H1507.55M1525.17 1476.95V1495.35M1515.97 1486.15H1534.37M1551.99 1476.95V1495.35M1542.79 1486.15H1561.19M1578.8 1476.95V1495.35M1569.6 1486.15H1588M1605.62 1476.95V1495.35M1596.42 1486.15H1614.82M1632.44 1476.95V1495.35M1623.24 1486.15H1641.64M1659.25 1476.95V1495.35M1650.05 1486.15H1668.45M1686.07 1476.95V1495.35M1676.87 1486.15H1695.27M1712.89 1476.95V1495.35M1703.69 1486.15H1722.09M1739.7 1476.95V1495.35M1730.5 1486.15H1748.9M1766.52 1476.95V1495.35M1757.32 1486.15H1775.72M1793.34 1476.95V1495.35M1784.14 1486.15H1802.54M1820.15 1476.95V1495.35M1810.95 1486.15H1829.35M1846.97 1476.95V1495.35M1837.77 1486.15H1856.17M1873.79 1476.95V1495.35M1864.59 1486.15H1882.99M1900.6 1476.95V1495.35M1891.4 1486.15H1909.8M1927.42 1476.95V1495.35M1918.22 1486.15H1936.62M1954.24 1476.95V1495.35M1945.04 1486.15H1963.44"/>
<path fill="#0000ff" stroke="#000" stroke-width="2.3" stroke-linejoin="miter" d="M1417.9 1238.33L1426.74 1247.17L1417.9 1256.01L1409.06 1247.17ZM1444.72 1238.06L1453.56 1246.9L1444.72 1255.74L1435.88 1246.9ZM1471.54 1237.79L1480.38 1246.63L1471.54 1255.47L1462.7 1246.63ZM1498.35 1237.52L1507.19 1246.36L1498.35 1255.2L1489.51 1246.36ZM1525.17 1237.24L1534.01 1246.08L1525.17 1254.92L1516.33 1246.08ZM1551.99 1236.96L1560.83 1245.8L1551.99 1254.64L1543.15 1245.8ZM1578.8 1236.68L1587.64 1245.52L1578.8 1254.36L1569.96 1245.52ZM1605.62 1236.4L1614.46 1245.24L1605.62 1254.08L1596.78 1245.24ZM1632.44 1236.12L1641.28 1244.96L1632.44 1253.8L1623.6 1244.96ZM1659.25 1235.83L1668.09 1244.67L1659.25 1253.51L1650.41 1244.67ZM1686.07 1235.52L1694.91 1244.36L1686.07 1253.2L1677.23 1244.36ZM1712.89 1235.18L1721.73 1244.02L1712.89 1252.86L1704.05 1244.02ZM1739.7 1234.81L1748.54 1243.65L1739.7 1252.49L1730.86 1243.65ZM1766.52 1234.43L1775.36 1243.27L1766.52 1252.11L1757.68 1243.27ZM1793.34 1234.05L1802.18 1242.89L1793.34 1251.73L1784.5 1242.89ZM1820.15 1233.69L1828.99 1242.53L1820.15 1251.37L1811.31 1242.53ZM1846.97 1233.34L1855.81 1242.18L1846.97 1251.02L1838.13 1242.18ZM1873.79 1233.01L1882.63 1241.85L1873.79 1250.69L1864.95 1241.85ZM1900.6 1232.68L1909.44 1241.52L1900.6 1250.36L1891.76 1241.52ZM1927.42 1232.36L1936.26 1241.2L1927.42 1250.04L1918.58 1241.2ZM1954.24 1232.05L1963.08 1240.89L1954.24 1249.73L1945.4 1240.89Z"/>
</g>
<path fill="none" stroke="#000" stroke-width="2.08" d="M1417.9 1486.15V1468.95M1417.9 831.6V848.8M1412.54 1486.15H1429.74M1959.6 1486.15H1942.4M1525.17 1486.15V1468.95M1525.17 831.6V848.8M1412.54 1355.24H1429.74M1959.6 1355.24H1942.4M1632.44 1486.15V1468.95M1632.44 831.6V848.8M1412.54 1224.33H1429.74M1959.6 1224.33H1942.4M1739.7 1486.15V1468.95M1739.7 831.6V848.8M1412.54 1093.42H1429.74M1959.6 1093.42H1942.4M1846.97 1486.15V1468.95M1846.97 831.6V848.8M1412.54 962.51H1429.74M1959.6 962.51H1942.4M1954.24 1486.15V1468.95M1954.24 831.6V848.8M1412.54 831.6H1429.74M1959.6 831.6H1942.4"/>
<rect x="1412.54" y="831.6" width="547.06" height="654.55" fill="none" stroke="#000" stroke-width="4.3"/>
<g><text x="1417.9" y="1528.45" text-anchor="middle">0.0</text><text x="1395.84" y="1495.35" text-anchor="end">0.0</text><text x="1525.17" y="1528.45" text-anchor="middle">0.2</text><text x="1395.84" y="1364.44" text-anchor="end">0.2</text><text x="1632.44" y="1528.45" text-anchor="middle">0.4</text><text x="1395.84" y="1233.53" text-anchor="end">0.4</text><text x="1739.7" y="1528.45" text-anchor="middle">0.6</text><text x="1395.84" y="1102.62" text-anchor="end">0.6</text><text x="1846.97" y="1528.45" text-anchor="middle">0.8</text><text x="1395.84" y="971.71" text-anchor="end">0.8</text><text x="1954.24" y="1528.45" text-anchor="middle">1.0</text><text x="1395.84" y="840.8" text-anchor="end">1.0</text></g>
</g>
</svg>
</body>
</html>
